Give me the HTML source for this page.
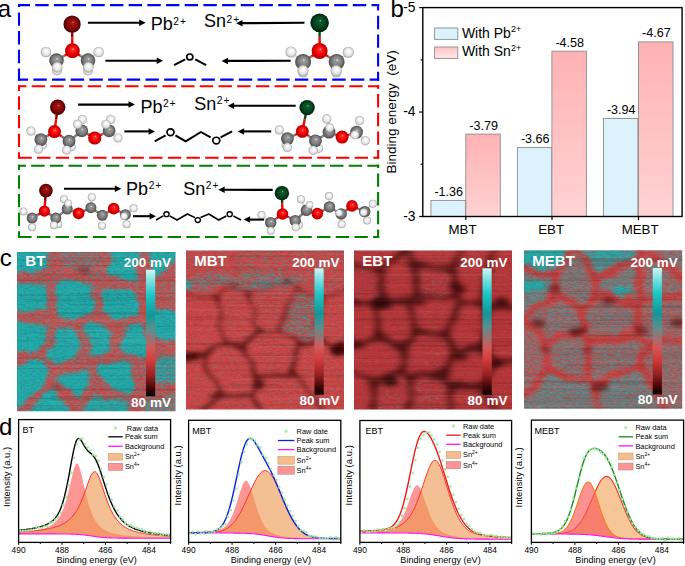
<!DOCTYPE html><html><head><meta charset="utf-8"><style>html,body{margin:0;padding:0;background:#fff;}svg{display:block;font-family:"Liberation Sans", sans-serif;}</style></head><body><svg width="685" height="566" viewBox="0 0 685 566"><defs><radialGradient id="gO" cx="0.5" cy="0.5" r="0.5" fx="0.55" fy="0.38"><stop offset="0" stop-color="#ffc0c0"/><stop offset="0.14" stop-color="#ff3030"/><stop offset="0.6" stop-color="#f20000"/><stop offset="1" stop-color="#a80000"/></radialGradient><radialGradient id="gPb" cx="0.5" cy="0.5" r="0.5" fx="0.55" fy="0.38"><stop offset="0" stop-color="#e08080"/><stop offset="0.14" stop-color="#a01818"/><stop offset="0.6" stop-color="#880808"/><stop offset="1" stop-color="#480000"/></radialGradient><radialGradient id="gSn" cx="0.5" cy="0.5" r="0.5" fx="0.55" fy="0.38"><stop offset="0" stop-color="#80c09a"/><stop offset="0.14" stop-color="#0e5c2e"/><stop offset="0.6" stop-color="#064620"/><stop offset="1" stop-color="#00220c"/></radialGradient><radialGradient id="gC" cx="0.5" cy="0.5" r="0.5" fx="0.55" fy="0.38"><stop offset="0" stop-color="#f0f0f0"/><stop offset="0.16" stop-color="#9a9a9a"/><stop offset="0.6" stop-color="#7e7e7e"/><stop offset="1" stop-color="#4c4c4c"/></radialGradient><radialGradient id="gH" cx="0.5" cy="0.5" r="0.5" fx="0.55" fy="0.38"><stop offset="0" stop-color="#ffffff"/><stop offset="0.35" stop-color="#f6f6f6"/><stop offset="0.75" stop-color="#dcdcdc"/><stop offset="1" stop-color="#a0a0a0"/></radialGradient><linearGradient id="gRed" x1="0" y1="0" x2="0" y2="1"><stop offset="0" stop-color="#ffb2b4"/><stop offset="1" stop-color="#ffd2d4"/></linearGradient><linearGradient id="gRedL" x1="0" y1="0" x2="0" y2="1"><stop offset="0" stop-color="#ffc2c5"/><stop offset="1" stop-color="#ffeaeb"/></linearGradient><linearGradient id="gCB" x1="0" y1="0" x2="0" y2="1"><stop offset="0" stop-color="#d2f6f6"/><stop offset="0.08" stop-color="#7fe4e4"/><stop offset="0.2" stop-color="#1ec6c6"/><stop offset="0.36" stop-color="#129696"/><stop offset="0.47" stop-color="#5e8e8e"/><stop offset="0.53" stop-color="#8c7878"/><stop offset="0.62" stop-color="#d05a5a"/><stop offset="0.72" stop-color="#d23c3c"/><stop offset="0.84" stop-color="#962020"/><stop offset="0.93" stop-color="#4a0808"/><stop offset="1" stop-color="#050000"/></linearGradient><filter id="blurL" x="-20%" y="-20%" width="140%" height="140%"><feTurbulence type="fractalNoise" baseFrequency="0.05 0.08" numOctaves="2" seed="4" result="t"/><feDisplacementMap in="SourceGraphic" in2="t" scale="7" xChannelSelector="R" yChannelSelector="G" result="d"/><feGaussianBlur in="d" stdDeviation="3.0 2.4"/></filter><filter id="noiseD" x="0" y="0" width="100%" height="100%"><feTurbulence type="fractalNoise" baseFrequency="0.3 1.3" numOctaves="2" seed="9" result="t"/><feColorMatrix type="matrix" values="0 0 0 0 0.1  0 0 0 0 0.02  0 0 0 0 0.02  0 0 0 1.8 -0.8"/></filter><clipPath id="clipK0"><rect x="17" y="252" width="158.5" height="159.3"/></clipPath><filter id="kf0" filterUnits="userSpaceOnUse" x="5" y="240" width="182.5" height="183.3" color-interpolation-filters="sRGB"><feTurbulence type="fractalNoise" baseFrequency="0.035 0.06" numOctaves="2" seed="11" result="t"/><feDisplacementMap in="SourceGraphic" in2="t" scale="16" xChannelSelector="R" yChannelSelector="G" result="d"/><feGaussianBlur in="d" stdDeviation="2.4 1.9" result="v"/><feTurbulence type="fractalNoise" baseFrequency="0.28 1.3" numOctaves="1" seed="61" result="n0"/><feColorMatrix in="n0" type="matrix" values="1 0 0 0 0  1 0 0 0 0  1 0 0 0 0  0 0 0 0 1" result="n"/><feComposite in="v" in2="n" operator="arithmetic" k1="0" k2="1" k3="0.6" k4="-0.3" result="m"/><feComponentTransfer in="m" result="mask"><feFuncR type="linear" slope="2.6" intercept="-0.8"/></feComponentTransfer><feColorMatrix in="mask" type="matrix" values="-0.69 0 0 0 0.82  0.38 0 0 0 0.29  0.38 0 0 0 0.29  0 0 0 0 1"/><feGaussianBlur stdDeviation="0.55 0.4"/></filter><filter id="dl0" filterUnits="userSpaceOnUse" x="5" y="240" width="182.5" height="183.3" color-interpolation-filters="sRGB"><feTurbulence type="fractalNoise" baseFrequency="0.035 0.06" numOctaves="2" seed="11" result="t"/><feDisplacementMap in="SourceGraphic" in2="t" scale="12" xChannelSelector="R" yChannelSelector="G" result="d"/><feGaussianBlur in="d" stdDeviation="2.4 1.92"/></filter><clipPath id="clipK1"><rect x="186" y="250.5" width="158" height="158.9"/></clipPath><filter id="kf1" filterUnits="userSpaceOnUse" x="174" y="238.5" width="182" height="182.9" color-interpolation-filters="sRGB"><feTurbulence type="fractalNoise" baseFrequency="0.035 0.06" numOctaves="2" seed="21" result="t"/><feDisplacementMap in="SourceGraphic" in2="t" scale="16" xChannelSelector="R" yChannelSelector="G" result="d"/><feGaussianBlur in="d" stdDeviation="2.4 1.9" result="v"/><feTurbulence type="fractalNoise" baseFrequency="0.28 1.3" numOctaves="1" seed="71" result="n0"/><feColorMatrix in="n0" type="matrix" values="1 0 0 0 0  1 0 0 0 0  1 0 0 0 0  0 0 0 0 1" result="n"/><feComposite in="v" in2="n" operator="arithmetic" k1="0" k2="1" k3="0.6" k4="-0.3" result="m"/><feComponentTransfer in="m" result="mask"><feFuncR type="linear" slope="3.0" intercept="-1"/></feComponentTransfer><feColorMatrix in="mask" type="matrix" values="-0.67 0 0 0 0.8  0.39 0 0 0 0.28  0.39 0 0 0 0.28  0 0 0 0 1"/><feGaussianBlur stdDeviation="0.55 0.4"/></filter><filter id="dl1" filterUnits="userSpaceOnUse" x="174" y="238.5" width="182" height="182.9" color-interpolation-filters="sRGB"><feTurbulence type="fractalNoise" baseFrequency="0.035 0.06" numOctaves="2" seed="21" result="t"/><feDisplacementMap in="SourceGraphic" in2="t" scale="12" xChannelSelector="R" yChannelSelector="G" result="d"/><feGaussianBlur in="d" stdDeviation="2.4 1.92"/></filter><mask id="gm1" maskUnits="userSpaceOnUse" x="181" y="245.5" width="168" height="168.9"><g filter="url(#dl1)"><rect x="172" y="236.5" width="186" height="186.9" fill="#fff"/><path d="M208.34,295.77L178.97,292.84Q172,292.14 172,299.14L172,343.03Q172,350.03 178.92,351.05L194.88,353.42Q201.8,354.44 207.8,350.84L217.53,344.98Q223.53,341.37 222.27,334.49L216.56,303.35Q215.3,296.47 208.34,295.77Z" fill="#000" stroke="#fff" stroke-width="3"/><path d="M249.14,299.31L257.61,323.49Q259.92,330.1 254.87,334.95L250.12,339.52Q245.08,344.37 238.14,343.4L230.47,342.34Q223.53,341.37 222.27,334.49L216.56,303.35Q215.3,296.47 221.4,293.04L227.59,289.56Q233.69,286.14 239.61,289.09L240.92,289.75Q246.83,292.71 249.14,299.31Z" fill="#000" stroke="#fff" stroke-width="2.5"/><path d="M247.29,351.01L255.39,375.29Q257.6,381.93 254.69,387.18L254.04,388.35Q251.14,393.6 244.15,393.97L227.41,394.85Q220.42,395.22 217.51,388.85L204.71,360.81Q201.8,354.44 207.8,350.84L217.53,344.98Q223.53,341.37 230.47,342.34L238.14,343.4Q245.08,344.37 247.29,351.01Z" fill="#000" stroke="#fff" stroke-width="4"/><path d="M266.92,329.89L272.25,329.74Q279.24,329.53 284.65,333.98L293.95,341.64Q299.35,346.09 297.32,352.79L293.44,365.6Q291.41,372.3 284.68,374.22L264.33,380.01Q257.6,381.93 255.39,375.29L247.29,351.01Q245.08,344.37 250.12,339.52L254.87,334.95Q259.92,330.1 266.92,329.89Z" fill="#000" stroke="#fff" stroke-width="3.5"/><path d="M292.46,294.29L281.7,322.98Q279.24,329.53 284.65,333.98L293.95,341.64Q299.35,346.09 306.02,343.94L311.39,342.21Q318.05,340.06 318.59,333.08L320.83,304.52Q321.37,297.54 314.81,295.11L301.48,290.17Q294.92,287.74 292.46,294.29Z" fill="#000" stroke="#fff" stroke-width="2"/><path d="M324.52,342.73L351.53,353.85Q358,356.51 358,363.51L358,416.4Q358,423.4 351,423.4L344.4,423.4Q337.4,423.4 332.71,418.2L296.09,377.51Q291.41,372.3 293.44,365.6L297.32,352.79Q299.35,346.09 306.02,343.94L311.39,342.21Q318.05,340.06 324.52,342.73Z" fill="#000" stroke="#fff" stroke-width="3"/><path d="M264.33,380.01L284.68,374.22Q291.41,372.3 296.09,377.51L332.71,418.2Q337.4,423.4 330.4,423.4L271.35,423.4Q264.35,423.4 261.51,417L253.97,400Q251.14,393.6 254.04,388.35L254.69,387.18Q257.6,381.93 264.33,380.01Z" fill="#000" stroke="#fff" stroke-width="2"/><path d="M215.57,400.26L198.12,418.36Q193.27,423.4 186.27,423.4L179,423.4Q172,423.4 172,416.4L172,357.03Q172,350.03 178.92,351.05L194.88,353.42Q201.8,354.44 204.71,360.81L217.51,388.85Q220.42,395.22 215.57,400.26Z" fill="#000" stroke="#fff" stroke-width="3"/><path d="M249.14,299.31L257.61,323.49Q259.92,330.1 266.92,329.89L272.25,329.74Q279.24,329.53 281.7,322.98L292.46,294.29Q294.92,287.74 292.67,284.67L292.18,283.99Q289.93,280.92 283.18,282.77L253.58,290.86Q246.83,292.71 249.14,299.31Z" fill="#000" stroke="#fff" stroke-width="1.5"/><path d="M172,243.5L172,285.14Q172,292.14 178.97,292.84L208.34,295.77Q215.3,296.47 221.4,293.04L227.59,289.56Q233.69,286.14 234,279.14L235.54,243.49Q235.84,236.5 228.84,236.5L179,236.5Q172,236.5 172,243.5Z" fill="#000" stroke="#fff" stroke-width="0"/><path d="M289.93,243.5L289.93,273.92Q289.93,280.92 283.18,282.77L253.58,290.86Q246.83,292.71 240.92,289.75L239.61,289.09Q233.69,286.14 234,279.14L235.54,243.49Q235.84,236.5 242.84,236.5L282.93,236.5Q289.93,236.5 289.93,243.5Z" fill="#000" stroke="#fff" stroke-width="0"/><path d="M358,243.5L358,277.31Q358,284.31 351.42,286.69L327.95,295.16Q321.37,297.54 314.81,295.11L301.48,290.17Q294.92,287.74 292.67,284.67L292.18,283.99Q289.93,280.92 289.93,273.92L289.93,243.5Q289.93,236.5 296.93,236.5L351,236.5Q358,236.5 358,243.5Z" fill="#000" stroke="#fff" stroke-width="0"/><path d="M351.53,353.85L324.52,342.73Q318.05,340.06 318.59,333.08L320.83,304.52Q321.37,297.54 327.95,295.16L351.42,286.69Q358,284.31 358,291.31L358,349.51Q358,356.51 351.53,353.85Z" fill="#000" stroke="#fff" stroke-width="2"/><path d="M253.97,400L261.51,417Q264.35,423.4 257.35,423.4L200.27,423.4Q193.27,423.4 198.12,418.36L215.57,400.26Q220.42,395.22 227.41,394.85L244.15,393.97Q251.14,393.6 253.97,400Z" fill="#000" stroke="#fff" stroke-width="4.5"/></g></mask><clipPath id="clipK2"><rect x="354" y="250.5" width="158" height="158.9"/></clipPath><filter id="kf2" filterUnits="userSpaceOnUse" x="342" y="238.5" width="182" height="182.9" color-interpolation-filters="sRGB"><feTurbulence type="fractalNoise" baseFrequency="0.035 0.06" numOctaves="2" seed="31" result="t"/><feDisplacementMap in="SourceGraphic" in2="t" scale="16" xChannelSelector="R" yChannelSelector="G" result="d"/><feGaussianBlur in="d" stdDeviation="2.4 1.9" result="v"/><feTurbulence type="fractalNoise" baseFrequency="0.28 1.3" numOctaves="1" seed="81" result="n0"/><feColorMatrix in="n0" type="matrix" values="1 0 0 0 0  1 0 0 0 0  1 0 0 0 0  0 0 0 0 1" result="n"/><feComposite in="v" in2="n" operator="arithmetic" k1="0" k2="1" k3="0.6" k4="-0.3" result="m"/><feComponentTransfer in="m" result="mask"><feFuncR type="linear" slope="3.0" intercept="-1"/></feComponentTransfer><feColorMatrix in="mask" type="matrix" values="-0.59 0 0 0 0.72  0.45 0 0 0 0.22  0.44 0 0 0 0.23  0 0 0 0 1"/><feGaussianBlur stdDeviation="0.55 0.4"/></filter><filter id="dl2" filterUnits="userSpaceOnUse" x="342" y="238.5" width="182" height="182.9" color-interpolation-filters="sRGB"><feTurbulence type="fractalNoise" baseFrequency="0.035 0.06" numOctaves="2" seed="31" result="t"/><feDisplacementMap in="SourceGraphic" in2="t" scale="12" xChannelSelector="R" yChannelSelector="G" result="d"/><feGaussianBlur in="d" stdDeviation="3.0 2.4000000000000004"/></filter><mask id="gm2" maskUnits="userSpaceOnUse" x="349" y="245.5" width="168" height="168.9"><g filter="url(#dl2)"><rect x="340" y="236.5" width="186" height="186.9" fill="#fff"/><path d="M381.27,288.72L380.71,282.63Q379.72,271.67 368.92,269.55L350.79,266Q340,263.88 340,274.88L340,289.13Q340,300.13 350.97,300.98L366.91,302.2Q377.88,303.05 379.85,301.53L380.29,301.19Q382.26,299.67 381.27,288.72Z" fill="#000" stroke="#fff" stroke-width="4.5"/><path d="M381.27,288.72L380.71,282.63Q379.72,271.67 387.58,263.98L396.7,255.06Q404.56,247.37 409.62,255.61L410.74,257.44Q415.8,265.69 415.8,276.69L415.8,286.05Q415.8,297.05 414.05,299.18L413.66,299.66Q411.91,301.79 400.93,301L393.24,300.46Q382.26,299.67 381.27,288.72Z" fill="#000" stroke="#fff" stroke-width="4.5"/><path d="M447.42,297.05L426.8,297.05Q415.8,297.05 415.8,286.05L415.8,276.69Q415.8,265.69 426.73,266.88L441.16,268.44Q452.09,269.63 454.56,280.35L455.95,286.33Q458.42,297.05 447.42,297.05Z" fill="#000" stroke="#fff" stroke-width="4.5"/><path d="M483.14,292.41L495.49,247.11Q498.39,236.5 487.39,236.5L480.21,236.5Q469.21,236.5 464.16,246.27L457.14,259.86Q452.09,269.63 454.56,280.35L455.95,286.33Q458.42,297.05 460.6,299.01L461.09,299.45Q463.28,301.41 470.91,302.13L472.61,302.29Q480.24,303.02 483.14,292.41Z" fill="#000" stroke="#fff" stroke-width="4.5"/><path d="M483.14,292.41L495.49,247.11Q498.39,236.5 509.39,236.5L515,236.5Q526,236.5 526,247.5L526,296.58Q526,307.58 515,307.58L497.56,307.58Q486.56,307.58 483.72,305.53L483.09,305.07Q480.24,303.02 483.14,292.41Z" fill="#000" stroke="#fff" stroke-width="4.5"/><path d="M393.24,300.46L400.93,301Q411.91,301.79 413.71,312.64L415.03,320.54Q416.84,331.39 410.23,338.54L408.77,340.13Q402.16,347.29 392.05,342.95L387.99,341.21Q377.88,336.88 377.88,325.88L377.88,314.05Q377.88,303.05 379.85,301.53L380.29,301.19Q382.26,299.67 393.24,300.46Z" fill="#000" stroke="#fff" stroke-width="4.5"/><path d="M413.66,299.66L414.05,299.18Q415.8,297.05 426.8,297.05L447.42,297.05Q458.42,297.05 460.6,299.01L461.09,299.45Q463.28,301.41 457.68,310.88L448.99,325.58Q443.4,335.05 432.5,333.55L427.74,332.89Q416.84,331.39 415.03,320.54L413.71,312.64Q411.91,301.79 413.66,299.66Z" fill="#000" stroke="#fff" stroke-width="4.5"/><path d="M403.31,358.23L403.69,361.77Q404.84,372.71 406.61,374.37L407,374.74Q408.78,376.4 419.78,376.4L434.29,376.4Q445.29,376.4 449.38,366.19L450.49,363.42Q454.57,353.21 449.54,345.04L448.42,343.22Q443.4,335.05 432.5,333.55L427.74,332.89Q416.84,331.39 410.23,338.54L408.77,340.13Q402.16,347.29 403.31,358.23Z" fill="#000" stroke="#fff" stroke-width="4.5"/><path d="M367.52,340.58L350.36,346.71Q340,350.41 340,356.91L340,358.36Q340,364.87 349.99,369.47L365.31,376.55Q375.29,381.15 385.87,378.13L394.26,375.74Q404.84,372.71 403.69,361.77L403.31,358.23Q402.16,347.29 392.05,342.95L387.99,341.21Q377.88,336.88 367.52,340.58Z" fill="#000" stroke="#fff" stroke-width="4.5"/><path d="M465.46,351.65L472.48,350.65Q483.37,349.09 484.21,338.13L485.72,318.55Q486.56,307.58 483.72,305.53L483.09,305.07Q480.24,303.02 472.61,302.29L470.91,302.13Q463.28,301.41 457.68,310.88L448.99,325.58Q443.4,335.05 448.42,343.22L449.54,345.04Q454.57,353.21 465.46,351.65Z" fill="#000" stroke="#fff" stroke-width="4.5"/><path d="M450.49,363.42L449.38,366.19Q445.29,376.4 447.19,379.25L447.61,379.88Q449.51,382.72 460.45,383.82L472.7,385.04Q483.64,386.14 488.19,376.12L491.17,369.56Q495.73,359.55 490.17,354.85L488.93,353.8Q483.37,349.09 472.48,350.65L465.46,351.65Q454.57,353.21 450.49,363.42Z" fill="#000" stroke="#fff" stroke-width="4.5"/><path d="M497.56,307.58L515,307.58Q526,307.58 526,318.58L526,348.55Q526,359.55 515,359.55L506.73,359.55Q495.73,359.55 490.17,354.85L488.93,353.8Q483.37,349.09 484.21,338.13L485.72,318.55Q486.56,307.58 497.56,307.58Z" fill="#000" stroke="#fff" stroke-width="4.5"/><path d="M406.61,374.37L407,374.74Q408.78,376.4 408.78,387.4L408.78,412.4Q408.78,423.4 397.78,423.4L382.07,423.4Q371.07,423.4 372.16,412.45L374.2,392.1Q375.29,381.15 385.87,378.13L394.26,375.74Q404.84,372.71 406.61,374.37Z" fill="#000" stroke="#fff" stroke-width="4.5"/><path d="M408.78,412.4L408.78,387.4Q408.78,376.4 419.78,376.4L434.29,376.4Q445.29,376.4 447.19,379.25L447.61,379.88Q449.51,382.72 449.51,393.72L449.51,412.4Q449.51,423.4 438.51,423.4L419.78,423.4Q408.78,423.4 408.78,412.4Z" fill="#000" stroke="#fff" stroke-width="4.5"/><path d="M449.51,412.4L449.51,393.72Q449.51,382.72 460.45,383.82L472.7,385.04Q483.64,386.14 487.87,396.29L494.94,413.25Q499.17,423.4 488.17,423.4L460.51,423.4Q449.51,423.4 449.51,412.4Z" fill="#000" stroke="#fff" stroke-width="4.5"/><path d="M515,359.55L506.73,359.55Q495.73,359.55 491.17,369.56L488.19,376.12Q483.64,386.14 487.87,396.29L494.94,413.25Q499.17,423.4 510.17,423.4L515,423.4Q526,423.4 526,412.4L526,370.55Q526,359.55 515,359.55Z" fill="#000" stroke="#fff" stroke-width="4.5"/><path d="M366.91,302.2L350.97,300.98Q340,300.13 340,311.13L340,339.41Q340,350.41 350.36,346.71L367.52,340.58Q377.88,336.88 377.88,325.88L377.88,314.05Q377.88,303.05 366.91,302.2Z" fill="#000" stroke="#fff" stroke-width="4.5"/><path d="M387.58,263.98L396.7,255.06Q404.56,247.37 404.56,242.48L404.56,241.39Q404.56,236.5 393.56,236.5L351,236.5Q340,236.5 340,247.5L340,252.88Q340,263.88 350.79,266L368.92,269.55Q379.72,271.67 387.58,263.98Z" fill="#000" stroke="#fff" stroke-width="4.5"/><path d="M404.56,241.39L404.56,242.48Q404.56,247.37 409.62,255.61L410.74,257.44Q415.8,265.69 426.73,266.88L441.16,268.44Q452.09,269.63 457.14,259.86L464.16,246.27Q469.21,236.5 458.21,236.5L415.56,236.5Q404.56,236.5 404.56,241.39Z" fill="#000" stroke="#fff" stroke-width="4.5"/><path d="M374.2,392.1L372.16,412.45Q371.07,423.4 360.07,423.4L351,423.4Q340,423.4 340,412.4L340,375.87Q340,364.87 349.99,369.47L365.31,376.55Q375.29,381.15 374.2,392.1Z" fill="#000" stroke="#fff" stroke-width="4.5"/></g></mask><clipPath id="clipK3"><rect x="524" y="250.2" width="158.2" height="158.5"/></clipPath><filter id="kf3" filterUnits="userSpaceOnUse" x="512" y="238.2" width="182.2" height="182.5" color-interpolation-filters="sRGB"><feTurbulence type="fractalNoise" baseFrequency="0.035 0.06" numOctaves="2" seed="41" result="t"/><feDisplacementMap in="SourceGraphic" in2="t" scale="16" xChannelSelector="R" yChannelSelector="G" result="d"/><feGaussianBlur in="d" stdDeviation="2.4 1.9" result="v"/><feTurbulence type="fractalNoise" baseFrequency="0.28 1.3" numOctaves="1" seed="91" result="n0"/><feColorMatrix in="n0" type="matrix" values="1 0 0 0 0  1 0 0 0 0  1 0 0 0 0  0 0 0 0 1" result="n"/><feComposite in="v" in2="n" operator="arithmetic" k1="0" k2="1" k3="0.6" k4="-0.3" result="m"/><feComponentTransfer in="m" result="mask"><feFuncR type="linear" slope="2.2" intercept="-0.6"/></feComponentTransfer><feColorMatrix in="mask" type="matrix" values="-0.69 0 0 0 0.82  0.38 0 0 0 0.29  0.38 0 0 0 0.29  0 0 0 0 1"/><feGaussianBlur stdDeviation="0.55 0.4"/></filter><filter id="dl3" filterUnits="userSpaceOnUse" x="512" y="238.2" width="182.2" height="182.5" color-interpolation-filters="sRGB"><feTurbulence type="fractalNoise" baseFrequency="0.035 0.06" numOctaves="2" seed="41" result="t"/><feDisplacementMap in="SourceGraphic" in2="t" scale="12" xChannelSelector="R" yChannelSelector="G" result="d"/><feGaussianBlur in="d" stdDeviation="2.4 1.92"/></filter><mask id="gm3" maskUnits="userSpaceOnUse" x="519" y="245.2" width="168.2" height="168.5"><g filter="url(#dl3)"><rect x="510" y="236.2" width="186.2" height="186.5" fill="#fff"/><path d="M557.63,269.79L570.57,250.38Q574.45,244.55 574.42,240.79L574.41,239.96Q574.38,236.2 567.38,236.2L517,236.2Q510,236.2 510,243.2L510,259.86Q510,266.86 516.86,268.24L546.88,274.24Q553.74,275.61 557.63,269.79Z" fill="#000" stroke="#fff" stroke-width="3"/><path d="M555.48,287.77L554.73,282.54Q553.74,275.61 546.88,274.24L516.86,268.24Q510,266.86 510,273.86L510,312.84Q510,319.84 514.83,320.22L515.9,320.31Q520.72,320.69 526.38,316.58L550.81,298.81Q556.47,294.7 555.48,287.77Z" fill="#000" stroke="#fff" stroke-width="3"/><path d="M589.34,302.63L590.68,301.3Q595.63,296.35 595.63,289.35L595.63,282.55Q595.63,275.55 591.68,269.77L578.4,250.33Q574.45,244.55 570.57,250.38L557.63,269.79Q553.74,275.61 554.73,282.54L555.48,287.77Q556.47,294.7 562.82,297.63L578.04,304.65Q584.39,307.58 589.34,302.63Z" fill="#000" stroke="#fff" stroke-width="3"/><path d="M629.93,263L602.2,273.14Q595.63,275.55 595.63,282.55L595.63,289.35Q595.63,296.35 602.55,297.41L630.14,301.66Q637.06,302.72 638,301.54L638.2,301.27Q639.14,300.09 638.67,293.1L636.97,267.58Q636.5,260.59 629.93,263Z" fill="#000" stroke="#fff" stroke-width="3"/><path d="M641.5,242.51L641.46,241.36Q641.29,236.2 634.29,236.2L581.38,236.2Q574.38,236.2 574.41,239.96L574.42,240.79Q574.45,244.55 578.4,250.33L591.68,269.77Q595.63,275.55 602.2,273.14L629.93,263Q636.5,260.59 638.83,254.78L639.35,253.48Q641.68,247.67 641.5,242.51Z" fill="#000" stroke="#fff" stroke-width="3"/><path d="M647.28,251.87L690.6,284.36Q696.2,288.56 696.2,291L696.2,291.54Q696.2,293.97 689.24,294.72L646.1,299.34Q639.14,300.09 638.67,293.1L636.97,267.58Q636.5,260.59 638.83,254.78L639.35,253.48Q641.68,247.67 647.28,251.87Z" fill="#000" stroke="#fff" stroke-width="3"/><path d="M584.39,326.67L584.39,314.58Q584.39,307.58 578.04,304.65L562.82,297.63Q556.47,294.7 550.81,298.81L526.38,316.58Q520.72,320.69 526.42,324.76L540.78,335.02Q546.47,339.09 553.4,338.1L577.46,334.66Q584.39,333.67 584.39,326.67Z" fill="#000" stroke="#fff" stroke-width="3"/><path d="M596.94,339.5L630.13,334.76Q637.06,333.77 637.06,326.77L637.06,309.72Q637.06,302.72 630.14,301.66L602.55,297.41Q595.63,296.35 590.68,301.3L589.34,302.63Q584.39,307.58 584.39,314.58L584.39,326.67Q584.39,333.67 586.92,336.74L587.48,337.42Q590.01,340.49 596.94,339.5Z" fill="#000" stroke="#fff" stroke-width="3"/><path d="M689.26,341.11L654.85,345.64Q647.91,346.55 643.38,341.22L641.59,339.11Q637.06,333.77 637.06,326.77L637.06,309.72Q637.06,302.72 638,301.54L638.2,301.27Q639.14,300.09 646.1,299.34L689.24,294.72Q696.2,293.97 696.2,300.97L696.2,333.2Q696.2,340.2 689.26,341.11Z" fill="#000" stroke="#fff" stroke-width="3"/><path d="M590.01,370.16L590.01,347.49Q590.01,340.49 587.48,337.42L586.92,336.74Q584.39,333.67 577.46,334.66L553.4,338.1Q546.47,339.09 546.47,346.09L546.47,366.81Q546.47,373.81 553.45,374.35L583.03,376.62Q590.01,377.16 590.01,370.16Z" fill="#000" stroke="#fff" stroke-width="3"/><path d="M590.01,370.16L590.01,347.49Q590.01,340.49 596.94,339.5L630.13,334.76Q637.06,333.77 641.59,339.11L643.38,341.22Q647.91,346.55 646.13,353.32L644.09,361.08Q642.31,367.85 635.77,370.36L602.16,383.29Q595.63,385.8 593.1,381.91L592.54,381.05Q590.01,377.16 590.01,370.16Z" fill="#000" stroke="#fff" stroke-width="3"/><path d="M514.83,320.22L515.9,320.31Q520.72,320.69 526.42,324.76L540.78,335.02Q546.47,339.09 546.47,346.09L546.47,366.81Q546.47,373.81 541.13,378.33L515.34,400.15Q510,404.67 510,397.67L510,326.84Q510,319.84 514.83,320.22Z" fill="#000" stroke="#fff" stroke-width="3"/><path d="M515.34,400.15L541.13,378.33Q546.47,373.81 553.45,374.35L583.03,376.62Q590.01,377.16 592.54,381.05L593.1,381.91Q595.63,385.8 595.63,392.8L595.63,415.7Q595.63,422.7 588.63,422.7L517,422.7Q510,422.7 510,415.7L510,411.67Q510,404.67 515.34,400.15Z" fill="#000" stroke="#fff" stroke-width="3"/><path d="M602.16,383.29L635.77,370.36Q642.31,367.85 645.78,373.93L670.18,416.62Q673.65,422.7 666.65,422.7L602.63,422.7Q595.63,422.7 595.63,415.7L595.63,392.8Q595.63,385.8 602.16,383.29Z" fill="#000" stroke="#fff" stroke-width="3"/><path d="M646.13,353.32L644.09,361.08Q642.31,367.85 645.78,373.93L670.18,416.62Q673.65,422.7 680.65,422.7L689.2,422.7Q696.2,422.7 696.2,415.7L696.2,347.2Q696.2,340.2 689.26,341.11L654.85,345.64Q647.91,346.55 646.13,353.32Z" fill="#000" stroke="#fff" stroke-width="3"/><path d="M641.5,242.51L641.46,241.36Q641.29,236.2 648.29,236.2L689.2,236.2Q696.2,236.2 696.2,243.2L696.2,281.56Q696.2,288.56 690.6,284.36L647.28,251.87Q641.68,247.67 641.5,242.51Z" fill="#000" stroke="#fff" stroke-width="3"/></g></mask><clipPath id="clipXBT"><rect x="18.6" y="419.6" width="152" height="122.8"/></clipPath><clipPath id="clipXMBT"><rect x="188.6" y="420.3" width="152.2" height="122.1"/></clipPath><clipPath id="clipXEBT"><rect x="359.9" y="420.5" width="151.7" height="121.9"/></clipPath><clipPath id="clipXMEBT"><rect x="531.4" y="420.1" width="152.2" height="122.3"/></clipPath></defs><g id="pa">
<text x="-2.2" y="17.3" font-size="24" text-anchor="start" font-weight="normal" fill="#000" >a</text>
<line x1="17.95" y1="5.1" x2="379.15" y2="5.1" stroke="#0000ff" stroke-width="2.1" stroke-dasharray="13.4 5.28" stroke-dashoffset="1.35"/>
<line x1="378.1" y1="4.05" x2="378.1" y2="80.65" stroke="#0000ff" stroke-width="2.1" stroke-dasharray="13.4 5.28" stroke-dashoffset="6.95"/>
<line x1="17.95" y1="79.6" x2="379.15" y2="79.6" stroke="#0000ff" stroke-width="2.1" stroke-dasharray="13.4 5.28" stroke-dashoffset="3.25"/>
<line x1="19" y1="4.05" x2="19" y2="80.65" stroke="#0000ff" stroke-width="2.1" stroke-dasharray="13.4 5.28" stroke-dashoffset="10.35"/>
<line x1="17.95" y1="86.2" x2="379.15" y2="86.2" stroke="#ff0000" stroke-width="2.1" stroke-dasharray="13.4 5.28" stroke-dashoffset="4.95"/>
<line x1="378.1" y1="85.15" x2="378.1" y2="158.85" stroke="#ff0000" stroke-width="2.1" stroke-dasharray="13.4 5.28" stroke-dashoffset="9.75"/>
<line x1="17.95" y1="157.8" x2="379.15" y2="157.8" stroke="#ff0000" stroke-width="2.1" stroke-dasharray="13.4 5.28" stroke-dashoffset="-0.45"/>
<line x1="19" y1="85.15" x2="19" y2="158.85" stroke="#ff0000" stroke-width="2.1" stroke-dasharray="13.4 5.28" stroke-dashoffset="7.55"/>
<line x1="17.95" y1="165.8" x2="379.15" y2="165.8" stroke="#008000" stroke-width="2.1" stroke-dasharray="13.4 5.28" stroke-dashoffset="5.45"/>
<line x1="378.1" y1="164.75" x2="378.1" y2="238.05" stroke="#008000" stroke-width="2.1" stroke-dasharray="13.4 5.28" stroke-dashoffset="10.05"/>
<line x1="17.95" y1="237" x2="379.15" y2="237" stroke="#008000" stroke-width="2.1" stroke-dasharray="13.4 5.28" stroke-dashoffset="-0.25"/>
<line x1="19" y1="164.75" x2="19" y2="238.05" stroke="#008000" stroke-width="2.1" stroke-dasharray="13.4 5.28" stroke-dashoffset="8.15"/>
<line x1="72.1" y1="24.2" x2="72.25" y2="37.45" stroke="#8a0000" stroke-width="2.4"/>
<line x1="72.25" y1="37.45" x2="72.4" y2="50.7" stroke="#f00" stroke-width="2.4"/>
<line x1="72.4" y1="50.7" x2="64.45" y2="55.65" stroke="#f00" stroke-width="2.4"/>
<line x1="64.45" y1="55.65" x2="56.5" y2="60.6" stroke="#777" stroke-width="2.4"/>
<line x1="72.4" y1="50.7" x2="80.2" y2="55.65" stroke="#f00" stroke-width="2.4"/>
<line x1="80.2" y1="55.65" x2="88" y2="60.6" stroke="#777" stroke-width="2.4"/>
<line x1="56.5" y1="60.6" x2="51.2" y2="56.3" stroke="#777" stroke-width="2.4"/>
<line x1="51.2" y1="56.3" x2="45.9" y2="52" stroke="#ddd" stroke-width="2.4"/>
<line x1="88" y1="60.6" x2="93.3" y2="56.3" stroke="#777" stroke-width="2.4"/>
<line x1="93.3" y1="56.3" x2="98.6" y2="52" stroke="#ddd" stroke-width="2.4"/>
<circle cx="57" cy="70.5" r="5" fill="url(#gH)"/>
<circle cx="88" cy="70.5" r="5" fill="url(#gH)"/>
<circle cx="45.9" cy="52" r="5.3" fill="url(#gH)"/>
<circle cx="98.6" cy="52" r="5.3" fill="url(#gH)"/>
<circle cx="56.5" cy="60.6" r="7.3" fill="url(#gC)"/>
<circle cx="88" cy="60.6" r="7.3" fill="url(#gC)"/>
<circle cx="72.4" cy="50.7" r="7.4" fill="url(#gO)"/>
<circle cx="72.1" cy="24.2" r="8.6" fill="url(#gPb)"/>
<circle cx="57.2" cy="67.2" r="5.3" fill="url(#gH)"/>
<circle cx="88.3" cy="67.2" r="5.3" fill="url(#gH)"/>
<line x1="319.6" y1="22.8" x2="319.6" y2="36.9" stroke="#064a22" stroke-width="2.4"/>
<line x1="319.6" y1="36.9" x2="319.6" y2="51" stroke="#f00" stroke-width="2.4"/>
<line x1="319.6" y1="51" x2="311.35" y2="56.45" stroke="#f00" stroke-width="2.4"/>
<line x1="311.35" y1="56.45" x2="303.1" y2="61.9" stroke="#777" stroke-width="2.4"/>
<line x1="319.6" y1="51" x2="328.1" y2="56.45" stroke="#f00" stroke-width="2.4"/>
<line x1="328.1" y1="56.45" x2="336.6" y2="61.9" stroke="#777" stroke-width="2.4"/>
<line x1="303.1" y1="61.9" x2="297.05" y2="56.95" stroke="#777" stroke-width="2.4"/>
<line x1="297.05" y1="56.95" x2="291" y2="52" stroke="#ddd" stroke-width="2.4"/>
<line x1="336.6" y1="61.9" x2="342.45" y2="57.1" stroke="#777" stroke-width="2.4"/>
<line x1="342.45" y1="57.1" x2="348.3" y2="52.3" stroke="#ddd" stroke-width="2.4"/>
<circle cx="303" cy="72.6" r="5" fill="url(#gH)"/>
<circle cx="336.4" cy="72.6" r="5" fill="url(#gH)"/>
<circle cx="291" cy="52" r="5.6" fill="url(#gH)"/>
<circle cx="348.3" cy="52.3" r="5.6" fill="url(#gH)"/>
<circle cx="303.1" cy="61.9" r="8" fill="url(#gC)"/>
<circle cx="336.6" cy="61.9" r="8" fill="url(#gC)"/>
<circle cx="319.6" cy="51" r="8" fill="url(#gO)"/>
<circle cx="319.6" cy="22.8" r="9.3" fill="url(#gSn)"/>
<circle cx="303" cy="70.6" r="5.6" fill="url(#gH)"/>
<circle cx="336.2" cy="70.6" r="5.6" fill="url(#gH)"/>
<line x1="87.9" y1="22.8" x2="139.7" y2="22.8" stroke="#000" stroke-width="2.1"/>
<path d="M145.6,22.8L139.2,26.05L139.2,19.55Z" fill="#000"/>
<line x1="304.5" y1="22.8" x2="242" y2="23.17" stroke="#000" stroke-width="2.1"/>
<path d="M236.1,23.2L242.48,19.91L242.52,26.41Z" fill="#000"/>
<line x1="105.4" y1="60.8" x2="157.2" y2="60.8" stroke="#000" stroke-width="2.1"/>
<path d="M163.1,60.8L156.7,64.05L156.7,57.55Z" fill="#000"/>
<line x1="290.7" y1="60.8" x2="227.5" y2="60.89" stroke="#000" stroke-width="2.1"/>
<path d="M221.6,60.9L228,57.64L228,64.14Z" fill="#000"/>
<text x="150.8" y="29.6" font-size="18">Pb<tspan font-size="10.2" dy="-4.4" dx="0.5" letter-spacing="1.0">2+</tspan></text>
<text x="204" y="27.3" font-size="18">Sn<tspan font-size="10.2" dy="-4.4" dx="0.5" letter-spacing="1.0">2+</tspan></text>
<path d="M174,65.1L185.2,59.3" fill="none" stroke="#000" stroke-width="2.0" stroke-linejoin="round"/>
<path d="M195.2,59.3L206.2,65.1" fill="none" stroke="#000" stroke-width="2.0" stroke-linejoin="round"/>
<ellipse cx="189.8" cy="56.9" rx="3.05" ry="2.95" fill="none" stroke="#000" stroke-width="1.65"/>
<line x1="57.7" y1="107.2" x2="56.1" y2="119.4" stroke="#8a0000" stroke-width="2.4"/>
<line x1="56.1" y1="119.4" x2="54.5" y2="131.6" stroke="#f00" stroke-width="2.4"/>
<line x1="54.5" y1="131.6" x2="47.7" y2="135.6" stroke="#f00" stroke-width="2.4"/>
<line x1="47.7" y1="135.6" x2="40.9" y2="139.6" stroke="#777" stroke-width="2.4"/>
<line x1="54.5" y1="131.6" x2="61.75" y2="136.4" stroke="#f00" stroke-width="2.4"/>
<line x1="61.75" y1="136.4" x2="69" y2="141.2" stroke="#777" stroke-width="2.4"/>
<line x1="69" y1="141.2" x2="75.4" y2="136" stroke="#777" stroke-width="2.4"/>
<line x1="75.4" y1="136" x2="81.8" y2="130.8" stroke="#777" stroke-width="2.4"/>
<line x1="81.8" y1="130.8" x2="88.25" y2="134.4" stroke="#777" stroke-width="2.4"/>
<line x1="88.25" y1="134.4" x2="94.7" y2="138" stroke="#f00" stroke-width="2.4"/>
<line x1="94.7" y1="138" x2="101.9" y2="134.4" stroke="#f00" stroke-width="2.4"/>
<line x1="101.9" y1="134.4" x2="109.1" y2="130.8" stroke="#777" stroke-width="2.4"/>
<line x1="40.9" y1="139.6" x2="35.9" y2="135.35" stroke="#777" stroke-width="2.4"/>
<line x1="35.9" y1="135.35" x2="30.9" y2="131.1" stroke="#ddd" stroke-width="2.4"/>
<line x1="109.1" y1="130.8" x2="113.55" y2="134.4" stroke="#777" stroke-width="2.4"/>
<line x1="113.55" y1="134.4" x2="118" y2="138" stroke="#ddd" stroke-width="2.4"/>
<circle cx="42.5" cy="145.2" r="4.4" fill="url(#gH)"/>
<circle cx="71.4" cy="146.8" r="4.4" fill="url(#gH)"/>
<circle cx="30.9" cy="131.1" r="4.6" fill="url(#gH)"/>
<circle cx="82.3" cy="119.5" r="4.6" fill="url(#gH)"/>
<circle cx="110.7" cy="119.5" r="4.6" fill="url(#gH)"/>
<circle cx="40.9" cy="139.6" r="6.4" fill="url(#gC)"/>
<circle cx="69" cy="141.2" r="6.4" fill="url(#gC)"/>
<circle cx="81.8" cy="130.8" r="6.4" fill="url(#gC)"/>
<circle cx="109.1" cy="130.8" r="6.4" fill="url(#gC)"/>
<circle cx="54.5" cy="131.6" r="6.5" fill="url(#gO)"/>
<circle cx="94.7" cy="138" r="6.6" fill="url(#gO)"/>
<circle cx="57.7" cy="107.2" r="7.7" fill="url(#gPb)"/>
<circle cx="38.5" cy="149.2" r="4.6" fill="url(#gH)"/>
<circle cx="66.6" cy="150" r="4.6" fill="url(#gH)"/>
<circle cx="77.5" cy="124.3" r="4.6" fill="url(#gH)"/>
<circle cx="105.9" cy="124.3" r="4.6" fill="url(#gH)"/>
<circle cx="118" cy="138" r="4.6" fill="url(#gH)"/>
<line x1="307.1" y1="107.6" x2="304.7" y2="119.5" stroke="#064a22" stroke-width="2.4"/>
<line x1="304.7" y1="119.5" x2="302.3" y2="131.4" stroke="#f00" stroke-width="2.4"/>
<line x1="302.3" y1="131.4" x2="294.85" y2="135" stroke="#f00" stroke-width="2.4"/>
<line x1="294.85" y1="135" x2="287.4" y2="138.6" stroke="#777" stroke-width="2.4"/>
<line x1="302.3" y1="131.4" x2="308.85" y2="136.1" stroke="#f00" stroke-width="2.4"/>
<line x1="308.85" y1="136.1" x2="315.4" y2="140.8" stroke="#777" stroke-width="2.4"/>
<line x1="315.4" y1="140.8" x2="322.2" y2="136.45" stroke="#777" stroke-width="2.4"/>
<line x1="322.2" y1="136.45" x2="329" y2="132.1" stroke="#777" stroke-width="2.4"/>
<line x1="329" y1="132.1" x2="335.55" y2="134.6" stroke="#777" stroke-width="2.4"/>
<line x1="335.55" y1="134.6" x2="342.1" y2="137.1" stroke="#f00" stroke-width="2.4"/>
<line x1="342.1" y1="137.1" x2="349.35" y2="134.6" stroke="#f00" stroke-width="2.4"/>
<line x1="349.35" y1="134.6" x2="356.6" y2="132.1" stroke="#777" stroke-width="2.4"/>
<line x1="287.4" y1="138.6" x2="283.35" y2="134.25" stroke="#777" stroke-width="2.4"/>
<line x1="283.35" y1="134.25" x2="279.3" y2="129.9" stroke="#ddd" stroke-width="2.4"/>
<line x1="356.6" y1="132.1" x2="360.95" y2="136.45" stroke="#777" stroke-width="2.4"/>
<line x1="360.95" y1="136.45" x2="365.3" y2="140.8" stroke="#ddd" stroke-width="2.4"/>
<line x1="329" y1="132.1" x2="327.9" y2="125.5" stroke="#777" stroke-width="2.4"/>
<line x1="327.9" y1="125.5" x2="326.8" y2="118.9" stroke="#ddd" stroke-width="2.4"/>
<line x1="356.6" y1="132.1" x2="358.1" y2="126.3" stroke="#777" stroke-width="2.4"/>
<line x1="358.1" y1="126.3" x2="359.6" y2="120.5" stroke="#ddd" stroke-width="2.4"/>
<circle cx="286" cy="145" r="4.4" fill="url(#gH)"/>
<circle cx="318.7" cy="148.5" r="4.4" fill="url(#gH)"/>
<circle cx="279.3" cy="129.9" r="4.6" fill="url(#gH)"/>
<circle cx="326.8" cy="118.9" r="4.6" fill="url(#gH)"/>
<circle cx="359.6" cy="120.5" r="4.6" fill="url(#gH)"/>
<circle cx="365.3" cy="140.8" r="4.6" fill="url(#gH)"/>
<circle cx="287.4" cy="138.6" r="6.4" fill="url(#gC)"/>
<circle cx="315.4" cy="140.8" r="6.4" fill="url(#gC)"/>
<circle cx="329" cy="132.1" r="6.4" fill="url(#gC)"/>
<circle cx="356.6" cy="132.1" r="6.4" fill="url(#gC)"/>
<circle cx="302.3" cy="131.4" r="6.4" fill="url(#gO)"/>
<circle cx="342.1" cy="137.1" r="6.5" fill="url(#gO)"/>
<circle cx="307.1" cy="107.6" r="7.7" fill="url(#gSn)"/>
<circle cx="287.4" cy="147.4" r="4.6" fill="url(#gH)"/>
<circle cx="313.2" cy="150.3" r="4.6" fill="url(#gH)"/>
<circle cx="329.6" cy="127.7" r="4.4" fill="url(#gH)"/>
<circle cx="354.8" cy="134.9" r="4.4" fill="url(#gH)"/>
<line x1="78.1" y1="104.6" x2="129" y2="104.6" stroke="#000" stroke-width="2.1"/>
<path d="M134.9,104.6L128.5,107.85L128.5,101.35Z" fill="#000"/>
<line x1="295.7" y1="105.8" x2="233.6" y2="105.71" stroke="#000" stroke-width="2.1"/>
<path d="M227.7,105.7L234.1,102.46L234.1,108.96Z" fill="#000"/>
<line x1="124.4" y1="131.4" x2="149.1" y2="131.4" stroke="#000" stroke-width="2.1"/>
<path d="M155,131.4L148.6,134.65L148.6,128.15Z" fill="#000"/>
<line x1="271.2" y1="131.4" x2="243.6" y2="131.4" stroke="#000" stroke-width="2.1"/>
<path d="M237.7,131.4L244.1,128.15L244.1,134.65Z" fill="#000"/>
<text x="140.4" y="113" font-size="18">Pb<tspan font-size="10.2" dy="-6.1" dx="0.5" letter-spacing="1.0">2+</tspan></text>
<text x="194.2" y="110.4" font-size="18">Sn<tspan font-size="10.2" dy="-6.5" dx="0.5" letter-spacing="1.0">2+</tspan></text>
<path d="M154.7,141.4L165.6,135.4" fill="none" stroke="#000" stroke-width="2.0" stroke-linejoin="round"/>
<path d="M175.4,135.4L185.7,141.4L200.9,132L210.6,137.4" fill="none" stroke="#000" stroke-width="2.0" stroke-linejoin="round"/>
<path d="M220.6,137.4L232.1,131.4" fill="none" stroke="#000" stroke-width="2.0" stroke-linejoin="round"/>
<ellipse cx="170.5" cy="132.3" rx="3.5" ry="3.35" fill="none" stroke="#000" stroke-width="1.7"/>
<ellipse cx="216.3" cy="140.6" rx="3.5" ry="3.35" fill="none" stroke="#000" stroke-width="1.7"/>
<line x1="45.9" y1="190.6" x2="45.15" y2="200.85" stroke="#8a0000" stroke-width="2.4"/>
<line x1="45.15" y1="200.85" x2="44.4" y2="211.1" stroke="#f00" stroke-width="2.4"/>
<line x1="44.4" y1="211.1" x2="38.25" y2="214.6" stroke="#f00" stroke-width="2.4"/>
<line x1="38.25" y1="214.6" x2="32.1" y2="218.1" stroke="#777" stroke-width="2.4"/>
<line x1="44.4" y1="211.1" x2="50.1" y2="214.6" stroke="#f00" stroke-width="2.4"/>
<line x1="50.1" y1="214.6" x2="55.8" y2="218.1" stroke="#777" stroke-width="2.4"/>
<line x1="55.8" y1="218.1" x2="61.5" y2="213.55" stroke="#777" stroke-width="2.4"/>
<line x1="61.5" y1="213.55" x2="67.2" y2="209" stroke="#777" stroke-width="2.4"/>
<line x1="67.2" y1="209" x2="72.9" y2="211.2" stroke="#777" stroke-width="2.4"/>
<line x1="72.9" y1="211.2" x2="78.6" y2="213.4" stroke="#f00" stroke-width="2.4"/>
<line x1="78.6" y1="213.4" x2="84.75" y2="210.55" stroke="#f00" stroke-width="2.4"/>
<line x1="84.75" y1="210.55" x2="90.9" y2="207.7" stroke="#777" stroke-width="2.4"/>
<line x1="90.9" y1="207.7" x2="96.6" y2="211.5" stroke="#777" stroke-width="2.4"/>
<line x1="96.6" y1="211.5" x2="102.3" y2="215.3" stroke="#777" stroke-width="2.4"/>
<line x1="102.3" y1="215.3" x2="108" y2="211.95" stroke="#777" stroke-width="2.4"/>
<line x1="108" y1="211.95" x2="113.7" y2="208.6" stroke="#f00" stroke-width="2.4"/>
<line x1="113.7" y1="208.6" x2="119.55" y2="211.65" stroke="#f00" stroke-width="2.4"/>
<line x1="119.55" y1="211.65" x2="125.4" y2="214.7" stroke="#777" stroke-width="2.4"/>
<line x1="32.1" y1="218.1" x2="27.8" y2="214.8" stroke="#777" stroke-width="2.4"/>
<line x1="27.8" y1="214.8" x2="23.5" y2="211.5" stroke="#ddd" stroke-width="2.4"/>
<line x1="125.4" y1="214.7" x2="129.5" y2="211.5" stroke="#777" stroke-width="2.4"/>
<line x1="129.5" y1="211.5" x2="133.6" y2="208.3" stroke="#ddd" stroke-width="2.4"/>
<line x1="90.9" y1="207.7" x2="91.35" y2="202.5" stroke="#777" stroke-width="2.4"/>
<line x1="91.35" y1="202.5" x2="91.8" y2="197.3" stroke="#ddd" stroke-width="2.4"/>
<line x1="67.2" y1="209" x2="65.6" y2="204.1" stroke="#777" stroke-width="2.4"/>
<line x1="65.6" y1="204.1" x2="64" y2="199.2" stroke="#ddd" stroke-width="2.4"/>
<circle cx="23.5" cy="211.5" r="4" fill="url(#gH)"/>
<circle cx="58.3" cy="224.2" r="4" fill="url(#gH)"/>
<circle cx="64" cy="199.2" r="4" fill="url(#gH)"/>
<circle cx="91.8" cy="197.3" r="4" fill="url(#gH)"/>
<circle cx="133.6" cy="208.3" r="4" fill="url(#gH)"/>
<circle cx="32.1" cy="218.1" r="5.5" fill="url(#gC)"/>
<circle cx="55.8" cy="218.1" r="5.5" fill="url(#gC)"/>
<circle cx="67.2" cy="209" r="5.5" fill="url(#gC)"/>
<circle cx="90.9" cy="207.7" r="5.5" fill="url(#gC)"/>
<circle cx="102.3" cy="215.3" r="5.5" fill="url(#gC)"/>
<circle cx="125.4" cy="214.7" r="5.5" fill="url(#gC)"/>
<circle cx="44.4" cy="211.1" r="5.6" fill="url(#gO)"/>
<circle cx="78.6" cy="213.4" r="5.8" fill="url(#gO)"/>
<circle cx="113.7" cy="208.6" r="5.8" fill="url(#gO)"/>
<circle cx="45.9" cy="190.6" r="6.8" fill="url(#gPb)"/>
<circle cx="32.1" cy="227.2" r="4" fill="url(#gH)"/>
<circle cx="53.9" cy="225.3" r="4" fill="url(#gH)"/>
<circle cx="68.1" cy="203.4" r="3.8" fill="url(#gH)"/>
<circle cx="101.9" cy="225.7" r="4" fill="url(#gH)"/>
<circle cx="126.6" cy="224.2" r="4" fill="url(#gH)"/>
<circle cx="124.1" cy="216.2" r="3.8" fill="url(#gH)"/>
<line x1="281.9" y1="193.2" x2="282.2" y2="203.6" stroke="#064a22" stroke-width="2.4"/>
<line x1="282.2" y1="203.6" x2="282.5" y2="214" stroke="#f00" stroke-width="2.4"/>
<line x1="282.5" y1="214" x2="276.6" y2="218.3" stroke="#f00" stroke-width="2.4"/>
<line x1="276.6" y1="218.3" x2="270.7" y2="222.6" stroke="#777" stroke-width="2.4"/>
<line x1="282.5" y1="214" x2="288.85" y2="217.3" stroke="#f00" stroke-width="2.4"/>
<line x1="288.85" y1="217.3" x2="295.2" y2="220.6" stroke="#777" stroke-width="2.4"/>
<line x1="295.2" y1="220.6" x2="300.8" y2="215.5" stroke="#777" stroke-width="2.4"/>
<line x1="300.8" y1="215.5" x2="306.4" y2="210.4" stroke="#777" stroke-width="2.4"/>
<line x1="306.4" y1="210.4" x2="311.85" y2="212" stroke="#777" stroke-width="2.4"/>
<line x1="311.85" y1="212" x2="317.3" y2="213.6" stroke="#f00" stroke-width="2.4"/>
<line x1="317.3" y1="213.6" x2="323.4" y2="210.25" stroke="#f00" stroke-width="2.4"/>
<line x1="323.4" y1="210.25" x2="329.5" y2="206.9" stroke="#777" stroke-width="2.4"/>
<line x1="329.5" y1="206.9" x2="335.35" y2="210.45" stroke="#777" stroke-width="2.4"/>
<line x1="335.35" y1="210.45" x2="341.2" y2="214" stroke="#777" stroke-width="2.4"/>
<line x1="341.2" y1="214" x2="346.6" y2="209.95" stroke="#777" stroke-width="2.4"/>
<line x1="346.6" y1="209.95" x2="352" y2="205.9" stroke="#f00" stroke-width="2.4"/>
<line x1="352" y1="205.9" x2="358.35" y2="208.75" stroke="#f00" stroke-width="2.4"/>
<line x1="358.35" y1="208.75" x2="364.7" y2="211.6" stroke="#777" stroke-width="2.4"/>
<line x1="270.7" y1="222.6" x2="266.1" y2="218.85" stroke="#777" stroke-width="2.4"/>
<line x1="266.1" y1="218.85" x2="261.5" y2="215.1" stroke="#ddd" stroke-width="2.4"/>
<line x1="364.7" y1="211.6" x2="368.75" y2="207.7" stroke="#777" stroke-width="2.4"/>
<line x1="368.75" y1="207.7" x2="372.8" y2="203.8" stroke="#ddd" stroke-width="2.4"/>
<line x1="329.5" y1="206.9" x2="329.2" y2="201.5" stroke="#777" stroke-width="2.4"/>
<line x1="329.2" y1="201.5" x2="328.9" y2="196.1" stroke="#ddd" stroke-width="2.4"/>
<line x1="306.4" y1="210.4" x2="303.65" y2="204.85" stroke="#777" stroke-width="2.4"/>
<line x1="303.65" y1="204.85" x2="300.9" y2="199.3" stroke="#ddd" stroke-width="2.4"/>
<circle cx="261.5" cy="215.1" r="4" fill="url(#gH)"/>
<circle cx="300.9" cy="199.3" r="4" fill="url(#gH)"/>
<circle cx="328.9" cy="196.1" r="4" fill="url(#gH)"/>
<circle cx="372.8" cy="203.8" r="4" fill="url(#gH)"/>
<circle cx="299" cy="225" r="4" fill="url(#gH)"/>
<circle cx="270.7" cy="222.6" r="5.7" fill="url(#gC)"/>
<circle cx="295.2" cy="220.6" r="5.7" fill="url(#gC)"/>
<circle cx="306.4" cy="210.4" r="5.7" fill="url(#gC)"/>
<circle cx="329.5" cy="206.9" r="5.7" fill="url(#gC)"/>
<circle cx="341.2" cy="214" r="5.7" fill="url(#gC)"/>
<circle cx="364.7" cy="211.6" r="5.7" fill="url(#gC)"/>
<circle cx="282.5" cy="214" r="5.8" fill="url(#gO)"/>
<circle cx="317.3" cy="213.6" r="5.8" fill="url(#gO)"/>
<circle cx="352" cy="205.9" r="5.8" fill="url(#gO)"/>
<circle cx="281.9" cy="193.2" r="7.2" fill="url(#gSn)"/>
<circle cx="270.7" cy="230.8" r="4" fill="url(#gH)"/>
<circle cx="295.6" cy="227.3" r="4" fill="url(#gH)"/>
<circle cx="309.5" cy="204.9" r="3.8" fill="url(#gH)"/>
<circle cx="341.6" cy="224.3" r="4" fill="url(#gH)"/>
<circle cx="339.1" cy="213" r="3.6" fill="url(#gH)"/>
<circle cx="367.1" cy="220.6" r="4" fill="url(#gH)"/>
<circle cx="363.6" cy="212.4" r="3.8" fill="url(#gH)"/>
<line x1="64" y1="188.7" x2="115.4" y2="188.7" stroke="#000" stroke-width="2.1"/>
<path d="M121.3,188.7L114.9,191.95L114.9,185.45Z" fill="#000"/>
<line x1="272.7" y1="189.9" x2="224.2" y2="189.72" stroke="#000" stroke-width="2.1"/>
<path d="M218.3,189.7L224.71,186.47L224.69,192.97Z" fill="#000"/>
<line x1="133" y1="216.2" x2="150.1" y2="216.2" stroke="#000" stroke-width="2.1"/>
<path d="M156,216.2L149.6,219.45L149.6,212.95Z" fill="#000"/>
<line x1="264.1" y1="219.6" x2="249.6" y2="219.6" stroke="#000" stroke-width="2.1"/>
<path d="M243.7,219.6L250.1,216.35L250.1,222.85Z" fill="#000"/>
<text x="126.1" y="194.8" font-size="18">Pb<tspan font-size="10.2" dy="-5.5" dx="0.5" letter-spacing="1.0">2+</tspan></text>
<text x="183.3" y="194.8" font-size="18">Sn<tspan font-size="10.2" dy="-5.5" dx="0.5" letter-spacing="1.0">2+</tspan></text>
<path d="M156,220L163.3,215.9" fill="none" stroke="#000" stroke-width="1.6" stroke-linejoin="round"/>
<path d="M169.7,215.9L176.9,220L187.4,214L195,217.6" fill="none" stroke="#000" stroke-width="1.6" stroke-linejoin="round"/>
<path d="M200.6,217.6L208.8,214L218.7,220L226.3,216" fill="none" stroke="#000" stroke-width="1.6" stroke-linejoin="round"/>
<path d="M233.3,216L241,220" fill="none" stroke="#000" stroke-width="1.6" stroke-linejoin="round"/>
<ellipse cx="166.5" cy="214.2" rx="2.6" ry="2.45" fill="none" stroke="#000" stroke-width="1.35"/>
<ellipse cx="197.8" cy="220" rx="2.6" ry="2.45" fill="none" stroke="#000" stroke-width="1.35"/>
<ellipse cx="229.7" cy="214.2" rx="2.6" ry="2.45" fill="none" stroke="#000" stroke-width="1.35"/>
</g>
<g id="pb">
<text x="390.6" y="16.8" font-size="24" text-anchor="start" font-weight="normal" fill="#000" >b</text>
<rect x="430.9" y="200.4" width="34.5" height="16.1" fill="#dcf3fd" stroke="#8c8c8c" stroke-width="0.9"/>
<text x="448.75" y="195.8" font-size="12.6" text-anchor="middle" font-weight="normal" fill="#000" >-1.36</text>
<rect x="465.8" y="134.1" width="34.5" height="82.4" fill="url(#gRed)" stroke="#8c8c8c" stroke-width="0.9"/>
<text x="483.65" y="129.5" font-size="12.6" text-anchor="middle" font-weight="normal" fill="#000" >-3.79</text>
<rect x="517.4" y="147.6" width="34.5" height="68.9" fill="#dcf3fd" stroke="#8c8c8c" stroke-width="0.9"/>
<text x="535.25" y="143" font-size="12.6" text-anchor="middle" font-weight="normal" fill="#000" >-3.66</text>
<rect x="551.9" y="51.2" width="34.5" height="165.3" fill="url(#gRed)" stroke="#8c8c8c" stroke-width="0.9"/>
<text x="569.75" y="46.6" font-size="12.6" text-anchor="middle" font-weight="normal" fill="#000" >-4.58</text>
<rect x="603.4" y="118.5" width="34.5" height="98" fill="#dcf3fd" stroke="#8c8c8c" stroke-width="0.9"/>
<text x="621.25" y="113.9" font-size="12.6" text-anchor="middle" font-weight="normal" fill="#000" >-3.94</text>
<rect x="638.5" y="41.9" width="34.5" height="174.6" fill="url(#gRed)" stroke="#8c8c8c" stroke-width="0.9"/>
<text x="656.35" y="37.3" font-size="12.6" text-anchor="middle" font-weight="normal" fill="#000" >-4.67</text>
<rect x="422.8" y="7.6" width="259.3" height="208.9" fill="none" stroke="#000" stroke-width="1.4"/>
<line x1="419.2" y1="7.6" x2="422.8" y2="7.6" stroke="#000" stroke-width="1.2"/>
<line x1="420.6" y1="59.83" x2="422.8" y2="59.83" stroke="#000" stroke-width="1.2"/>
<line x1="419.2" y1="112.05" x2="422.8" y2="112.05" stroke="#000" stroke-width="1.2"/>
<line x1="420.6" y1="164.28" x2="422.8" y2="164.28" stroke="#000" stroke-width="1.2"/>
<line x1="419.2" y1="216.5" x2="422.8" y2="216.5" stroke="#000" stroke-width="1.2"/>
<text x="415.5" y="11.9" font-size="13.8" text-anchor="end" font-weight="normal" fill="#000" >-5</text>
<text x="415.5" y="116.35" font-size="13.8" text-anchor="end" font-weight="normal" fill="#000" >-4</text>
<text x="415.5" y="220.8" font-size="13.8" text-anchor="end" font-weight="normal" fill="#000" >-3</text>
<line x1="465.8" y1="216.5" x2="465.8" y2="220.1" stroke="#000" stroke-width="1.2"/>
<line x1="552" y1="216.5" x2="552" y2="220.1" stroke="#000" stroke-width="1.2"/>
<line x1="638.5" y1="216.5" x2="638.5" y2="220.1" stroke="#000" stroke-width="1.2"/>
<text x="462.6" y="234.4" font-size="13.3" text-anchor="middle" font-weight="normal" fill="#000" >MBT</text>
<text x="551.2" y="234.4" font-size="13.3" text-anchor="middle" font-weight="normal" fill="#000" >EBT</text>
<text x="640.1" y="234.4" font-size="13.3" text-anchor="middle" font-weight="normal" fill="#000" >MEBT</text>
<text transform="translate(395.5,111.9) rotate(-90)" font-size="13.5" text-anchor="middle" xml:space="preserve">Binding energy  (eV)</text>
<rect x="434.6" y="28" width="23.2" height="11.4" fill="#dcf3fd" stroke="#8c9aa0" stroke-width="1"/>
<rect x="434.6" y="47" width="23.2" height="11.4" fill="url(#gRedL)" stroke="#a09090" stroke-width="1"/>
<text x="461.9" y="37.5" font-size="14">With Pb<tspan font-size="9" dy="-5.2" dx="0.2">2+</tspan></text>
<text x="461.9" y="56.4" font-size="14">With Sn<tspan font-size="9" dy="-5.2" dx="0.2">2+</tspan></text>
</g>
<g id="pc">
<text x="-0.2" y="266.2" font-size="24" text-anchor="start" font-weight="normal" fill="#000" >c</text>
<g clip-path="url(#clipK0)">
<g filter="url(#kf0)">
<rect x="3" y="238" width="186.5" height="187.3" fill="rgb(92,92,92)"/>
<path d="M47.63,275.61L9.95,279.96Q3,280.76 3,287.76L3,307.39Q3,314.39 9.97,315.07L44.08,318.37Q51.05,319.04 51.61,312.06L54.03,281.79Q54.59,274.81 47.63,275.61Z" fill="rgb(204,204,204)" stroke="rgb(92,92,92)" stroke-width="12"/>
<path d="M93.09,280.97L61.82,275.65Q54.92,274.48 54.77,274.63L54.73,274.66Q54.59,274.81 54.03,281.79L51.61,312.06Q51.05,319.04 51.34,319.33L51.41,319.39Q51.7,319.67 58.6,320.89L72.3,323.31Q79.19,324.53 84.68,320.18L88.64,317.04Q94.12,312.69 95.44,305.81L98.67,289.02Q99.99,282.14 93.09,280.97Z" fill="rgb(219,219,219)" stroke="rgb(92,92,92)" stroke-width="12"/>
<path d="M143,294.63L144.69,298.31Q147.62,304.67 145.57,311.36L144.99,313.24Q142.94,319.93 136.26,322.05L125.32,325.51Q118.65,327.63 112.67,323.98L100.1,316.33Q94.12,312.69 95.44,305.81L98.67,289.02Q99.99,282.14 100.38,281.81L100.46,281.74Q100.85,281.41 107.74,282.61L133.18,287.06Q140.07,288.27 143,294.63Z" fill="rgb(219,219,219)" stroke="rgb(92,92,92)" stroke-width="12"/>
<path d="M35.98,358.04L10,358.04Q3,358.04 3,351.04L3,321.39Q3,314.39 9.97,315.07L44.08,318.37Q51.05,319.04 51.34,319.33L51.41,319.39Q51.7,319.67 50.15,326.5L44.53,351.21Q42.98,358.04 35.98,358.04Z" fill="rgb(214,214,214)" stroke="rgb(92,92,92)" stroke-width="12"/>
<path d="M61.21,367.41L78.57,361.63Q85.21,359.41 84.02,352.52L80.38,331.42Q79.19,324.53 72.3,323.31L58.6,320.89Q51.7,319.67 50.15,326.5L44.53,351.21Q42.98,358.04 47.93,362.99L49.62,364.68Q54.57,369.63 61.21,367.41Z" fill="rgb(214,214,214)" stroke="rgb(92,92,92)" stroke-width="12"/>
<path d="M88.64,317.04L84.68,320.18Q79.19,324.53 80.38,331.42L84.02,352.52Q85.21,359.41 87.4,360.78L87.89,361.09Q90.09,362.46 96.75,360.33L109.45,356.26Q116.12,354.13 116.79,347.16L117.98,334.59Q118.65,327.63 112.67,323.98L100.1,316.33Q94.12,312.69 88.64,317.04Z" fill="rgb(214,214,214)" stroke="rgb(92,92,92)" stroke-width="12"/>
<path d="M146.36,326.04L154.17,339.99Q157.59,346.1 153.22,351.57L144.63,362.3Q140.25,367.77 134.16,364.33L122.22,357.57Q116.12,354.13 116.79,347.16L117.98,334.59Q118.65,327.63 125.32,325.51L136.26,322.05Q142.94,319.93 146.36,326.04Z" fill="rgb(204,204,204)" stroke="rgb(92,92,92)" stroke-width="12"/>
<path d="M53.51,376.22L53.27,377.69Q52.21,384.28 46.77,388.68L8.44,419.71Q3,424.11 3,417.11L3,365.04Q3,358.04 10,358.04L35.98,358.04Q42.98,358.04 47.93,362.99L49.62,364.68Q54.57,369.63 53.51,376.22Z" fill="rgb(219,219,219)" stroke="rgb(92,92,92)" stroke-width="12"/>
<path d="M87.89,361.09L87.4,360.78Q85.21,359.41 78.57,361.63L61.21,367.41Q54.57,369.63 53.51,376.22L53.27,377.69Q52.21,384.28 57.47,388.89L72.83,402.32Q78.09,406.93 82.67,401.63L91.44,391.47Q96.01,386.17 94.32,379.38L91.78,369.25Q90.09,362.46 87.89,361.09Z" fill="rgb(219,219,219)" stroke="rgb(92,92,92)" stroke-width="12"/>
<path d="M141.36,381.78L140.81,374.75Q140.25,367.77 134.16,364.33L122.22,357.57Q116.12,354.13 109.45,356.26L96.75,360.33Q90.09,362.46 91.78,369.25L94.32,379.38Q96.01,386.17 102.55,388.68L127.3,398.2Q133.83,400.72 137.47,395.34L138.28,394.14Q141.91,388.76 141.36,381.78Z" fill="rgb(214,214,214)" stroke="rgb(92,92,92)" stroke-width="12"/>
<path d="M78.01,413.93L77.96,418.3Q77.87,425.3 70.87,425.3L10,425.3Q3,425.3 3,424.77L3,424.65Q3,424.11 8.44,419.71L46.77,388.68Q52.21,384.28 57.47,388.89L72.83,402.32Q78.09,406.93 78.01,413.93Z" fill="rgb(204,204,204)" stroke="rgb(92,92,92)" stroke-width="12"/>
<path d="M133.59,407.71L133.22,418.3Q132.98,425.3 125.98,425.3L84.87,425.3Q77.87,425.3 77.96,418.3L78.01,413.93Q78.09,406.93 82.67,401.63L91.44,391.47Q96.01,386.17 102.55,388.68L127.3,398.2Q133.83,400.72 133.59,407.71Z" fill="rgb(184,184,184)" stroke="rgb(92,92,92)" stroke-width="12"/>
<path d="M47.63,275.61L9.95,279.96Q3,280.76 3,273.76L3,245Q3,238 10,238L46.37,238Q53.37,238 53.67,244.99L54.62,267.48Q54.92,274.48 54.77,274.63L54.73,274.66Q54.59,274.81 47.63,275.61Z" fill="rgb(204,204,204)" stroke="rgb(92,92,92)" stroke-width="12"/>
<path d="M133.18,287.06L107.74,282.61Q100.85,281.41 101.67,274.46L105.18,244.95Q106.01,238 113.01,238L132.94,238Q139.94,238 140.97,244.92L145.01,271.85Q146.05,278.78 143.36,283.05L142.76,284Q140.07,288.27 133.18,287.06Z" fill="rgb(209,209,209)" stroke="rgb(92,92,92)" stroke-width="12"/>
<path d="M100.46,281.74L100.38,281.81Q99.99,282.14 93.09,280.97L61.82,275.65Q54.92,274.48 54.62,267.48L53.67,244.99Q53.37,238 60.37,238L99.01,238Q106.01,238 105.18,244.95L101.67,274.46Q100.85,281.41 100.46,281.74Z" fill="rgb(115,115,115)" stroke="rgb(92,92,92)" stroke-width="12"/>
<path d="M146.36,326.04L154.17,339.99Q157.59,346.1 164.59,346.1L182.5,346.1Q189.5,346.1 189.5,339.1L189.5,311.67Q189.5,304.67 182.5,304.67L154.62,304.67Q147.62,304.67 145.57,311.36L144.99,313.24Q142.94,319.93 146.36,326.04Z" fill="rgb(204,204,204)" stroke="rgb(92,92,92)" stroke-width="12"/>
<path d="M143,294.63L144.69,298.31Q147.62,304.67 154.62,304.67L182.5,304.67Q189.5,304.67 189.5,297.67L189.5,270.57Q189.5,263.57 182.89,265.88L152.66,276.46Q146.05,278.78 143.36,283.05L142.76,284Q140.07,288.27 143,294.63Z" fill="rgb(97,97,97)" stroke="rgb(92,92,92)" stroke-width="12"/>
<path d="M148.91,389.01L182.5,390.21Q189.5,390.46 189.5,383.46L189.5,353.1Q189.5,346.1 182.5,346.1L164.59,346.1Q157.59,346.1 153.22,351.57L144.63,362.3Q140.25,367.77 140.81,374.75L141.36,381.78Q141.91,388.76 148.91,389.01Z" fill="rgb(158,158,158)" stroke="rgb(92,92,92)" stroke-width="12"/>
<path d="M148.91,389.01L182.5,390.21Q189.5,390.46 189.5,397.46L189.5,418.3Q189.5,425.3 182.5,425.3L139.98,425.3Q132.98,425.3 133.22,418.3L133.59,407.71Q133.83,400.72 137.47,395.34L138.28,394.14Q141.91,388.76 148.91,389.01Z" fill="rgb(128,128,128)" stroke="rgb(92,92,92)" stroke-width="12"/>
<path d="M152.66,276.46L182.89,265.88Q189.5,263.57 189.5,256.57L189.5,245Q189.5,238 182.5,238L146.94,238Q139.94,238 140.97,244.92L145.01,271.85Q146.05,278.78 152.66,276.46Z" fill="rgb(189,189,189)" stroke="rgb(92,92,92)" stroke-width="12"/>
</g>
<g filter="url(#dl0)">
<ellipse cx="83.29" cy="270.54" rx="7.42" ry="4.04" fill="#500000" opacity="0.35"/>
<ellipse cx="56.33" cy="388.52" rx="6.18" ry="3.37" fill="#500000" opacity="0.3"/>
</g>
<rect x="17.46" y="252" width="163.57" height="0.8" fill="#000000" opacity="0.07"/>
<rect x="4.55" y="254.12" width="183.41" height="1" fill="#ffffff" opacity="0.04"/>
<rect x="56.87" y="256.11" width="101.99" height="1.2" fill="#ffffff" opacity="0.06"/>
<rect x="62.69" y="257.36" width="66.52" height="1.2" fill="#000000" opacity="0.08"/>
<rect x="1.39" y="259.39" width="48.13" height="1" fill="#000000" opacity="0.07"/>
<rect x="20.84" y="260.41" width="142.65" height="1.2" fill="#000000" opacity="0.09"/>
<rect x="80.77" y="261.93" width="69.86" height="1.6" fill="#ffffff" opacity="0.04"/>
<rect x="26.89" y="263.09" width="134.09" height="1.6" fill="#ffffff" opacity="0"/>
<rect x="34.14" y="264" width="133.33" height="0.8" fill="#ffffff" opacity="0.04"/>
<rect x="15.95" y="264.98" width="97.29" height="0.8" fill="#000000" opacity="0.12"/>
<rect x="58.26" y="267.34" width="73.01" height="1.6" fill="#ffffff" opacity="0.02"/>
<rect x="90.6" y="268.33" width="72.42" height="1.6" fill="#ffffff" opacity="0.05"/>
<rect x="51.08" y="269.41" width="53.78" height="1.2" fill="#ffffff" opacity="0.02"/>
<rect x="54.85" y="271.64" width="103.27" height="1" fill="#ffffff" opacity="0.03"/>
<rect x="23.97" y="273.84" width="116.39" height="1" fill="#000000" opacity="0.12"/>
<rect x="36.81" y="275.43" width="107.53" height="1" fill="#000000" opacity="0.06"/>
<rect x="40.8" y="277.17" width="185.73" height="1.6" fill="#000000" opacity="0.02"/>
<rect x="3.45" y="278.64" width="97.43" height="0.8" fill="#000000" opacity="0.05"/>
<rect x="10.83" y="279.68" width="170.52" height="1.6" fill="#000000" opacity="0.1"/>
<rect x="75.28" y="281.72" width="112.92" height="1.6" fill="#ffffff" opacity="0.02"/>
<rect x="0.27" y="283.04" width="75.45" height="1" fill="#000000" opacity="0.04"/>
<rect x="26.41" y="285.29" width="168.98" height="1.6" fill="#ffffff" opacity="0.01"/>
<rect x="87.63" y="286.49" width="156.94" height="1.2" fill="#000000" opacity="0.01"/>
<rect x="32.83" y="288.82" width="104.71" height="1.2" fill="#ffffff" opacity="0.03"/>
<rect x="39.35" y="290.88" width="188.24" height="1.2" fill="#ffffff" opacity="0.04"/>
<rect x="70.81" y="292.78" width="146.73" height="1.2" fill="#000000" opacity="0.06"/>
<rect x="17.69" y="294.41" width="132.79" height="1.6" fill="#000000" opacity="0.09"/>
<rect x="83.84" y="295.4" width="171.85" height="0.8" fill="#ffffff" opacity="0.04"/>
<rect x="78.77" y="297.24" width="97.19" height="0.8" fill="#000000" opacity="0.1"/>
<rect x="25.04" y="298.62" width="146.7" height="1.6" fill="#000000" opacity="0.08"/>
<rect x="31.64" y="300.23" width="87.07" height="1.2" fill="#000000" opacity="0.08"/>
<rect x="50.58" y="302.48" width="99.91" height="1.6" fill="#000000" opacity="0.01"/>
<rect x="68.53" y="304.44" width="56.89" height="1" fill="#000000" opacity="0.12"/>
<rect x="28.97" y="306.59" width="153.17" height="1.2" fill="#ffffff" opacity="0.02"/>
<rect x="27.54" y="308.37" width="126.88" height="1.2" fill="#000000" opacity="0.03"/>
<rect x="91.4" y="310.48" width="74.9" height="0.8" fill="#ffffff" opacity="0.05"/>
<rect x="55.9" y="312.19" width="103.54" height="1.6" fill="#000000" opacity="0.1"/>
<rect x="72.83" y="313.53" width="183.74" height="1" fill="#000000" opacity="0.1"/>
<rect x="0.63" y="314.86" width="99.76" height="0.8" fill="#000000" opacity="0.07"/>
<rect x="12.66" y="317.15" width="134" height="1.2" fill="#000000" opacity="0.02"/>
<rect x="47.73" y="319.34" width="97.39" height="1" fill="#ffffff" opacity="0.07"/>
<rect x="41.14" y="320.77" width="114.71" height="1.2" fill="#ffffff" opacity="0.07"/>
<rect x="78.8" y="322.29" width="164.85" height="1.6" fill="#000000" opacity="0.02"/>
<rect x="60.63" y="323.64" width="53.45" height="1.6" fill="#ffffff" opacity="0.01"/>
<rect x="75.76" y="325.82" width="98.93" height="1" fill="#000000" opacity="0.12"/>
<rect x="91.92" y="327.22" width="79.41" height="0.8" fill="#000000" opacity="0.02"/>
<rect x="15.42" y="328.95" width="182.69" height="0.8" fill="#000000" opacity="0.04"/>
<rect x="45.8" y="329.82" width="71.57" height="1.6" fill="#ffffff" opacity="0.05"/>
<rect x="0.7" y="331.91" width="166.43" height="1.6" fill="#000000" opacity="0.04"/>
<rect x="66.16" y="332.99" width="185.81" height="1.6" fill="#ffffff" opacity="0.05"/>
<rect x="60.4" y="334.43" width="150.72" height="0.8" fill="#ffffff" opacity="0.03"/>
<rect x="58.51" y="336.08" width="134.26" height="0.8" fill="#ffffff" opacity="0.07"/>
<rect x="35.35" y="337.73" width="80.2" height="0.8" fill="#000000" opacity="0.12"/>
<rect x="54.84" y="339.35" width="88.54" height="1.6" fill="#ffffff" opacity="0.07"/>
<rect x="-0.41" y="340.26" width="104.64" height="1" fill="#000000" opacity="0.07"/>
<rect x="69.15" y="341.11" width="98.68" height="1.6" fill="#ffffff" opacity="0.07"/>
<rect x="92.2" y="342.91" width="76.3" height="1" fill="#ffffff" opacity="0.01"/>
<rect x="38.56" y="345.16" width="126.17" height="1.6" fill="#000000" opacity="0.07"/>
<rect x="65.05" y="346.01" width="157.03" height="0.8" fill="#ffffff" opacity="0.06"/>
<rect x="70.28" y="347.1" width="73.63" height="1.6" fill="#ffffff" opacity="0.05"/>
<rect x="34.35" y="348.57" width="113.04" height="0.8" fill="#000000" opacity="0.01"/>
<rect x="91.55" y="349.91" width="149.26" height="0.8" fill="#ffffff" opacity="0.03"/>
<rect x="42.73" y="351.77" width="69.46" height="1" fill="#ffffff" opacity="0.01"/>
<rect x="8.95" y="352.7" width="148.17" height="1.2" fill="#ffffff" opacity="0.01"/>
<rect x="71.8" y="354.79" width="108.55" height="0.8" fill="#000000" opacity="0.08"/>
<rect x="61.15" y="356.41" width="123.95" height="0.8" fill="#000000" opacity="0.07"/>
<rect x="11.98" y="357.55" width="51.39" height="1.2" fill="#000000" opacity="0.1"/>
<rect x="43.02" y="359.17" width="176.53" height="0.8" fill="#000000" opacity="0.06"/>
<rect x="86.27" y="360.2" width="165.3" height="1.6" fill="#000000" opacity="0.05"/>
<rect x="1.28" y="362.24" width="131.78" height="1.2" fill="#000000" opacity="0.06"/>
<rect x="32.08" y="363.3" width="184.62" height="1.2" fill="#000000" opacity="0.06"/>
<rect x="28.42" y="365.33" width="181.43" height="1.6" fill="#ffffff" opacity="0.05"/>
<rect x="49.39" y="366.34" width="54.46" height="1.6" fill="#ffffff" opacity="0.02"/>
<rect x="9.66" y="368.12" width="188.98" height="0.8" fill="#000000" opacity="0.09"/>
<rect x="53.19" y="370.41" width="141.98" height="1.6" fill="#ffffff" opacity="0.03"/>
<rect x="42.26" y="372.7" width="91.96" height="0.8" fill="#ffffff" opacity="0.03"/>
<rect x="64.57" y="374.7" width="153.92" height="1.6" fill="#000000" opacity="0.06"/>
<rect x="45.58" y="376.65" width="165.91" height="1.6" fill="#ffffff" opacity="0.04"/>
<rect x="71.37" y="378.52" width="169.34" height="1" fill="#000000" opacity="0.06"/>
<rect x="5.81" y="380.26" width="182.88" height="1" fill="#ffffff" opacity="0.03"/>
<rect x="35.14" y="382.56" width="77.19" height="1.6" fill="#ffffff" opacity="0.01"/>
<rect x="32.29" y="383.9" width="48.25" height="1.2" fill="#ffffff" opacity="0.03"/>
<rect x="13.91" y="385.78" width="165.19" height="0.8" fill="#000000" opacity="0.03"/>
<rect x="42.87" y="388" width="172.67" height="1.6" fill="#000000" opacity="0.01"/>
<rect x="48.63" y="388.92" width="150.89" height="1.6" fill="#000000" opacity="0.11"/>
<rect x="90.73" y="390.14" width="154.98" height="1.6" fill="#000000" opacity="0.01"/>
<rect x="96.01" y="392.3" width="137.83" height="1" fill="#ffffff" opacity="0"/>
<rect x="41.74" y="394.24" width="79.9" height="1.6" fill="#ffffff" opacity="0.05"/>
<rect x="51.7" y="395.84" width="111.48" height="1.6" fill="#000000" opacity="0.12"/>
<rect x="27.12" y="397.85" width="80.99" height="1.2" fill="#000000" opacity="0.1"/>
<rect x="50.75" y="399.25" width="161.62" height="1" fill="#000000" opacity="0.1"/>
<rect x="27.52" y="401.42" width="157.09" height="0.8" fill="#ffffff" opacity="0.07"/>
<rect x="0.53" y="402.27" width="67.76" height="1.6" fill="#ffffff" opacity="0.04"/>
<rect x="32.37" y="403.85" width="50.01" height="1.2" fill="#ffffff" opacity="0.05"/>
<rect x="20.74" y="405.06" width="121.05" height="1" fill="#000000" opacity="0.08"/>
<rect x="28.78" y="407.41" width="108.38" height="1.6" fill="#000000" opacity="0.04"/>
<rect x="2.6" y="409.59" width="116.34" height="1.2" fill="#000000" opacity="0.04"/>
<rect x="17" y="252" width="158.5" height="159.3" filter="url(#noiseD)" opacity="0.3"/>
<text x="25.3" y="266" font-size="15" font-weight="bold" fill="#fff">BT</text>
<text x="171.1" y="267.4" font-size="13.5" font-weight="bold" fill="#fff" text-anchor="end">200 mV</text>
<text x="170.9" y="406.9" font-size="13.5" font-weight="bold" fill="#fff" text-anchor="end">80 mV</text>
<rect x="146" y="269.8" width="9.2" height="126.4" fill="url(#gCB)"/>
</g>
<g clip-path="url(#clipK1)">
<g filter="url(#kf1)">
<rect x="172" y="236.5" width="186" height="186.9" fill="rgb(69,69,69)"/>
<path d="M208.34,295.77L178.97,292.84Q172,292.14 172,299.14L172,343.03Q172,350.03 178.92,351.05L194.88,353.42Q201.8,354.44 207.8,350.84L217.53,344.98Q223.53,341.37 222.27,334.49L216.56,303.35Q215.3,296.47 208.34,295.77Z" fill="rgb(71,71,71)" stroke="rgb(69,69,69)" stroke-width="2"/>
<path d="M249.14,299.31L257.61,323.49Q259.92,330.1 254.87,334.95L250.12,339.52Q245.08,344.37 238.14,343.4L230.47,342.34Q223.53,341.37 222.27,334.49L216.56,303.35Q215.3,296.47 221.4,293.04L227.59,289.56Q233.69,286.14 239.61,289.09L240.92,289.75Q246.83,292.71 249.14,299.31Z" fill="rgb(76,76,76)" stroke="rgb(69,69,69)" stroke-width="2"/>
<path d="M247.29,351.01L255.39,375.29Q257.6,381.93 254.69,387.18L254.04,388.35Q251.14,393.6 244.15,393.97L227.41,394.85Q220.42,395.22 217.51,388.85L204.71,360.81Q201.8,354.44 207.8,350.84L217.53,344.98Q223.53,341.37 230.47,342.34L238.14,343.4Q245.08,344.37 247.29,351.01Z" fill="rgb(76,76,76)" stroke="rgb(69,69,69)" stroke-width="2"/>
<path d="M266.92,329.89L272.25,329.74Q279.24,329.53 284.65,333.98L293.95,341.64Q299.35,346.09 297.32,352.79L293.44,365.6Q291.41,372.3 284.68,374.22L264.33,380.01Q257.6,381.93 255.39,375.29L247.29,351.01Q245.08,344.37 250.12,339.52L254.87,334.95Q259.92,330.1 266.92,329.89Z" fill="rgb(76,76,76)" stroke="rgb(69,69,69)" stroke-width="2"/>
<path d="M292.46,294.29L281.7,322.98Q279.24,329.53 284.65,333.98L293.95,341.64Q299.35,346.09 306.02,343.94L311.39,342.21Q318.05,340.06 318.59,333.08L320.83,304.52Q321.37,297.54 314.81,295.11L301.48,290.17Q294.92,287.74 292.46,294.29Z" fill="rgb(112,112,112)" stroke="rgb(69,69,69)" stroke-width="2"/>
<path d="M324.52,342.73L351.53,353.85Q358,356.51 358,363.51L358,416.4Q358,423.4 351,423.4L344.4,423.4Q337.4,423.4 332.71,418.2L296.09,377.51Q291.41,372.3 293.44,365.6L297.32,352.79Q299.35,346.09 306.02,343.94L311.39,342.21Q318.05,340.06 324.52,342.73Z" fill="rgb(74,74,74)" stroke="rgb(69,69,69)" stroke-width="2"/>
<path d="M264.33,380.01L284.68,374.22Q291.41,372.3 296.09,377.51L332.71,418.2Q337.4,423.4 330.4,423.4L271.35,423.4Q264.35,423.4 261.51,417L253.97,400Q251.14,393.6 254.04,388.35L254.69,387.18Q257.6,381.93 264.33,380.01Z" fill="rgb(76,76,76)" stroke="rgb(69,69,69)" stroke-width="2"/>
<path d="M215.57,400.26L198.12,418.36Q193.27,423.4 186.27,423.4L179,423.4Q172,423.4 172,416.4L172,357.03Q172,350.03 178.92,351.05L194.88,353.42Q201.8,354.44 204.71,360.81L217.51,388.85Q220.42,395.22 215.57,400.26Z" fill="rgb(74,74,74)" stroke="rgb(69,69,69)" stroke-width="2"/>
<path d="M249.14,299.31L257.61,323.49Q259.92,330.1 266.92,329.89L272.25,329.74Q279.24,329.53 281.7,322.98L292.46,294.29Q294.92,287.74 292.67,284.67L292.18,283.99Q289.93,280.92 283.18,282.77L253.58,290.86Q246.83,292.71 249.14,299.31Z" fill="rgb(82,82,82)" stroke="rgb(69,69,69)" stroke-width="2"/>
<path d="M172,243.5L172,285.14Q172,292.14 178.97,292.84L208.34,295.77Q215.3,296.47 221.4,293.04L227.59,289.56Q233.69,286.14 234,279.14L235.54,243.49Q235.84,236.5 228.84,236.5L179,236.5Q172,236.5 172,243.5Z" fill="rgb(82,82,82)" stroke="rgb(69,69,69)" stroke-width="2"/>
<path d="M289.93,243.5L289.93,273.92Q289.93,280.92 283.18,282.77L253.58,290.86Q246.83,292.71 240.92,289.75L239.61,289.09Q233.69,286.14 234,279.14L235.54,243.49Q235.84,236.5 242.84,236.5L282.93,236.5Q289.93,236.5 289.93,243.5Z" fill="rgb(92,92,92)" stroke="rgb(69,69,69)" stroke-width="2"/>
<path d="M358,243.5L358,277.31Q358,284.31 351.42,286.69L327.95,295.16Q321.37,297.54 314.81,295.11L301.48,290.17Q294.92,287.74 292.67,284.67L292.18,283.99Q289.93,280.92 289.93,273.92L289.93,243.5Q289.93,236.5 296.93,236.5L351,236.5Q358,236.5 358,243.5Z" fill="rgb(87,87,87)" stroke="rgb(69,69,69)" stroke-width="2"/>
<path d="M351.53,353.85L324.52,342.73Q318.05,340.06 318.59,333.08L320.83,304.52Q321.37,297.54 327.95,295.16L351.42,286.69Q358,284.31 358,291.31L358,349.51Q358,356.51 351.53,353.85Z" fill="rgb(76,76,76)" stroke="rgb(69,69,69)" stroke-width="2"/>
<path d="M253.97,400L261.51,417Q264.35,423.4 257.35,423.4L200.27,423.4Q193.27,423.4 198.12,418.36L215.57,400.26Q220.42,395.22 227.41,394.85L244.15,393.97Q251.14,393.6 253.97,400Z" fill="rgb(76,76,76)" stroke="rgb(69,69,69)" stroke-width="2"/>
<ellipse cx="242.18" cy="280.9" rx="61.8" ry="10.11" fill="rgb(112,112,112)"/>
<ellipse cx="189.37" cy="283.15" rx="3.93" ry="3.37" fill="rgb(217,217,217)"/>
<ellipse cx="270.27" cy="283.71" rx="22.47" ry="2.81" fill="rgb(128,128,128)"/>
<ellipse cx="219.71" cy="278.09" rx="16.85" ry="2.25" fill="rgb(128,128,128)"/>
</g>
<rect x="186" y="250.5" width="158" height="158.9" fill="#3a0606" opacity="0.7" mask="url(#gm1)"/>
<g filter="url(#dl1)">
<ellipse cx="339.09" cy="348.31" rx="8.65" ry="4.72" fill="#300000" opacity="0.85"/>
<ellipse cx="189.93" cy="355.62" rx="8.65" ry="4.72" fill="#300000" opacity="0.85"/>
<ellipse cx="214.09" cy="394.66" rx="6.18" ry="3.37" fill="#400606" opacity="0.7"/>
<ellipse cx="260.44" cy="384.83" rx="6.18" ry="3.37" fill="#400606" opacity="0.7"/>
</g>
<rect x="243.34" y="250.5" width="111.65" height="1.6" fill="#000000" opacity="0.1"/>
<rect x="228.36" y="252.67" width="160.16" height="1" fill="#ffffff" opacity="0.04"/>
<rect x="254.15" y="253.62" width="137.62" height="1.2" fill="#ffffff" opacity="0.04"/>
<rect x="226.94" y="255.37" width="69.8" height="1.6" fill="#000000" opacity="0.08"/>
<rect x="189.95" y="256.2" width="51.68" height="0.8" fill="#ffffff" opacity="0.01"/>
<rect x="189.13" y="257.74" width="89.23" height="1.6" fill="#000000" opacity="0.02"/>
<rect x="264.77" y="258.55" width="188.99" height="0.8" fill="#000000" opacity="0.03"/>
<rect x="194.61" y="260.69" width="57.39" height="1.2" fill="#ffffff" opacity="0.02"/>
<rect x="172.62" y="262.72" width="49.8" height="1.6" fill="#ffffff" opacity="0.02"/>
<rect x="212.53" y="264.61" width="186.81" height="1" fill="#ffffff" opacity="0.07"/>
<rect x="232.82" y="266.05" width="95.31" height="0.8" fill="#000000" opacity="0.02"/>
<rect x="177.68" y="267.35" width="82.44" height="0.8" fill="#000000" opacity="0.09"/>
<rect x="233.53" y="268.31" width="74.19" height="0.8" fill="#000000" opacity="0.06"/>
<rect x="205.09" y="269.92" width="188.19" height="1" fill="#000000" opacity="0.05"/>
<rect x="184.54" y="270.72" width="189.01" height="1.2" fill="#000000" opacity="0"/>
<rect x="209.71" y="272.48" width="48.76" height="0.8" fill="#ffffff" opacity="0.01"/>
<rect x="186.66" y="274.26" width="137.92" height="1.2" fill="#ffffff" opacity="0.01"/>
<rect x="260.95" y="275.09" width="116.19" height="1.2" fill="#ffffff" opacity="0.03"/>
<rect x="255.93" y="276.81" width="163.69" height="1.6" fill="#ffffff" opacity="0.01"/>
<rect x="220.84" y="278" width="145.09" height="1" fill="#ffffff" opacity="0.05"/>
<rect x="176.28" y="279.43" width="52.9" height="1.6" fill="#000000" opacity="0.05"/>
<rect x="207.66" y="281.77" width="176.07" height="1" fill="#000000" opacity="0.05"/>
<rect x="178.51" y="283.35" width="115.56" height="1" fill="#000000" opacity="0.12"/>
<rect x="186.19" y="285.2" width="49.76" height="0.8" fill="#ffffff" opacity="0.07"/>
<rect x="193.91" y="286.43" width="122.91" height="1.6" fill="#ffffff" opacity="0"/>
<rect x="263.07" y="288.79" width="140.82" height="0.8" fill="#ffffff" opacity="0.06"/>
<rect x="213" y="290.69" width="98.23" height="1" fill="#000000" opacity="0.11"/>
<rect x="213.74" y="291.99" width="151.28" height="0.8" fill="#ffffff" opacity="0.05"/>
<rect x="238.96" y="293.3" width="175.41" height="0.8" fill="#ffffff" opacity="0.04"/>
<rect x="200.83" y="295.28" width="144.83" height="1" fill="#000000" opacity="0.11"/>
<rect x="215.49" y="297.52" width="49.47" height="1.6" fill="#000000" opacity="0"/>
<rect x="173.94" y="299.38" width="138.32" height="1.6" fill="#000000" opacity="0.07"/>
<rect x="238.77" y="301.77" width="130.01" height="1.6" fill="#000000" opacity="0.05"/>
<rect x="196.71" y="303.27" width="59.88" height="0.8" fill="#000000" opacity="0.06"/>
<rect x="257.13" y="304.11" width="83.78" height="0.8" fill="#000000" opacity="0.07"/>
<rect x="217.32" y="304.93" width="154.59" height="1.2" fill="#ffffff" opacity="0.04"/>
<rect x="206.07" y="306.28" width="83.04" height="1.6" fill="#000000" opacity="0.03"/>
<rect x="223.73" y="308.09" width="92.4" height="1" fill="#000000" opacity="0.05"/>
<rect x="170.02" y="309.11" width="56.52" height="1.6" fill="#ffffff" opacity="0.06"/>
<rect x="257.65" y="311.48" width="165.55" height="1" fill="#ffffff" opacity="0.03"/>
<rect x="249.35" y="312.89" width="136.24" height="1.6" fill="#000000" opacity="0.09"/>
<rect x="233.15" y="314.2" width="87.37" height="0.8" fill="#ffffff" opacity="0.04"/>
<rect x="184.8" y="315.57" width="156.78" height="0.8" fill="#000000" opacity="0.05"/>
<rect x="177.42" y="316.8" width="62.9" height="1" fill="#000000" opacity="0.12"/>
<rect x="185.73" y="318.45" width="114.97" height="1.2" fill="#000000" opacity="0.08"/>
<rect x="169.58" y="319.54" width="79.6" height="0.8" fill="#000000" opacity="0.06"/>
<rect x="255.72" y="321.58" width="59.8" height="1" fill="#ffffff" opacity="0.06"/>
<rect x="227.93" y="323.88" width="176.8" height="1.6" fill="#ffffff" opacity="0.03"/>
<rect x="186.28" y="325.28" width="150.06" height="1.2" fill="#000000" opacity="0.08"/>
<rect x="263.07" y="327.39" width="186.38" height="0.8" fill="#ffffff" opacity="0.06"/>
<rect x="167.55" y="329.05" width="119.17" height="1.2" fill="#ffffff" opacity="0.05"/>
<rect x="214.26" y="329.91" width="51.44" height="1.2" fill="#000000" opacity="0.09"/>
<rect x="218.78" y="332" width="145.03" height="0.8" fill="#000000" opacity="0"/>
<rect x="237.63" y="334.27" width="166.84" height="1.6" fill="#ffffff" opacity="0.04"/>
<rect x="241.03" y="336.17" width="109.89" height="1.6" fill="#000000" opacity="0.08"/>
<rect x="221.44" y="337.86" width="91.72" height="1" fill="#000000" opacity="0.1"/>
<rect x="219.93" y="339.27" width="86.22" height="1" fill="#ffffff" opacity="0.01"/>
<rect x="225.92" y="340.87" width="51.35" height="1.6" fill="#000000" opacity="0.06"/>
<rect x="178.07" y="343.22" width="60.66" height="1.6" fill="#000000" opacity="0.12"/>
<rect x="257.42" y="344.29" width="85.68" height="1.6" fill="#000000" opacity="0.11"/>
<rect x="258.63" y="345.84" width="178.23" height="1" fill="#ffffff" opacity="0.06"/>
<rect x="257.6" y="347.48" width="65.81" height="0.8" fill="#ffffff" opacity="0.04"/>
<rect x="167.17" y="349.53" width="87.8" height="0.8" fill="#ffffff" opacity="0.01"/>
<rect x="238.36" y="351.49" width="64.86" height="1" fill="#000000" opacity="0.01"/>
<rect x="252.99" y="353.11" width="50.71" height="1.2" fill="#000000" opacity="0.08"/>
<rect x="218.87" y="354.92" width="78.45" height="1" fill="#000000" opacity="0.1"/>
<rect x="246.24" y="356.06" width="175.76" height="1" fill="#ffffff" opacity="0.05"/>
<rect x="243.05" y="357.37" width="75.06" height="1.2" fill="#000000" opacity="0.02"/>
<rect x="204.4" y="358.33" width="109.23" height="1" fill="#ffffff" opacity="0.01"/>
<rect x="245.09" y="360.63" width="61.06" height="1" fill="#ffffff" opacity="0.05"/>
<rect x="177.43" y="362.34" width="119.31" height="1.2" fill="#000000" opacity="0.12"/>
<rect x="168.41" y="364.36" width="155.76" height="1" fill="#000000" opacity="0.06"/>
<rect x="186.19" y="366.14" width="166.88" height="1.6" fill="#ffffff" opacity="0.01"/>
<rect x="233.42" y="368.52" width="58.44" height="0.8" fill="#000000" opacity="0.02"/>
<rect x="208.58" y="369.48" width="132.85" height="1.6" fill="#000000" opacity="0.06"/>
<rect x="210.94" y="370.3" width="152.53" height="0.8" fill="#000000" opacity="0.02"/>
<rect x="244.44" y="371.75" width="93.43" height="1" fill="#000000" opacity="0.01"/>
<rect x="223.88" y="372.68" width="95.89" height="1.6" fill="#000000" opacity="0.02"/>
<rect x="243.02" y="374.7" width="163.24" height="1.2" fill="#000000" opacity="0.09"/>
<rect x="241.96" y="376.15" width="156.22" height="1.2" fill="#000000" opacity="0.08"/>
<rect x="212.42" y="377.6" width="48.91" height="1" fill="#ffffff" opacity="0.02"/>
<rect x="231.94" y="378.97" width="95.44" height="0.8" fill="#ffffff" opacity="0.07"/>
<rect x="264.99" y="380.82" width="138.73" height="1" fill="#000000" opacity="0.05"/>
<rect x="226.92" y="382.75" width="152.46" height="1.6" fill="#000000" opacity="0"/>
<rect x="230.15" y="383.96" width="48.93" height="1.6" fill="#000000" opacity="0.09"/>
<rect x="216.27" y="385.17" width="184.93" height="1.2" fill="#000000" opacity="0.07"/>
<rect x="173.54" y="386.88" width="132.37" height="0.8" fill="#000000" opacity="0.1"/>
<rect x="204.2" y="388.89" width="185.34" height="0.8" fill="#ffffff" opacity="0.07"/>
<rect x="194.16" y="391.06" width="104.08" height="0.8" fill="#000000" opacity="0.06"/>
<rect x="258.02" y="392.36" width="141.76" height="1.2" fill="#000000" opacity="0.03"/>
<rect x="170.23" y="394.36" width="69.67" height="0.8" fill="#ffffff" opacity="0.02"/>
<rect x="205.38" y="396.37" width="130.12" height="1.6" fill="#ffffff" opacity="0.02"/>
<rect x="208.52" y="398.32" width="115.32" height="1.2" fill="#ffffff" opacity="0.07"/>
<rect x="246.21" y="400.68" width="176.73" height="1" fill="#ffffff" opacity="0.01"/>
<rect x="227.8" y="401.71" width="112.2" height="1" fill="#000000" opacity="0.01"/>
<rect x="201.97" y="402.84" width="67.28" height="0.8" fill="#ffffff" opacity="0.01"/>
<rect x="202.04" y="404.31" width="153.18" height="1.2" fill="#000000" opacity="0.08"/>
<rect x="189.6" y="406.41" width="63.59" height="1" fill="#000000" opacity="0.09"/>
<rect x="237.78" y="408.64" width="146.8" height="1.2" fill="#ffffff" opacity="0.04"/>
<rect x="186" y="250.5" width="158" height="158.9" filter="url(#noiseD)" opacity="0.3"/>
<text x="194.3" y="266" font-size="15" font-weight="bold" fill="#fff">MBT</text>
<text x="339.6" y="267.4" font-size="13.5" font-weight="bold" fill="#fff" text-anchor="end">200 mV</text>
<text x="339.4" y="405" font-size="13.5" font-weight="bold" fill="#fff" text-anchor="end">80 mV</text>
<rect x="314.5" y="268.3" width="9.2" height="126.4" fill="url(#gCB)"/>
</g>
<g clip-path="url(#clipK2)">
<g filter="url(#kf2)">
<rect x="340" y="236.5" width="186" height="186.9" fill="rgb(56,56,56)"/>
<path d="M381.27,288.72L380.71,282.63Q379.72,271.67 368.92,269.55L350.79,266Q340,263.88 340,274.88L340,289.13Q340,300.13 350.97,300.98L366.91,302.2Q377.88,303.05 379.85,301.53L380.29,301.19Q382.26,299.67 381.27,288.72Z" fill="rgb(76,76,76)" stroke="rgb(56,56,56)" stroke-width="2"/>
<path d="M381.27,288.72L380.71,282.63Q379.72,271.67 387.58,263.98L396.7,255.06Q404.56,247.37 409.62,255.61L410.74,257.44Q415.8,265.69 415.8,276.69L415.8,286.05Q415.8,297.05 414.05,299.18L413.66,299.66Q411.91,301.79 400.93,301L393.24,300.46Q382.26,299.67 381.27,288.72Z" fill="rgb(61,61,61)" stroke="rgb(56,56,56)" stroke-width="2"/>
<path d="M447.42,297.05L426.8,297.05Q415.8,297.05 415.8,286.05L415.8,276.69Q415.8,265.69 426.73,266.88L441.16,268.44Q452.09,269.63 454.56,280.35L455.95,286.33Q458.42,297.05 447.42,297.05Z" fill="rgb(79,79,79)" stroke="rgb(56,56,56)" stroke-width="2"/>
<path d="M483.14,292.41L495.49,247.11Q498.39,236.5 487.39,236.5L480.21,236.5Q469.21,236.5 464.16,246.27L457.14,259.86Q452.09,269.63 454.56,280.35L455.95,286.33Q458.42,297.05 460.6,299.01L461.09,299.45Q463.28,301.41 470.91,302.13L472.61,302.29Q480.24,303.02 483.14,292.41Z" fill="rgb(61,61,61)" stroke="rgb(56,56,56)" stroke-width="2"/>
<path d="M483.14,292.41L495.49,247.11Q498.39,236.5 509.39,236.5L515,236.5Q526,236.5 526,247.5L526,296.58Q526,307.58 515,307.58L497.56,307.58Q486.56,307.58 483.72,305.53L483.09,305.07Q480.24,303.02 483.14,292.41Z" fill="rgb(61,61,61)" stroke="rgb(56,56,56)" stroke-width="2"/>
<path d="M393.24,300.46L400.93,301Q411.91,301.79 413.71,312.64L415.03,320.54Q416.84,331.39 410.23,338.54L408.77,340.13Q402.16,347.29 392.05,342.95L387.99,341.21Q377.88,336.88 377.88,325.88L377.88,314.05Q377.88,303.05 379.85,301.53L380.29,301.19Q382.26,299.67 393.24,300.46Z" fill="rgb(61,61,61)" stroke="rgb(56,56,56)" stroke-width="2"/>
<path d="M413.66,299.66L414.05,299.18Q415.8,297.05 426.8,297.05L447.42,297.05Q458.42,297.05 460.6,299.01L461.09,299.45Q463.28,301.41 457.68,310.88L448.99,325.58Q443.4,335.05 432.5,333.55L427.74,332.89Q416.84,331.39 415.03,320.54L413.71,312.64Q411.91,301.79 413.66,299.66Z" fill="rgb(66,66,66)" stroke="rgb(56,56,56)" stroke-width="2"/>
<path d="M403.31,358.23L403.69,361.77Q404.84,372.71 406.61,374.37L407,374.74Q408.78,376.4 419.78,376.4L434.29,376.4Q445.29,376.4 449.38,366.19L450.49,363.42Q454.57,353.21 449.54,345.04L448.42,343.22Q443.4,335.05 432.5,333.55L427.74,332.89Q416.84,331.39 410.23,338.54L408.77,340.13Q402.16,347.29 403.31,358.23Z" fill="rgb(66,66,66)" stroke="rgb(56,56,56)" stroke-width="2"/>
<path d="M367.52,340.58L350.36,346.71Q340,350.41 340,356.91L340,358.36Q340,364.87 349.99,369.47L365.31,376.55Q375.29,381.15 385.87,378.13L394.26,375.74Q404.84,372.71 403.69,361.77L403.31,358.23Q402.16,347.29 392.05,342.95L387.99,341.21Q377.88,336.88 367.52,340.58Z" fill="rgb(61,61,61)" stroke="rgb(56,56,56)" stroke-width="2"/>
<path d="M465.46,351.65L472.48,350.65Q483.37,349.09 484.21,338.13L485.72,318.55Q486.56,307.58 483.72,305.53L483.09,305.07Q480.24,303.02 472.61,302.29L470.91,302.13Q463.28,301.41 457.68,310.88L448.99,325.58Q443.4,335.05 448.42,343.22L449.54,345.04Q454.57,353.21 465.46,351.65Z" fill="rgb(61,61,61)" stroke="rgb(56,56,56)" stroke-width="2"/>
<path d="M450.49,363.42L449.38,366.19Q445.29,376.4 447.19,379.25L447.61,379.88Q449.51,382.72 460.45,383.82L472.7,385.04Q483.64,386.14 488.19,376.12L491.17,369.56Q495.73,359.55 490.17,354.85L488.93,353.8Q483.37,349.09 472.48,350.65L465.46,351.65Q454.57,353.21 450.49,363.42Z" fill="rgb(61,61,61)" stroke="rgb(56,56,56)" stroke-width="2"/>
<path d="M497.56,307.58L515,307.58Q526,307.58 526,318.58L526,348.55Q526,359.55 515,359.55L506.73,359.55Q495.73,359.55 490.17,354.85L488.93,353.8Q483.37,349.09 484.21,338.13L485.72,318.55Q486.56,307.58 497.56,307.58Z" fill="rgb(61,61,61)" stroke="rgb(56,56,56)" stroke-width="2"/>
<path d="M406.61,374.37L407,374.74Q408.78,376.4 408.78,387.4L408.78,412.4Q408.78,423.4 397.78,423.4L382.07,423.4Q371.07,423.4 372.16,412.45L374.2,392.1Q375.29,381.15 385.87,378.13L394.26,375.74Q404.84,372.71 406.61,374.37Z" fill="rgb(79,79,79)" stroke="rgb(56,56,56)" stroke-width="2"/>
<path d="M408.78,412.4L408.78,387.4Q408.78,376.4 419.78,376.4L434.29,376.4Q445.29,376.4 447.19,379.25L447.61,379.88Q449.51,382.72 449.51,393.72L449.51,412.4Q449.51,423.4 438.51,423.4L419.78,423.4Q408.78,423.4 408.78,412.4Z" fill="rgb(79,79,79)" stroke="rgb(56,56,56)" stroke-width="2"/>
<path d="M449.51,412.4L449.51,393.72Q449.51,382.72 460.45,383.82L472.7,385.04Q483.64,386.14 487.87,396.29L494.94,413.25Q499.17,423.4 488.17,423.4L460.51,423.4Q449.51,423.4 449.51,412.4Z" fill="rgb(61,61,61)" stroke="rgb(56,56,56)" stroke-width="2"/>
<path d="M515,359.55L506.73,359.55Q495.73,359.55 491.17,369.56L488.19,376.12Q483.64,386.14 487.87,396.29L494.94,413.25Q499.17,423.4 510.17,423.4L515,423.4Q526,423.4 526,412.4L526,370.55Q526,359.55 515,359.55Z" fill="rgb(61,61,61)" stroke="rgb(56,56,56)" stroke-width="2"/>
<path d="M366.91,302.2L350.97,300.98Q340,300.13 340,311.13L340,339.41Q340,350.41 350.36,346.71L367.52,340.58Q377.88,336.88 377.88,325.88L377.88,314.05Q377.88,303.05 366.91,302.2Z" fill="rgb(61,61,61)" stroke="rgb(56,56,56)" stroke-width="2"/>
<path d="M387.58,263.98L396.7,255.06Q404.56,247.37 404.56,242.48L404.56,241.39Q404.56,236.5 393.56,236.5L351,236.5Q340,236.5 340,247.5L340,252.88Q340,263.88 350.79,266L368.92,269.55Q379.72,271.67 387.58,263.98Z" fill="rgb(61,61,61)" stroke="rgb(56,56,56)" stroke-width="2"/>
<path d="M404.56,241.39L404.56,242.48Q404.56,247.37 409.62,255.61L410.74,257.44Q415.8,265.69 426.73,266.88L441.16,268.44Q452.09,269.63 457.14,259.86L464.16,246.27Q469.21,236.5 458.21,236.5L415.56,236.5Q404.56,236.5 404.56,241.39Z" fill="rgb(69,69,69)" stroke="rgb(56,56,56)" stroke-width="2"/>
<path d="M374.2,392.1L372.16,412.45Q371.07,423.4 360.07,423.4L351,423.4Q340,423.4 340,412.4L340,375.87Q340,364.87 349.99,369.47L365.31,376.55Q375.29,381.15 374.2,392.1Z" fill="rgb(61,61,61)" stroke="rgb(56,56,56)" stroke-width="2"/>
</g>
<rect x="354" y="250.5" width="158" height="158.9" fill="#2a0404" opacity="0.74" mask="url(#gm2)"/>
<g filter="url(#dl2)">
<ellipse cx="384.9" cy="304.78" rx="9.89" ry="5.39" fill="#1a0000" opacity="0.85"/>
<ellipse cx="420.01" cy="303.37" rx="7.42" ry="4.04" fill="#2a0000" opacity="0.75"/>
<ellipse cx="457.93" cy="286.52" rx="7.42" ry="4.04" fill="#2a0000" opacity="0.75"/>
<ellipse cx="501.47" cy="303.37" rx="7.42" ry="4.04" fill="#2a0000" opacity="0.75"/>
<ellipse cx="390.52" cy="382.02" rx="8.65" ry="4.72" fill="#1a0000" opacity="0.85"/>
<ellipse cx="460.74" cy="356.74" rx="7.42" ry="4.04" fill="#2a0000" opacity="0.7"/>
<ellipse cx="497.26" cy="362.36" rx="6.18" ry="3.37" fill="#2a0000" opacity="0.7"/>
<ellipse cx="356.81" cy="342.7" rx="6.18" ry="3.37" fill="#2a0000" opacity="0.7"/>
</g>
<rect x="368.63" y="250.5" width="101.67" height="1.6" fill="#ffffff" opacity="0.04"/>
<rect x="402.37" y="252.89" width="132.93" height="1.6" fill="#ffffff" opacity="0.06"/>
<rect x="367.63" y="254.59" width="77.3" height="1" fill="#000000" opacity="0.04"/>
<rect x="367.36" y="256.31" width="104.94" height="1" fill="#ffffff" opacity="0.05"/>
<rect x="399.54" y="258.46" width="79.15" height="0.8" fill="#000000" opacity="0.1"/>
<rect x="375.9" y="260.84" width="66.61" height="1.6" fill="#000000" opacity="0.01"/>
<rect x="388.96" y="262.14" width="119.53" height="1" fill="#000000" opacity="0.11"/>
<rect x="394.32" y="263.07" width="124.35" height="1.6" fill="#000000" opacity="0.06"/>
<rect x="399.7" y="264.9" width="98.07" height="0.8" fill="#000000" opacity="0.12"/>
<rect x="357.26" y="266.28" width="99.06" height="1.6" fill="#000000" opacity="0.01"/>
<rect x="376.59" y="267.9" width="121.2" height="1" fill="#ffffff" opacity="0.06"/>
<rect x="394.12" y="269.05" width="154.52" height="1.6" fill="#ffffff" opacity="0.01"/>
<rect x="361.38" y="270.21" width="96.34" height="0.8" fill="#000000" opacity="0"/>
<rect x="367.63" y="272.03" width="112.19" height="0.8" fill="#000000" opacity="0.04"/>
<rect x="380.01" y="273.94" width="125.45" height="1.6" fill="#ffffff" opacity="0.07"/>
<rect x="360.56" y="275.03" width="156.99" height="1" fill="#000000" opacity="0"/>
<rect x="358.51" y="276.38" width="63.9" height="1" fill="#000000" opacity="0.06"/>
<rect x="411.95" y="277.76" width="165.7" height="1" fill="#ffffff" opacity="0.02"/>
<rect x="382.49" y="279.58" width="97.7" height="1" fill="#000000" opacity="0.06"/>
<rect x="362.84" y="281.48" width="171.56" height="1.6" fill="#000000" opacity="0.02"/>
<rect x="362.22" y="282.72" width="83.65" height="1.6" fill="#000000" opacity="0.03"/>
<rect x="375.61" y="284.61" width="81.7" height="0.8" fill="#ffffff" opacity="0.06"/>
<rect x="425.07" y="286.11" width="184.19" height="0.8" fill="#000000" opacity="0.07"/>
<rect x="374.07" y="288.13" width="75.7" height="1.6" fill="#000000" opacity="0.01"/>
<rect x="349.93" y="289.82" width="145.35" height="1.2" fill="#000000" opacity="0.05"/>
<rect x="424.14" y="290.87" width="123.47" height="0.8" fill="#000000" opacity="0.11"/>
<rect x="352.7" y="292.93" width="85.89" height="1.6" fill="#000000" opacity="0.09"/>
<rect x="386.89" y="295" width="147.03" height="1.6" fill="#000000" opacity="0.01"/>
<rect x="342.15" y="296.43" width="94.68" height="1" fill="#ffffff" opacity="0.03"/>
<rect x="401.16" y="298.33" width="138" height="1.2" fill="#ffffff" opacity="0.01"/>
<rect x="377.93" y="299.82" width="72.91" height="1" fill="#ffffff" opacity="0.04"/>
<rect x="343.59" y="301.69" width="79.3" height="1.2" fill="#000000" opacity="0.11"/>
<rect x="376.81" y="304.03" width="78.74" height="1.2" fill="#ffffff" opacity="0.01"/>
<rect x="394.05" y="306.3" width="167.26" height="1.2" fill="#ffffff" opacity="0.03"/>
<rect x="410.46" y="307.5" width="105.35" height="1.6" fill="#000000" opacity="0.01"/>
<rect x="339.17" y="309.42" width="62.52" height="1.6" fill="#000000" opacity="0.05"/>
<rect x="365.9" y="311.14" width="118.49" height="1.2" fill="#ffffff" opacity="0.05"/>
<rect x="413.29" y="312.51" width="66.53" height="1.2" fill="#ffffff" opacity="0.03"/>
<rect x="426.68" y="314.1" width="132.55" height="1.6" fill="#000000" opacity="0.03"/>
<rect x="337.23" y="315.53" width="141" height="1.2" fill="#ffffff" opacity="0.02"/>
<rect x="360.06" y="317.6" width="105.26" height="1.6" fill="#000000" opacity="0.07"/>
<rect x="352.09" y="319.01" width="159.56" height="1.6" fill="#000000" opacity="0.1"/>
<rect x="339.24" y="321.15" width="166.19" height="0.8" fill="#000000" opacity="0.06"/>
<rect x="410.31" y="323.34" width="169.54" height="1.2" fill="#000000" opacity="0.11"/>
<rect x="389.01" y="324.64" width="53.45" height="1" fill="#000000" opacity="0.1"/>
<rect x="363.36" y="326.74" width="74.43" height="1" fill="#ffffff" opacity="0.05"/>
<rect x="424.17" y="327.83" width="99.25" height="1.2" fill="#000000" opacity="0"/>
<rect x="398.5" y="329.43" width="161.26" height="1" fill="#000000" opacity="0.06"/>
<rect x="372.46" y="331.04" width="106.39" height="1.2" fill="#000000" opacity="0.08"/>
<rect x="408.95" y="332.66" width="99.51" height="1.2" fill="#ffffff" opacity="0.01"/>
<rect x="371.12" y="333.63" width="57.61" height="1.6" fill="#000000" opacity="0.12"/>
<rect x="342.34" y="335.9" width="55.42" height="1.2" fill="#ffffff" opacity="0.01"/>
<rect x="389.91" y="336.71" width="178.72" height="1" fill="#ffffff" opacity="0.05"/>
<rect x="413.53" y="338.67" width="136.87" height="0.8" fill="#000000" opacity="0.07"/>
<rect x="365.28" y="340.21" width="81.77" height="1.2" fill="#000000" opacity="0.07"/>
<rect x="409.76" y="341.15" width="180.13" height="1.2" fill="#000000" opacity="0.12"/>
<rect x="347.53" y="342.53" width="86.91" height="1.2" fill="#ffffff" opacity="0.03"/>
<rect x="415.75" y="343.64" width="155.09" height="0.8" fill="#000000" opacity="0.09"/>
<rect x="414.32" y="344.99" width="96.11" height="1.6" fill="#000000" opacity="0.11"/>
<rect x="360.39" y="347.21" width="127.66" height="1.2" fill="#ffffff" opacity="0.02"/>
<rect x="375.43" y="349.35" width="61.95" height="1.6" fill="#000000" opacity="0.03"/>
<rect x="392.99" y="351.33" width="129.48" height="1.6" fill="#ffffff" opacity="0.04"/>
<rect x="424.7" y="352.74" width="181.57" height="1.2" fill="#ffffff" opacity="0.07"/>
<rect x="354.29" y="354.49" width="93.24" height="0.8" fill="#ffffff" opacity="0.03"/>
<rect x="367.29" y="355.88" width="188.42" height="1.2" fill="#000000" opacity="0.02"/>
<rect x="341.29" y="357.71" width="142.9" height="0.8" fill="#000000" opacity="0.08"/>
<rect x="342.98" y="358.67" width="91.6" height="1.2" fill="#ffffff" opacity="0.03"/>
<rect x="357.09" y="360.74" width="75.31" height="1" fill="#ffffff" opacity="0.06"/>
<rect x="428.95" y="362.56" width="112.59" height="1" fill="#000000" opacity="0.06"/>
<rect x="361.03" y="364.86" width="175.81" height="1.6" fill="#000000" opacity="0.05"/>
<rect x="395" y="365.97" width="148.98" height="1.6" fill="#000000" opacity="0.08"/>
<rect x="400.3" y="367.34" width="88.93" height="1.2" fill="#ffffff" opacity="0.01"/>
<rect x="416.83" y="369.22" width="107.25" height="1.2" fill="#000000" opacity="0.02"/>
<rect x="348.08" y="370.52" width="111.82" height="1.2" fill="#000000" opacity="0.1"/>
<rect x="416.36" y="372.17" width="101.39" height="1" fill="#ffffff" opacity="0.01"/>
<rect x="356.58" y="373.75" width="169.74" height="0.8" fill="#000000" opacity="0.02"/>
<rect x="354.53" y="376.01" width="167.42" height="1.2" fill="#000000" opacity="0.02"/>
<rect x="423.75" y="376.98" width="62.84" height="1" fill="#ffffff" opacity="0.04"/>
<rect x="417.82" y="378.77" width="55.62" height="1" fill="#000000" opacity="0.07"/>
<rect x="342.41" y="380.05" width="125.09" height="1.6" fill="#ffffff" opacity="0.06"/>
<rect x="422.74" y="382.31" width="125.56" height="1.6" fill="#000000" opacity="0.1"/>
<rect x="367.21" y="383.98" width="57.73" height="1.2" fill="#000000" opacity="0.02"/>
<rect x="374.33" y="385.86" width="161.11" height="1.2" fill="#000000" opacity="0.03"/>
<rect x="420.05" y="387.86" width="139.86" height="0.8" fill="#000000" opacity="0.08"/>
<rect x="415.69" y="389.24" width="63.73" height="1.2" fill="#ffffff" opacity="0.05"/>
<rect x="429.65" y="391.33" width="123.16" height="0.8" fill="#000000" opacity="0.02"/>
<rect x="373.85" y="392.42" width="141.36" height="1.2" fill="#000000" opacity="0.03"/>
<rect x="415.57" y="393.67" width="154.18" height="1.6" fill="#000000" opacity="0.09"/>
<rect x="426.23" y="394.92" width="97.88" height="1.6" fill="#ffffff" opacity="0.07"/>
<rect x="337.97" y="396.19" width="90.43" height="1.6" fill="#ffffff" opacity="0.03"/>
<rect x="365.2" y="398.39" width="180.64" height="0.8" fill="#ffffff" opacity="0.06"/>
<rect x="411.41" y="399.28" width="174.43" height="1.2" fill="#ffffff" opacity="0.04"/>
<rect x="351.37" y="401.5" width="108.66" height="0.8" fill="#000000" opacity="0.01"/>
<rect x="377.29" y="403.61" width="177.01" height="1.2" fill="#000000" opacity="0.09"/>
<rect x="365.2" y="404.91" width="145.53" height="0.8" fill="#000000" opacity="0.12"/>
<rect x="400.21" y="407.15" width="117.58" height="1" fill="#000000" opacity="0.1"/>
<rect x="380.32" y="409.25" width="157.77" height="1" fill="#000000" opacity="0.08"/>
<rect x="354" y="250.5" width="158" height="158.9" filter="url(#noiseD)" opacity="0.3"/>
<text x="362.3" y="266" font-size="15" font-weight="bold" fill="#fff">EBT</text>
<text x="507.6" y="267.4" font-size="13.5" font-weight="bold" fill="#fff" text-anchor="end">200 mV</text>
<text x="507.4" y="405" font-size="13.5" font-weight="bold" fill="#fff" text-anchor="end">80 mV</text>
<rect x="482.5" y="268.3" width="9.2" height="126.4" fill="url(#gCB)"/>
</g>
<g clip-path="url(#clipK3)">
<g filter="url(#kf3)">
<rect x="510" y="236.2" width="186.2" height="186.5" fill="rgb(41,41,41)"/>
<path d="M557.63,269.79L570.57,250.38Q574.45,244.55 574.42,240.79L574.41,239.96Q574.38,236.2 567.38,236.2L517,236.2Q510,236.2 510,243.2L510,259.86Q510,266.86 516.86,268.24L546.88,274.24Q553.74,275.61 557.63,269.79Z" fill="rgb(163,163,163)" stroke="rgb(41,41,41)" stroke-width="5"/>
<path d="M555.48,287.77L554.73,282.54Q553.74,275.61 546.88,274.24L516.86,268.24Q510,266.86 510,273.86L510,312.84Q510,319.84 514.83,320.22L515.9,320.31Q520.72,320.69 526.38,316.58L550.81,298.81Q556.47,294.7 555.48,287.77Z" fill="rgb(133,133,133)" stroke="rgb(41,41,41)" stroke-width="5"/>
<path d="M589.34,302.63L590.68,301.3Q595.63,296.35 595.63,289.35L595.63,282.55Q595.63,275.55 591.68,269.77L578.4,250.33Q574.45,244.55 570.57,250.38L557.63,269.79Q553.74,275.61 554.73,282.54L555.48,287.77Q556.47,294.7 562.82,297.63L578.04,304.65Q584.39,307.58 589.34,302.63Z" fill="rgb(120,120,120)" stroke="rgb(41,41,41)" stroke-width="5"/>
<path d="M629.93,263L602.2,273.14Q595.63,275.55 595.63,282.55L595.63,289.35Q595.63,296.35 602.55,297.41L630.14,301.66Q637.06,302.72 638,301.54L638.2,301.27Q639.14,300.09 638.67,293.1L636.97,267.58Q636.5,260.59 629.93,263Z" fill="rgb(128,128,128)" stroke="rgb(41,41,41)" stroke-width="5"/>
<path d="M641.5,242.51L641.46,241.36Q641.29,236.2 634.29,236.2L581.38,236.2Q574.38,236.2 574.41,239.96L574.42,240.79Q574.45,244.55 578.4,250.33L591.68,269.77Q595.63,275.55 602.2,273.14L629.93,263Q636.5,260.59 638.83,254.78L639.35,253.48Q641.68,247.67 641.5,242.51Z" fill="rgb(153,153,153)" stroke="rgb(41,41,41)" stroke-width="5"/>
<path d="M647.28,251.87L690.6,284.36Q696.2,288.56 696.2,291L696.2,291.54Q696.2,293.97 689.24,294.72L646.1,299.34Q639.14,300.09 638.67,293.1L636.97,267.58Q636.5,260.59 638.83,254.78L639.35,253.48Q641.68,247.67 647.28,251.87Z" fill="rgb(112,112,112)" stroke="rgb(41,41,41)" stroke-width="5"/>
<path d="M584.39,326.67L584.39,314.58Q584.39,307.58 578.04,304.65L562.82,297.63Q556.47,294.7 550.81,298.81L526.38,316.58Q520.72,320.69 526.42,324.76L540.78,335.02Q546.47,339.09 553.4,338.1L577.46,334.66Q584.39,333.67 584.39,326.67Z" fill="rgb(115,115,115)" stroke="rgb(41,41,41)" stroke-width="5"/>
<path d="M596.94,339.5L630.13,334.76Q637.06,333.77 637.06,326.77L637.06,309.72Q637.06,302.72 630.14,301.66L602.55,297.41Q595.63,296.35 590.68,301.3L589.34,302.63Q584.39,307.58 584.39,314.58L584.39,326.67Q584.39,333.67 586.92,336.74L587.48,337.42Q590.01,340.49 596.94,339.5Z" fill="rgb(115,115,115)" stroke="rgb(41,41,41)" stroke-width="5"/>
<path d="M689.26,341.11L654.85,345.64Q647.91,346.55 643.38,341.22L641.59,339.11Q637.06,333.77 637.06,326.77L637.06,309.72Q637.06,302.72 638,301.54L638.2,301.27Q639.14,300.09 646.1,299.34L689.24,294.72Q696.2,293.97 696.2,300.97L696.2,333.2Q696.2,340.2 689.26,341.11Z" fill="rgb(105,105,105)" stroke="rgb(41,41,41)" stroke-width="5"/>
<path d="M590.01,370.16L590.01,347.49Q590.01,340.49 587.48,337.42L586.92,336.74Q584.39,333.67 577.46,334.66L553.4,338.1Q546.47,339.09 546.47,346.09L546.47,366.81Q546.47,373.81 553.45,374.35L583.03,376.62Q590.01,377.16 590.01,370.16Z" fill="rgb(115,115,115)" stroke="rgb(41,41,41)" stroke-width="5"/>
<path d="M590.01,370.16L590.01,347.49Q590.01,340.49 596.94,339.5L630.13,334.76Q637.06,333.77 641.59,339.11L643.38,341.22Q647.91,346.55 646.13,353.32L644.09,361.08Q642.31,367.85 635.77,370.36L602.16,383.29Q595.63,385.8 593.1,381.91L592.54,381.05Q590.01,377.16 590.01,370.16Z" fill="rgb(115,115,115)" stroke="rgb(41,41,41)" stroke-width="5"/>
<path d="M514.83,320.22L515.9,320.31Q520.72,320.69 526.42,324.76L540.78,335.02Q546.47,339.09 546.47,346.09L546.47,366.81Q546.47,373.81 541.13,378.33L515.34,400.15Q510,404.67 510,397.67L510,326.84Q510,319.84 514.83,320.22Z" fill="rgb(105,105,105)" stroke="rgb(41,41,41)" stroke-width="5"/>
<path d="M515.34,400.15L541.13,378.33Q546.47,373.81 553.45,374.35L583.03,376.62Q590.01,377.16 592.54,381.05L593.1,381.91Q595.63,385.8 595.63,392.8L595.63,415.7Q595.63,422.7 588.63,422.7L517,422.7Q510,422.7 510,415.7L510,411.67Q510,404.67 515.34,400.15Z" fill="rgb(128,128,128)" stroke="rgb(41,41,41)" stroke-width="5"/>
<path d="M602.16,383.29L635.77,370.36Q642.31,367.85 645.78,373.93L670.18,416.62Q673.65,422.7 666.65,422.7L602.63,422.7Q595.63,422.7 595.63,415.7L595.63,392.8Q595.63,385.8 602.16,383.29Z" fill="rgb(128,128,128)" stroke="rgb(41,41,41)" stroke-width="5"/>
<path d="M646.13,353.32L644.09,361.08Q642.31,367.85 645.78,373.93L670.18,416.62Q673.65,422.7 680.65,422.7L689.2,422.7Q696.2,422.7 696.2,415.7L696.2,347.2Q696.2,340.2 689.26,341.11L654.85,345.64Q647.91,346.55 646.13,353.32Z" fill="rgb(110,110,110)" stroke="rgb(41,41,41)" stroke-width="5"/>
<path d="M641.5,242.51L641.46,241.36Q641.29,236.2 648.29,236.2L689.2,236.2Q696.2,236.2 696.2,243.2L696.2,281.56Q696.2,288.56 690.6,284.36L647.28,251.87Q641.68,247.67 641.5,242.51Z" fill="rgb(115,115,115)" stroke="rgb(41,41,41)" stroke-width="5"/>
<ellipse cx="535.24" cy="286.52" rx="11.8" ry="4.21" fill="rgb(219,219,219)"/>
<ellipse cx="622.31" cy="292.13" rx="8.43" ry="2.81" fill="rgb(214,214,214)"/>
<ellipse cx="540.85" cy="258.43" rx="19.66" ry="6.18" fill="rgb(204,204,204)"/>
<ellipse cx="608.27" cy="256.18" rx="12.64" ry="3.09" fill="rgb(199,199,199)"/>
</g>
<rect x="524" y="250.2" width="158.2" height="158.5" fill="#500808" opacity="0.22" mask="url(#gm3)"/>
<g filter="url(#dl3)">
<ellipse cx="554.9" cy="289.33" rx="6.18" ry="3.37" fill="#600808" opacity="0.6"/>
<ellipse cx="608.27" cy="301.97" rx="7.42" ry="4.04" fill="#600808" opacity="0.6"/>
<ellipse cx="577.37" cy="331.46" rx="8.65" ry="4.72" fill="#500606" opacity="0.7"/>
<ellipse cx="538.04" cy="323.6" rx="7.42" ry="4.04" fill="#600808" opacity="0.6"/>
<ellipse cx="641.98" cy="328.65" rx="7.42" ry="4.04" fill="#600808" opacity="0.6"/>
<ellipse cx="675.69" cy="321.63" rx="7.42" ry="4.04" fill="#500606" opacity="0.6"/>
<ellipse cx="546.47" cy="348.31" rx="6.18" ry="3.37" fill="#701010" opacity="0.5"/>
<ellipse cx="599.84" cy="387.64" rx="8.65" ry="4.72" fill="#500606" opacity="0.6"/>
<ellipse cx="588.61" cy="351.12" rx="6.18" ry="3.37" fill="#701010" opacity="0.5"/>
</g>
<rect x="583.48" y="250.2" width="174.18" height="1.2" fill="#ffffff" opacity="0.07"/>
<rect x="522.57" y="252.04" width="57.54" height="1" fill="#000000" opacity="0.08"/>
<rect x="571.8" y="254.2" width="189.56" height="1.2" fill="#ffffff" opacity="0.01"/>
<rect x="592.04" y="256.59" width="84.83" height="1" fill="#ffffff" opacity="0.06"/>
<rect x="529.44" y="258.11" width="168.47" height="1.6" fill="#000000" opacity="0.1"/>
<rect x="567.29" y="259.69" width="140.75" height="1.6" fill="#000000" opacity="0.11"/>
<rect x="578.17" y="261.04" width="66.66" height="1.2" fill="#000000" opacity="0.07"/>
<rect x="521.78" y="262.92" width="98.18" height="1.6" fill="#000000" opacity="0.04"/>
<rect x="516.96" y="264.32" width="117.35" height="1.2" fill="#000000" opacity="0.05"/>
<rect x="516.99" y="265.49" width="108.74" height="1" fill="#000000" opacity="0.08"/>
<rect x="596.46" y="267.3" width="53.61" height="1.6" fill="#ffffff" opacity="0.05"/>
<rect x="544.98" y="268.33" width="171.08" height="1.6" fill="#000000" opacity="0.02"/>
<rect x="541.14" y="270.54" width="149.48" height="1.2" fill="#ffffff" opacity="0.06"/>
<rect x="565.17" y="271.56" width="130.16" height="1" fill="#000000" opacity="0.03"/>
<rect x="522.05" y="273.31" width="74.92" height="1.2" fill="#000000" opacity="0.07"/>
<rect x="546.53" y="275.37" width="132.19" height="0.8" fill="#000000" opacity="0.02"/>
<rect x="567.93" y="277.46" width="122.44" height="0.8" fill="#000000" opacity="0.1"/>
<rect x="530.65" y="278.46" width="132.5" height="1.2" fill="#ffffff" opacity="0.02"/>
<rect x="507.55" y="279.39" width="92.98" height="1.6" fill="#000000" opacity="0.1"/>
<rect x="583.16" y="280.43" width="101.02" height="1.6" fill="#ffffff" opacity="0.01"/>
<rect x="571.79" y="282.38" width="168.36" height="1" fill="#000000" opacity="0.03"/>
<rect x="532.48" y="283.59" width="76.48" height="1" fill="#ffffff" opacity="0.02"/>
<rect x="510.8" y="284.95" width="53.95" height="0.8" fill="#ffffff" opacity="0.03"/>
<rect x="558.96" y="287.23" width="94.85" height="1.2" fill="#ffffff" opacity="0.03"/>
<rect x="509.21" y="288.49" width="99.94" height="1.6" fill="#000000" opacity="0.02"/>
<rect x="507.31" y="289.54" width="65.72" height="1.2" fill="#ffffff" opacity="0.03"/>
<rect x="547.04" y="290.92" width="97.44" height="1.6" fill="#000000" opacity="0.07"/>
<rect x="558.05" y="292.19" width="65.35" height="0.8" fill="#ffffff" opacity="0.06"/>
<rect x="512.89" y="293" width="180.14" height="1" fill="#000000" opacity="0.08"/>
<rect x="575.19" y="293.91" width="142.37" height="1.2" fill="#000000" opacity="0.03"/>
<rect x="509.37" y="296.21" width="125.36" height="1.6" fill="#ffffff" opacity="0.03"/>
<rect x="540.74" y="297.09" width="103.92" height="1" fill="#000000" opacity="0.09"/>
<rect x="596.33" y="298.13" width="71.24" height="1.2" fill="#ffffff" opacity="0.03"/>
<rect x="584.18" y="298.95" width="107.88" height="1.2" fill="#000000" opacity="0.12"/>
<rect x="513.38" y="300.75" width="105.23" height="1.2" fill="#000000" opacity="0"/>
<rect x="548.61" y="302.17" width="47.98" height="1.6" fill="#ffffff" opacity="0.06"/>
<rect x="602.33" y="303.02" width="183.29" height="1.2" fill="#ffffff" opacity="0.02"/>
<rect x="579.5" y="305.34" width="116.38" height="1.2" fill="#000000" opacity="0.12"/>
<rect x="549.9" y="306.56" width="156.56" height="1.6" fill="#000000" opacity="0.11"/>
<rect x="551.76" y="308.5" width="118.76" height="1" fill="#ffffff" opacity="0.07"/>
<rect x="591.72" y="309.5" width="118.21" height="0.8" fill="#000000" opacity="0.04"/>
<rect x="568.32" y="311.14" width="108.46" height="0.8" fill="#ffffff" opacity="0.05"/>
<rect x="533.55" y="313.47" width="135.65" height="0.8" fill="#000000" opacity="0.08"/>
<rect x="552.21" y="315.31" width="134.03" height="1.6" fill="#000000" opacity="0.03"/>
<rect x="593.89" y="316.5" width="140.43" height="0.8" fill="#000000" opacity="0.11"/>
<rect x="505.26" y="318.27" width="100" height="1.6" fill="#ffffff" opacity="0.04"/>
<rect x="571.52" y="319.31" width="150.09" height="1.6" fill="#000000" opacity="0.1"/>
<rect x="575.97" y="321.18" width="132.39" height="0.8" fill="#ffffff" opacity="0.01"/>
<rect x="580.81" y="322.07" width="172.23" height="1" fill="#000000" opacity="0.06"/>
<rect x="510.68" y="323.48" width="169.78" height="1.6" fill="#000000" opacity="0.06"/>
<rect x="594.44" y="325.12" width="144.8" height="1.2" fill="#ffffff" opacity="0.05"/>
<rect x="533.74" y="326.52" width="179.6" height="0.8" fill="#000000" opacity="0.11"/>
<rect x="592.64" y="327.36" width="56.14" height="1.6" fill="#ffffff" opacity="0.03"/>
<rect x="533.72" y="328.57" width="185.32" height="0.8" fill="#ffffff" opacity="0.02"/>
<rect x="590.84" y="329.7" width="154.19" height="1.2" fill="#ffffff" opacity="0.05"/>
<rect x="535.06" y="331.55" width="188.65" height="0.8" fill="#000000" opacity="0.08"/>
<rect x="560.04" y="332.6" width="173.25" height="1" fill="#ffffff" opacity="0.02"/>
<rect x="588.54" y="334.46" width="69.53" height="1.6" fill="#000000" opacity="0.1"/>
<rect x="581.48" y="335.35" width="72.27" height="0.8" fill="#000000" opacity="0.06"/>
<rect x="529.99" y="337.27" width="162.22" height="1.6" fill="#ffffff" opacity="0.02"/>
<rect x="574.92" y="339.22" width="61.27" height="1.6" fill="#000000" opacity="0.03"/>
<rect x="578.58" y="341.06" width="68.75" height="1" fill="#ffffff" opacity="0.01"/>
<rect x="563.34" y="343.46" width="54" height="1.2" fill="#ffffff" opacity="0.04"/>
<rect x="551.38" y="345.69" width="167.23" height="1.6" fill="#ffffff" opacity="0.03"/>
<rect x="583.07" y="346.69" width="163.99" height="1.6" fill="#ffffff" opacity="0.01"/>
<rect x="566.64" y="348.21" width="67.43" height="1.6" fill="#000000" opacity="0.08"/>
<rect x="539.9" y="349.56" width="154.47" height="1.6" fill="#000000" opacity="0"/>
<rect x="520.78" y="351.56" width="108.3" height="0.8" fill="#ffffff" opacity="0.01"/>
<rect x="558.67" y="352.45" width="163.85" height="1.6" fill="#000000" opacity="0.06"/>
<rect x="543.02" y="354.24" width="177.28" height="1.6" fill="#000000" opacity="0.05"/>
<rect x="586.65" y="355.68" width="132.05" height="0.8" fill="#000000" opacity="0.05"/>
<rect x="578.36" y="357.37" width="150.33" height="1.6" fill="#000000" opacity="0.06"/>
<rect x="527.9" y="359.36" width="109.32" height="0.8" fill="#000000" opacity="0.02"/>
<rect x="577.35" y="360.96" width="112.81" height="1.6" fill="#ffffff" opacity="0.03"/>
<rect x="578.73" y="363.12" width="103.45" height="1" fill="#000000" opacity="0.02"/>
<rect x="559.89" y="364.54" width="107.68" height="1" fill="#000000" opacity="0.09"/>
<rect x="564.65" y="365.41" width="104.71" height="0.8" fill="#000000" opacity="0.09"/>
<rect x="552.79" y="367.61" width="117.17" height="1" fill="#000000" opacity="0.05"/>
<rect x="554.39" y="369.41" width="55.99" height="0.8" fill="#000000" opacity="0.06"/>
<rect x="545.63" y="371.49" width="180.61" height="1" fill="#ffffff" opacity="0.01"/>
<rect x="508.13" y="373.68" width="86.91" height="1.6" fill="#000000" opacity="0.05"/>
<rect x="575.38" y="375.76" width="49.92" height="1" fill="#ffffff" opacity="0.06"/>
<rect x="523.23" y="377.47" width="188.89" height="1.2" fill="#ffffff" opacity="0.03"/>
<rect x="510.4" y="378.27" width="132.2" height="1" fill="#ffffff" opacity="0.06"/>
<rect x="576.54" y="379.69" width="101.83" height="1" fill="#ffffff" opacity="0.07"/>
<rect x="518.14" y="380.82" width="137" height="1.6" fill="#000000" opacity="0.12"/>
<rect x="561.42" y="382.64" width="180.98" height="1" fill="#000000" opacity="0.1"/>
<rect x="584.5" y="384.56" width="104.35" height="0.8" fill="#000000" opacity="0.05"/>
<rect x="504.64" y="386.02" width="156.27" height="1.2" fill="#ffffff" opacity="0.06"/>
<rect x="549.98" y="387.56" width="78.45" height="1" fill="#ffffff" opacity="0.05"/>
<rect x="516.66" y="388.8" width="94.46" height="0.8" fill="#000000" opacity="0.11"/>
<rect x="517.72" y="391.17" width="172.58" height="0.8" fill="#000000" opacity="0.03"/>
<rect x="596.87" y="392.68" width="59.55" height="0.8" fill="#000000" opacity="0.01"/>
<rect x="560.65" y="394.7" width="129.37" height="1" fill="#000000" opacity="0.06"/>
<rect x="577.04" y="395.5" width="96.56" height="0.8" fill="#000000" opacity="0.04"/>
<rect x="563" y="397.72" width="182.79" height="1.6" fill="#000000" opacity="0.1"/>
<rect x="572.09" y="398.77" width="88.07" height="1" fill="#ffffff" opacity="0.04"/>
<rect x="514.25" y="400.87" width="123.81" height="1.6" fill="#000000" opacity="0.06"/>
<rect x="550.81" y="402.15" width="144.73" height="0.8" fill="#ffffff" opacity="0.07"/>
<rect x="567.55" y="403.64" width="133.19" height="0.8" fill="#000000" opacity="0.04"/>
<rect x="506.05" y="405.54" width="71.1" height="1.2" fill="#ffffff" opacity="0.07"/>
<rect x="546.59" y="406.87" width="177.31" height="1.2" fill="#000000" opacity="0.09"/>
<rect x="578.42" y="407.88" width="157.06" height="1.6" fill="#ffffff" opacity="0.01"/>
<rect x="524" y="250.2" width="158.2" height="158.5" filter="url(#noiseD)" opacity="0.3"/>
<text x="532.3" y="266" font-size="15" font-weight="bold" fill="#fff">MEBT</text>
<text x="677.8" y="267.4" font-size="13.5" font-weight="bold" fill="#fff" text-anchor="end">200 mV</text>
<text x="677.6" y="404.3" font-size="13.5" font-weight="bold" fill="#fff" text-anchor="end">80 mV</text>
<rect x="652.7" y="268" width="9.2" height="126.4" fill="url(#gCB)"/>
</g>
</g>
<g id="pd">
<text x="-0.9" y="435" font-size="24" text-anchor="start" font-weight="normal" fill="#000" >d</text>
<g clip-path="url(#clipXBT)">
<path d="M18.6,532.01L19.36,531.96L20.13,531.91L20.89,531.86L21.66,531.81L22.42,531.75L23.18,531.69L23.95,531.63L24.71,531.56L25.47,531.5L26.24,531.43L27,531.35L27.77,531.28L28.53,531.2L29.29,531.11L30.06,531.03L30.82,530.94L31.58,530.84L32.35,530.74L33.11,530.64L33.88,530.53L34.64,530.41L35.4,530.29L36.17,530.16L36.93,530.03L37.7,529.88L38.46,529.73L39.22,529.58L39.99,529.41L40.75,529.23L41.51,529.04L42.28,528.84L43.04,528.63L43.81,528.41L44.57,528.17L45.33,527.91L46.1,527.64L46.86,527.35L47.63,527.03L48.39,526.7L49.15,526.33L49.92,525.94L50.68,525.52L51.44,525.06L52.21,524.56L52.97,524.02L53.74,523.42L54.5,522.77L55.26,522.07L56.03,521.29L56.79,520.44L57.55,519.5L58.32,518.48L59.08,517.35L59.85,516.11L60.61,514.75L61.37,513.26L62.14,511.64L62.9,509.86L63.67,507.92L64.43,505.81L65.19,503.52L65.96,501.06L66.72,498.41L67.48,495.58L68.25,492.58L69.01,489.43L69.78,486.16L70.54,482.81L71.3,479.44L72.07,476.13L72.83,472.98L73.59,470.1L74.36,467.6L75.12,465.61L75.89,464.24L76.65,463.55L77.41,463.61L78.18,464.39L78.94,465.88L79.71,467.97L80.47,470.57L81.23,473.56L82,476.81L82.76,480.21L83.52,483.68L84.29,487.14L85.05,490.51L85.82,493.77L86.58,496.88L87.34,499.82L88.11,502.58L88.87,505.16L89.64,507.57L90.4,509.8L91.16,511.86L91.93,513.76L92.69,515.5L93.45,517.11L94.22,518.59L94.98,519.94L95.75,521.18L96.51,522.31L97.27,523.35L98.04,524.31L98.8,525.18L99.56,525.98L100.33,526.72L101.09,527.39L101.86,528.01L102.62,528.58L103.38,529.11L104.15,529.6L104.91,530.05L105.68,530.46L106.44,530.85L107.2,531.21L107.97,531.54L108.73,531.85L109.49,532.14L110.26,532.41L111.02,532.67L111.79,532.91L112.55,533.13L113.31,533.34L114.08,533.53L114.84,533.72L115.61,533.89L116.37,534.06L117.13,534.21L117.9,534.36L118.66,534.5L119.42,534.63L120.19,534.75L120.95,534.87L121.72,534.98L122.48,535.09L123.24,535.19L124.01,535.29L124.77,535.38L125.53,535.46L126.3,535.55L127.06,535.63L127.83,535.7L128.59,535.78L129.35,535.84L130.12,535.91L130.88,535.97L131.65,536.04L132.41,536.09L133.17,536.15L133.94,536.2L134.7,536.26L135.46,536.31L136.23,536.35L136.99,536.4L137.76,536.44L138.52,536.49L139.28,536.53L140.05,536.57L140.81,536.6L141.57,536.64L142.34,536.68L143.1,536.71L143.87,536.75L144.63,536.78L145.39,536.81L146.16,536.84L146.92,536.87L147.69,536.9L148.45,536.92L149.21,536.95L149.98,536.98L150.74,537L151.5,537.02L152.27,537.05L153.03,537.07L153.8,537.09L154.56,537.11L155.32,537.13L156.09,537.15L156.85,537.17L157.62,537.19L158.38,537.21L159.14,537.23L159.91,537.25L160.67,537.26L161.43,537.28L162.2,537.3L162.96,537.31L163.73,537.33L164.49,537.34L165.25,537.36L166.02,537.37L166.78,537.39L167.54,537.4L168.31,537.41L169.07,537.43L169.84,537.44L170.6,537.45L170.6,538.2L169.84,538.2L169.07,538.2L168.31,538.2L167.54,538.2L166.78,538.2L166.02,538.2L165.25,538.2L164.49,538.2L163.73,538.2L162.96,538.2L162.2,538.2L161.43,538.2L160.67,538.2L159.91,538.2L159.14,538.2L158.38,538.2L157.62,538.2L156.85,538.2L156.09,538.2L155.32,538.2L154.56,538.2L153.8,538.2L153.03,538.2L152.27,538.2L151.5,538.2L150.74,538.2L149.98,538.2L149.21,538.2L148.45,538.2L147.69,538.2L146.92,538.2L146.16,538.2L145.39,538.2L144.63,538.2L143.87,538.2L143.1,538.2L142.34,538.2L141.57,538.2L140.81,538.2L140.05,538.2L139.28,538.19L138.52,538.19L137.76,538.19L136.99,538.19L136.23,538.19L135.46,538.19L134.7,538.19L133.94,538.19L133.17,538.19L132.41,538.19L131.65,538.19L130.88,538.18L130.12,538.18L129.35,538.18L128.59,538.18L127.83,538.17L127.06,538.17L126.3,538.17L125.53,538.16L124.77,538.16L124.01,538.16L123.24,538.15L122.48,538.15L121.72,538.14L120.95,538.13L120.19,538.12L119.42,538.12L118.66,538.11L117.9,538.1L117.13,538.08L116.37,538.07L115.61,538.06L114.84,538.04L114.08,538.02L113.31,538L112.55,537.98L111.79,537.96L111.02,537.93L110.26,537.91L109.49,537.87L108.73,537.84L107.97,537.8L107.2,537.76L106.44,537.72L105.68,537.67L104.91,537.61L104.15,537.56L103.38,537.49L102.62,537.43L101.86,537.35L101.09,537.28L100.33,537.2L99.56,537.11L98.8,537.02L98.04,536.92L97.27,536.82L96.51,536.72L95.75,536.61L94.98,536.5L94.22,536.39L93.45,536.27L92.69,536.16L91.93,536.04L91.16,535.92L90.4,535.81L89.64,535.69L88.87,535.58L88.11,535.47L87.34,535.36L86.58,535.26L85.82,535.16L85.05,535.06L84.29,534.97L83.52,534.89L82.76,534.81L82,534.73L81.23,534.66L80.47,534.59L79.71,534.53L78.94,534.48L78.18,534.42L77.41,534.38L76.65,534.33L75.89,534.29L75.12,534.25L74.36,534.22L73.59,534.19L72.83,534.16L72.07,534.14L71.3,534.11L70.54,534.09L69.78,534.07L69.01,534.06L68.25,534.04L67.48,534.03L66.72,534.01L65.96,534L65.19,533.99L64.43,533.98L63.67,533.97L62.9,533.97L62.14,533.96L61.37,533.95L60.61,533.95L59.85,533.94L59.08,533.94L58.32,533.93L57.55,533.93L56.79,533.93L56.03,533.93L55.26,533.92L54.5,533.92L53.74,533.92L52.97,533.92L52.21,533.91L51.44,533.91L50.68,533.91L49.92,533.91L49.15,533.91L48.39,533.91L47.63,533.91L46.86,533.91L46.1,533.91L45.33,533.91L44.57,533.9L43.81,533.9L43.04,533.9L42.28,533.9L41.51,533.9L40.75,533.9L39.99,533.9L39.22,533.9L38.46,533.9L37.7,533.9L36.93,533.9L36.17,533.9L35.4,533.9L34.64,533.9L33.88,533.9L33.11,533.9L32.35,533.9L31.58,533.9L30.82,533.9L30.06,533.9L29.29,533.9L28.53,533.9L27.77,533.9L27,533.9L26.24,533.9L25.47,533.9L24.71,533.9L23.95,533.9L23.18,533.9L22.42,533.9L21.66,533.9L20.89,533.9L20.13,533.9L19.36,533.9L18.6,533.9Z" fill="#ff6a6a" fill-opacity="0.7" stroke="none"/>
<path d="M18.6,531.9L19.36,531.86L20.13,531.82L20.89,531.78L21.66,531.74L22.42,531.69L23.18,531.65L23.95,531.6L24.71,531.55L25.47,531.5L26.24,531.45L27,531.4L27.77,531.34L28.53,531.29L29.29,531.23L30.06,531.17L30.82,531.11L31.58,531.04L32.35,530.97L33.11,530.9L33.88,530.83L34.64,530.76L35.4,530.68L36.17,530.6L36.93,530.52L37.7,530.43L38.46,530.35L39.22,530.25L39.99,530.16L40.75,530.06L41.51,529.96L42.28,529.85L43.04,529.74L43.81,529.62L44.57,529.5L45.33,529.37L46.1,529.24L46.86,529.1L47.63,528.96L48.39,528.81L49.15,528.65L49.92,528.49L50.68,528.32L51.44,528.14L52.21,527.95L52.97,527.76L53.74,527.55L54.5,527.33L55.26,527.1L56.03,526.87L56.79,526.61L57.55,526.35L58.32,526.07L59.08,525.77L59.85,525.46L60.61,525.13L61.37,524.78L62.14,524.41L62.9,524.02L63.67,523.6L64.43,523.16L65.19,522.69L65.96,522.19L66.72,521.65L67.48,521.09L68.25,520.48L69.01,519.84L69.78,519.15L70.54,518.42L71.3,517.64L72.07,516.81L72.83,515.92L73.59,514.97L74.36,513.96L75.12,512.88L75.89,511.73L76.65,510.51L77.41,509.21L78.18,507.82L78.94,506.36L79.71,504.8L80.47,503.16L81.23,501.42L82,499.6L82.76,497.7L83.52,495.71L84.29,493.66L85.05,491.54L85.82,489.38L86.58,487.2L87.34,485.02L88.11,482.87L88.87,480.79L89.64,478.82L90.4,477.01L91.16,475.39L91.93,474.02L92.69,472.94L93.45,472.18L94.22,471.78L94.98,471.74L95.75,472.08L96.51,472.78L97.27,473.82L98.04,475.18L98.8,476.82L99.56,478.68L100.33,480.73L101.09,482.92L101.86,485.2L102.62,487.54L103.38,489.89L104.15,492.23L104.91,494.54L105.68,496.78L106.44,498.96L107.2,501.05L107.97,503.06L108.73,504.97L109.49,506.78L110.26,508.5L111.02,510.12L111.79,511.65L112.55,513.09L113.31,514.44L114.08,515.71L114.84,516.9L115.61,518.01L116.37,519.05L117.13,520.03L117.9,520.94L118.66,521.8L119.42,522.6L120.19,523.35L120.95,524.05L121.72,524.71L122.48,525.33L123.24,525.9L124.01,526.44L124.77,526.95L125.53,527.43L126.3,527.88L127.06,528.3L127.83,528.7L128.59,529.07L129.35,529.43L130.12,529.76L130.88,530.08L131.65,530.37L132.41,530.66L133.17,530.92L133.94,531.18L134.7,531.42L135.46,531.65L136.23,531.87L136.99,532.07L137.76,532.27L138.52,532.46L139.28,532.64L140.05,532.81L140.81,532.97L141.57,533.13L142.34,533.28L143.1,533.42L143.87,533.56L144.63,533.69L145.39,533.82L146.16,533.94L146.92,534.05L147.69,534.16L148.45,534.27L149.21,534.37L149.98,534.47L150.74,534.57L151.5,534.66L152.27,534.75L153.03,534.83L153.8,534.92L154.56,535L155.32,535.07L156.09,535.15L156.85,535.22L157.62,535.29L158.38,535.35L159.14,535.42L159.91,535.48L160.67,535.54L161.43,535.6L162.2,535.65L162.96,535.71L163.73,535.76L164.49,535.81L165.25,535.86L166.02,535.91L166.78,535.96L167.54,536L168.31,536.05L169.07,536.09L169.84,536.13L170.6,536.17L170.6,538.2L169.84,538.2L169.07,538.2L168.31,538.2L167.54,538.2L166.78,538.2L166.02,538.2L165.25,538.2L164.49,538.2L163.73,538.2L162.96,538.2L162.2,538.2L161.43,538.2L160.67,538.2L159.91,538.2L159.14,538.2L158.38,538.2L157.62,538.2L156.85,538.2L156.09,538.2L155.32,538.2L154.56,538.2L153.8,538.2L153.03,538.2L152.27,538.2L151.5,538.2L150.74,538.2L149.98,538.2L149.21,538.2L148.45,538.2L147.69,538.2L146.92,538.2L146.16,538.2L145.39,538.2L144.63,538.2L143.87,538.2L143.1,538.2L142.34,538.2L141.57,538.2L140.81,538.2L140.05,538.2L139.28,538.19L138.52,538.19L137.76,538.19L136.99,538.19L136.23,538.19L135.46,538.19L134.7,538.19L133.94,538.19L133.17,538.19L132.41,538.19L131.65,538.19L130.88,538.18L130.12,538.18L129.35,538.18L128.59,538.18L127.83,538.17L127.06,538.17L126.3,538.17L125.53,538.16L124.77,538.16L124.01,538.16L123.24,538.15L122.48,538.15L121.72,538.14L120.95,538.13L120.19,538.12L119.42,538.12L118.66,538.11L117.9,538.1L117.13,538.08L116.37,538.07L115.61,538.06L114.84,538.04L114.08,538.02L113.31,538L112.55,537.98L111.79,537.96L111.02,537.93L110.26,537.91L109.49,537.87L108.73,537.84L107.97,537.8L107.2,537.76L106.44,537.72L105.68,537.67L104.91,537.61L104.15,537.56L103.38,537.49L102.62,537.43L101.86,537.35L101.09,537.28L100.33,537.2L99.56,537.11L98.8,537.02L98.04,536.92L97.27,536.82L96.51,536.72L95.75,536.61L94.98,536.5L94.22,536.39L93.45,536.27L92.69,536.16L91.93,536.04L91.16,535.92L90.4,535.81L89.64,535.69L88.87,535.58L88.11,535.47L87.34,535.36L86.58,535.26L85.82,535.16L85.05,535.06L84.29,534.97L83.52,534.89L82.76,534.81L82,534.73L81.23,534.66L80.47,534.59L79.71,534.53L78.94,534.48L78.18,534.42L77.41,534.38L76.65,534.33L75.89,534.29L75.12,534.25L74.36,534.22L73.59,534.19L72.83,534.16L72.07,534.14L71.3,534.11L70.54,534.09L69.78,534.07L69.01,534.06L68.25,534.04L67.48,534.03L66.72,534.01L65.96,534L65.19,533.99L64.43,533.98L63.67,533.97L62.9,533.97L62.14,533.96L61.37,533.95L60.61,533.95L59.85,533.94L59.08,533.94L58.32,533.93L57.55,533.93L56.79,533.93L56.03,533.93L55.26,533.92L54.5,533.92L53.74,533.92L52.97,533.92L52.21,533.91L51.44,533.91L50.68,533.91L49.92,533.91L49.15,533.91L48.39,533.91L47.63,533.91L46.86,533.91L46.1,533.91L45.33,533.91L44.57,533.9L43.81,533.9L43.04,533.9L42.28,533.9L41.51,533.9L40.75,533.9L39.99,533.9L39.22,533.9L38.46,533.9L37.7,533.9L36.93,533.9L36.17,533.9L35.4,533.9L34.64,533.9L33.88,533.9L33.11,533.9L32.35,533.9L31.58,533.9L30.82,533.9L30.06,533.9L29.29,533.9L28.53,533.9L27.77,533.9L27,533.9L26.24,533.9L25.47,533.9L24.71,533.9L23.95,533.9L23.18,533.9L22.42,533.9L21.66,533.9L20.89,533.9L20.13,533.9L19.36,533.9L18.6,533.9Z" fill="#ee9a50" fill-opacity="0.62" stroke="none"/>
<path d="M18.6,531.9L19.36,531.86L20.13,531.82L20.89,531.78L21.66,531.74L22.42,531.69L23.18,531.65L23.95,531.6L24.71,531.55L25.47,531.5L26.24,531.45L27,531.4L27.77,531.34L28.53,531.29L29.29,531.23L30.06,531.17L30.82,531.11L31.58,531.04L32.35,530.97L33.11,530.9L33.88,530.83L34.64,530.76L35.4,530.68L36.17,530.6L36.93,530.52L37.7,530.43L38.46,530.35L39.22,530.25L39.99,530.16L40.75,530.06L41.51,529.96L42.28,529.85L43.04,529.74L43.81,529.62L44.57,529.5L45.33,529.37L46.1,529.24L46.86,529.1L47.63,528.96L48.39,528.81L49.15,528.65L49.92,528.49L50.68,528.32L51.44,528.14L52.21,527.95L52.97,527.76L53.74,527.55L54.5,527.33L55.26,527.1L56.03,526.87L56.79,526.61L57.55,526.35L58.32,526.07L59.08,525.77L59.85,525.46L60.61,525.13L61.37,524.78L62.14,524.41L62.9,524.02L63.67,523.6L64.43,523.16L65.19,522.69L65.96,522.19L66.72,521.65L67.48,521.09L68.25,520.48L69.01,519.84L69.78,519.15L70.54,518.42L71.3,517.64L72.07,516.81L72.83,515.92L73.59,514.97L74.36,513.96L75.12,512.88L75.89,511.73L76.65,510.51L77.41,509.21L78.18,507.82L78.94,506.36L79.71,504.8L80.47,503.16L81.23,501.42L82,499.6L82.76,497.7L83.52,495.71L84.29,493.66L85.05,491.54L85.82,489.38L86.58,487.2L87.34,485.02L88.11,482.87L88.87,480.79L89.64,478.82L90.4,477.01L91.16,475.39L91.93,474.02L92.69,472.94L93.45,472.18L94.22,471.78L94.98,471.74L95.75,472.08L96.51,472.78L97.27,473.82L98.04,475.18L98.8,476.82L99.56,478.68L100.33,480.73L101.09,482.92L101.86,485.2L102.62,487.54L103.38,489.89L104.15,492.23L104.91,494.54L105.68,496.78L106.44,498.96L107.2,501.05L107.97,503.06L108.73,504.97L109.49,506.78L110.26,508.5L111.02,510.12L111.79,511.65L112.55,513.09L113.31,514.44L114.08,515.71L114.84,516.9L115.61,518.01L116.37,519.05L117.13,520.03L117.9,520.94L118.66,521.8L119.42,522.6L120.19,523.35L120.95,524.05L121.72,524.71L122.48,525.33L123.24,525.9L124.01,526.44L124.77,526.95L125.53,527.43L126.3,527.88L127.06,528.3L127.83,528.7L128.59,529.07L129.35,529.43L130.12,529.76L130.88,530.08L131.65,530.37L132.41,530.66L133.17,530.92L133.94,531.18L134.7,531.42L135.46,531.65L136.23,531.87L136.99,532.07L137.76,532.27L138.52,532.46L139.28,532.64L140.05,532.81L140.81,532.97L141.57,533.13L142.34,533.28L143.1,533.42L143.87,533.56L144.63,533.69L145.39,533.82L146.16,533.94L146.92,534.05L147.69,534.16L148.45,534.27L149.21,534.37L149.98,534.47L150.74,534.57L151.5,534.66L152.27,534.75L153.03,534.83L153.8,534.92L154.56,535L155.32,535.07L156.09,535.15L156.85,535.22L157.62,535.29L158.38,535.35L159.14,535.42L159.91,535.48L160.67,535.54L161.43,535.6L162.2,535.65L162.96,535.71L163.73,535.76L164.49,535.81L165.25,535.86L166.02,535.91L166.78,535.96L167.54,536L168.31,536.05L169.07,536.09L169.84,536.13L170.6,536.17" fill="none" stroke="#ff2a2a" stroke-width="1.0"/>
<path d="M18.6,533.9L19.36,533.9L20.13,533.9L20.89,533.9L21.66,533.9L22.42,533.9L23.18,533.9L23.95,533.9L24.71,533.9L25.47,533.9L26.24,533.9L27,533.9L27.77,533.9L28.53,533.9L29.29,533.9L30.06,533.9L30.82,533.9L31.58,533.9L32.35,533.9L33.11,533.9L33.88,533.9L34.64,533.9L35.4,533.9L36.17,533.9L36.93,533.9L37.7,533.9L38.46,533.9L39.22,533.9L39.99,533.9L40.75,533.9L41.51,533.9L42.28,533.9L43.04,533.9L43.81,533.9L44.57,533.9L45.33,533.91L46.1,533.91L46.86,533.91L47.63,533.91L48.39,533.91L49.15,533.91L49.92,533.91L50.68,533.91L51.44,533.91L52.21,533.91L52.97,533.92L53.74,533.92L54.5,533.92L55.26,533.92L56.03,533.93L56.79,533.93L57.55,533.93L58.32,533.93L59.08,533.94L59.85,533.94L60.61,533.95L61.37,533.95L62.14,533.96L62.9,533.97L63.67,533.97L64.43,533.98L65.19,533.99L65.96,534L66.72,534.01L67.48,534.03L68.25,534.04L69.01,534.06L69.78,534.07L70.54,534.09L71.3,534.11L72.07,534.14L72.83,534.16L73.59,534.19L74.36,534.22L75.12,534.25L75.89,534.29L76.65,534.33L77.41,534.38L78.18,534.42L78.94,534.48L79.71,534.53L80.47,534.59L81.23,534.66L82,534.73L82.76,534.81L83.52,534.89L84.29,534.97L85.05,535.06L85.82,535.16L86.58,535.26L87.34,535.36L88.11,535.47L88.87,535.58L89.64,535.69L90.4,535.81L91.16,535.92L91.93,536.04L92.69,536.16L93.45,536.27L94.22,536.39L94.98,536.5L95.75,536.61L96.51,536.72L97.27,536.82L98.04,536.92L98.8,537.02L99.56,537.11L100.33,537.2L101.09,537.28L101.86,537.35L102.62,537.43L103.38,537.49L104.15,537.56L104.91,537.61L105.68,537.67L106.44,537.72L107.2,537.76L107.97,537.8L108.73,537.84L109.49,537.87L110.26,537.91L111.02,537.93L111.79,537.96L112.55,537.98L113.31,538L114.08,538.02L114.84,538.04L115.61,538.06L116.37,538.07L117.13,538.08L117.9,538.1L118.66,538.11L119.42,538.12L120.19,538.12L120.95,538.13L121.72,538.14L122.48,538.15L123.24,538.15L124.01,538.16L124.77,538.16L125.53,538.16L126.3,538.17L127.06,538.17L127.83,538.17L128.59,538.18L129.35,538.18L130.12,538.18L130.88,538.18L131.65,538.19L132.41,538.19L133.17,538.19L133.94,538.19L134.7,538.19L135.46,538.19L136.23,538.19L136.99,538.19L137.76,538.19L138.52,538.19L139.28,538.19L140.05,538.2L140.81,538.2L141.57,538.2L142.34,538.2L143.1,538.2L143.87,538.2L144.63,538.2L145.39,538.2L146.16,538.2L146.92,538.2L147.69,538.2L148.45,538.2L149.21,538.2L149.98,538.2L150.74,538.2L151.5,538.2L152.27,538.2L153.03,538.2L153.8,538.2L154.56,538.2L155.32,538.2L156.09,538.2L156.85,538.2L157.62,538.2L158.38,538.2L159.14,538.2L159.91,538.2L160.67,538.2L161.43,538.2L162.2,538.2L162.96,538.2L163.73,538.2L164.49,538.2L165.25,538.2L166.02,538.2L166.78,538.2L167.54,538.2L168.31,538.2L169.07,538.2L169.84,538.2L170.6,538.2" fill="none" stroke="#ff10ff" stroke-width="1.1"/>
<path d="M18.6,530.37L19.36,530.29L20.13,530.22L20.89,530.14L21.66,530.05L22.42,529.97L23.18,529.88L23.95,529.79L24.71,529.69L25.47,529.59L26.24,529.49L27,529.39L27.77,529.28L28.53,529.16L29.29,529.05L30.06,528.92L30.82,528.8L31.58,528.67L32.35,528.53L33.11,528.39L33.88,528.24L34.64,528.08L35.4,527.92L36.17,527.76L36.93,527.58L37.7,527.4L38.46,527.21L39.22,527.01L39.99,526.8L40.75,526.58L41.51,526.35L42.28,526.1L43.04,525.85L43.81,525.58L44.57,525.3L45.33,525L46.1,524.68L46.86,524.34L47.63,523.97L48.39,523.59L49.15,523.17L49.92,522.72L50.68,522.23L51.44,521.69L52.21,521.11L52.97,520.47L53.74,519.76L54.5,518.98L55.26,518.12L56.03,517.16L56.79,516.09L57.55,514.9L58.32,513.58L59.08,512.11L59.85,510.47L60.61,508.66L61.37,506.66L62.14,504.46L62.9,502.05L63.67,499.42L64.43,496.56L65.19,493.49L65.96,490.18L66.72,486.67L67.48,482.96L68.25,479.07L69.01,475.03L69.78,470.88L70.54,466.68L71.3,462.48L72.07,458.35L72.83,454.4L73.59,450.7L74.36,447.36L75.12,444.47L75.89,442.11L76.65,440.33L77.41,439.15L78.18,438.56L78.94,438.5L79.71,438.91L80.47,439.68L81.23,440.73L82,441.95L82.76,443.27L83.52,444.62L84.29,445.93L85.05,447.17L85.82,448.32L86.58,449.35L87.34,450.27L88.11,451.08L88.87,451.81L89.64,452.48L90.4,453.12L91.16,453.77L91.93,454.46L92.69,455.22L93.45,456.09L94.22,457.1L94.98,458.27L95.75,459.6L96.51,461.12L97.27,462.81L98.04,464.67L98.8,466.67L99.56,468.81L100.33,471.06L101.09,473.39L101.86,475.78L102.62,478.2L103.38,480.64L104.15,483.06L104.91,485.46L105.68,487.81L106.44,490.11L107.2,492.35L107.97,494.51L108.73,496.59L109.49,498.59L110.26,500.5L111.02,502.33L111.79,504.08L112.55,505.74L113.31,507.31L114.08,508.81L114.84,510.22L115.61,511.56L116.37,512.83L117.13,514.02L117.9,515.15L118.66,516.22L119.42,517.22L120.19,518.17L120.95,519.07L121.72,519.91L122.48,520.7L123.24,521.45L124.01,522.16L124.77,522.82L125.53,523.45L126.3,524.04L127.06,524.6L127.83,525.13L128.59,525.63L129.35,526.1L130.12,526.54L130.88,526.96L131.65,527.36L132.41,527.74L133.17,528.1L133.94,528.44L134.7,528.76L135.46,529.07L136.23,529.36L136.99,529.64L137.76,529.91L138.52,530.16L139.28,530.4L140.05,530.63L140.81,530.86L141.57,531.07L142.34,531.27L143.1,531.46L143.87,531.65L144.63,531.83L145.39,532L146.16,532.16L146.92,532.32L147.69,532.47L148.45,532.62L149.21,532.76L149.98,532.89L150.74,533.02L151.5,533.15L152.27,533.27L153.03,533.39L153.8,533.5L154.56,533.61L155.32,533.72L156.09,533.82L156.85,533.92L157.62,534.01L158.38,534.1L159.14,534.19L159.91,534.28L160.67,534.36L161.43,534.44L162.2,534.52L162.96,534.6L163.73,534.67L164.49,534.74L165.25,534.81L166.02,534.88L166.78,534.94L167.54,535.01L168.31,535.07L169.07,535.13L169.84,535.19L170.6,535.24" fill="none" stroke="#000000" stroke-width="1.4"/>
<circle cx="20.1" cy="530.69" r="1.05" fill="#a6eca6" stroke="#8ee08e" stroke-width="0.5"/>
<circle cx="22.8" cy="530.7" r="1.05" fill="#a6eca6" stroke="#8ee08e" stroke-width="0.5"/>
<circle cx="25.5" cy="530.53" r="1.05" fill="#a6eca6" stroke="#8ee08e" stroke-width="0.5"/>
<circle cx="28.2" cy="530.53" r="1.05" fill="#a6eca6" stroke="#8ee08e" stroke-width="0.5"/>
<circle cx="30.9" cy="529.65" r="1.05" fill="#a6eca6" stroke="#8ee08e" stroke-width="0.5"/>
<circle cx="33.6" cy="529.64" r="1.05" fill="#a6eca6" stroke="#8ee08e" stroke-width="0.5"/>
<circle cx="36.3" cy="526.98" r="1.05" fill="#a6eca6" stroke="#8ee08e" stroke-width="0.5"/>
<circle cx="39" cy="527.43" r="1.05" fill="#a6eca6" stroke="#8ee08e" stroke-width="0.5"/>
<circle cx="41.7" cy="527.88" r="1.05" fill="#a6eca6" stroke="#8ee08e" stroke-width="0.5"/>
<circle cx="44.4" cy="526.36" r="1.05" fill="#a6eca6" stroke="#8ee08e" stroke-width="0.5"/>
<circle cx="47.1" cy="525.97" r="1.05" fill="#a6eca6" stroke="#8ee08e" stroke-width="0.5"/>
<circle cx="49.8" cy="522.86" r="1.05" fill="#a6eca6" stroke="#8ee08e" stroke-width="0.5"/>
<circle cx="52.5" cy="522.14" r="1.05" fill="#a6eca6" stroke="#8ee08e" stroke-width="0.5"/>
<circle cx="55.2" cy="519.47" r="1.05" fill="#a6eca6" stroke="#8ee08e" stroke-width="0.5"/>
<circle cx="57.9" cy="517.17" r="1.05" fill="#a6eca6" stroke="#8ee08e" stroke-width="0.5"/>
<circle cx="60.6" cy="512.85" r="1.05" fill="#a6eca6" stroke="#8ee08e" stroke-width="0.5"/>
<circle cx="63.3" cy="505.14" r="1.05" fill="#a6eca6" stroke="#8ee08e" stroke-width="0.5"/>
<circle cx="66" cy="496.76" r="1.05" fill="#a6eca6" stroke="#8ee08e" stroke-width="0.5"/>
<circle cx="68.7" cy="485.29" r="1.05" fill="#a6eca6" stroke="#8ee08e" stroke-width="0.5"/>
<circle cx="71.4" cy="472.84" r="1.05" fill="#a6eca6" stroke="#8ee08e" stroke-width="0.5"/>
<circle cx="74.1" cy="457.76" r="1.05" fill="#a6eca6" stroke="#8ee08e" stroke-width="0.5"/>
<circle cx="76.8" cy="444.08" r="1.05" fill="#a6eca6" stroke="#8ee08e" stroke-width="0.5"/>
<circle cx="79.5" cy="439.58" r="1.05" fill="#a6eca6" stroke="#8ee08e" stroke-width="0.5"/>
<circle cx="82.2" cy="438.73" r="1.05" fill="#a6eca6" stroke="#8ee08e" stroke-width="0.5"/>
<circle cx="84.9" cy="444.15" r="1.05" fill="#a6eca6" stroke="#8ee08e" stroke-width="0.5"/>
<circle cx="87.6" cy="447.4" r="1.05" fill="#a6eca6" stroke="#8ee08e" stroke-width="0.5"/>
<circle cx="90.3" cy="450.27" r="1.05" fill="#a6eca6" stroke="#8ee08e" stroke-width="0.5"/>
<circle cx="93" cy="454.69" r="1.05" fill="#a6eca6" stroke="#8ee08e" stroke-width="0.5"/>
<circle cx="95.7" cy="455.96" r="1.05" fill="#a6eca6" stroke="#8ee08e" stroke-width="0.5"/>
<circle cx="98.4" cy="460.63" r="1.05" fill="#a6eca6" stroke="#8ee08e" stroke-width="0.5"/>
<circle cx="101.1" cy="469.21" r="1.05" fill="#a6eca6" stroke="#8ee08e" stroke-width="0.5"/>
<circle cx="103.8" cy="477.13" r="1.05" fill="#a6eca6" stroke="#8ee08e" stroke-width="0.5"/>
<circle cx="106.5" cy="484.29" r="1.05" fill="#a6eca6" stroke="#8ee08e" stroke-width="0.5"/>
<circle cx="109.2" cy="494.02" r="1.05" fill="#a6eca6" stroke="#8ee08e" stroke-width="0.5"/>
<circle cx="111.9" cy="500.21" r="1.05" fill="#a6eca6" stroke="#8ee08e" stroke-width="0.5"/>
<circle cx="114.6" cy="506.69" r="1.05" fill="#a6eca6" stroke="#8ee08e" stroke-width="0.5"/>
<circle cx="117.3" cy="510.67" r="1.05" fill="#a6eca6" stroke="#8ee08e" stroke-width="0.5"/>
<circle cx="120" cy="516.64" r="1.05" fill="#a6eca6" stroke="#8ee08e" stroke-width="0.5"/>
<circle cx="122.7" cy="519.47" r="1.05" fill="#a6eca6" stroke="#8ee08e" stroke-width="0.5"/>
<circle cx="125.4" cy="522.91" r="1.05" fill="#a6eca6" stroke="#8ee08e" stroke-width="0.5"/>
<circle cx="128.1" cy="524.99" r="1.05" fill="#a6eca6" stroke="#8ee08e" stroke-width="0.5"/>
<circle cx="130.8" cy="525.4" r="1.05" fill="#a6eca6" stroke="#8ee08e" stroke-width="0.5"/>
<circle cx="133.5" cy="527.06" r="1.05" fill="#a6eca6" stroke="#8ee08e" stroke-width="0.5"/>
<circle cx="136.2" cy="527.84" r="1.05" fill="#a6eca6" stroke="#8ee08e" stroke-width="0.5"/>
<circle cx="138.9" cy="528.83" r="1.05" fill="#a6eca6" stroke="#8ee08e" stroke-width="0.5"/>
<circle cx="141.6" cy="529.52" r="1.05" fill="#a6eca6" stroke="#8ee08e" stroke-width="0.5"/>
<circle cx="144.3" cy="530.83" r="1.05" fill="#a6eca6" stroke="#8ee08e" stroke-width="0.5"/>
<circle cx="147" cy="532.2" r="1.05" fill="#a6eca6" stroke="#8ee08e" stroke-width="0.5"/>
<circle cx="149.7" cy="531.32" r="1.05" fill="#a6eca6" stroke="#8ee08e" stroke-width="0.5"/>
<circle cx="152.4" cy="533.43" r="1.05" fill="#a6eca6" stroke="#8ee08e" stroke-width="0.5"/>
<circle cx="155.1" cy="533.04" r="1.05" fill="#a6eca6" stroke="#8ee08e" stroke-width="0.5"/>
<circle cx="157.8" cy="533.35" r="1.05" fill="#a6eca6" stroke="#8ee08e" stroke-width="0.5"/>
<circle cx="160.5" cy="534.91" r="1.05" fill="#a6eca6" stroke="#8ee08e" stroke-width="0.5"/>
<circle cx="163.2" cy="534.39" r="1.05" fill="#a6eca6" stroke="#8ee08e" stroke-width="0.5"/>
<circle cx="165.9" cy="534.26" r="1.05" fill="#a6eca6" stroke="#8ee08e" stroke-width="0.5"/>
<circle cx="168.6" cy="534.9" r="1.05" fill="#a6eca6" stroke="#8ee08e" stroke-width="0.5"/>
</g>
<rect x="18.6" y="419.6" width="152" height="122.8" fill="none" stroke="#000" stroke-width="1.3"/>
<line x1="18.6" y1="542.4" x2="18.6" y2="544.8" stroke="#000" stroke-width="1"/>
<text x="18.6" y="552.6" font-size="8.4" text-anchor="middle" font-weight="normal" fill="#000" >490</text>
<line x1="40.31" y1="542.4" x2="40.31" y2="544" stroke="#000" stroke-width="1"/>
<line x1="62.03" y1="542.4" x2="62.03" y2="544.8" stroke="#000" stroke-width="1"/>
<text x="62.03" y="552.6" font-size="8.4" text-anchor="middle" font-weight="normal" fill="#000" >488</text>
<line x1="83.74" y1="542.4" x2="83.74" y2="544" stroke="#000" stroke-width="1"/>
<line x1="105.46" y1="542.4" x2="105.46" y2="544.8" stroke="#000" stroke-width="1"/>
<text x="105.46" y="552.6" font-size="8.4" text-anchor="middle" font-weight="normal" fill="#000" >486</text>
<line x1="127.17" y1="542.4" x2="127.17" y2="544" stroke="#000" stroke-width="1"/>
<line x1="148.89" y1="542.4" x2="148.89" y2="544.8" stroke="#000" stroke-width="1"/>
<text x="148.89" y="552.6" font-size="8.4" text-anchor="middle" font-weight="normal" fill="#000" >484</text>
<line x1="170.6" y1="542.4" x2="170.6" y2="544" stroke="#000" stroke-width="1"/>
<text x="96.7" y="563.2" font-size="9.1" text-anchor="middle" font-weight="normal" fill="#000" >Binding energy (eV)</text>
<text transform="translate(9.5,476.9) rotate(-90)" font-size="9.5" text-anchor="middle">Intensity (a.u.)</text>
<text x="22.4" y="432.7" font-size="9" text-anchor="start" font-weight="normal" fill="#000" >BT</text>
<circle cx="115.45" cy="427.9" r="1.3" fill="#b4f0b4" stroke="#9be89b" stroke-width="0.6"/>
<line x1="108.3" y1="436.8" x2="122.6" y2="436.8" stroke="#000000" stroke-width="1.3"/>
<line x1="108.3" y1="446.3" x2="122.6" y2="446.3" stroke="#ff10ff" stroke-width="1.3"/>
<rect x="108.3" y="453.4" width="14.3" height="6.8" fill="#f5bd8c" stroke="#c8a080" stroke-width="0.6"/>
<rect x="108.3" y="463.3" width="14.3" height="7" fill="#ff9494" stroke="#c08080" stroke-width="0.6"/>
<text x="126.8" y="430.5" font-size="7.4" text-anchor="start" font-weight="normal" fill="#000" >Raw data</text>
<text x="124.9" y="439.4" font-size="7.4" text-anchor="start" font-weight="normal" fill="#000" >Peak sum</text>
<text x="124.9" y="448.9" font-size="7.4" text-anchor="start" font-weight="normal" fill="#000" >Background</text>
<text x="124.9" y="459.4" font-size="7.4">Sn<tspan font-size="5" dy="-3">2+</tspan></text>
<text x="124.9" y="469.4" font-size="7.4">Sn<tspan font-size="5" dy="-3">4+</tspan></text>
<g clip-path="url(#clipXMBT)">
<path d="M188.6,532.26L189.36,532.24L190.13,532.22L190.89,532.2L191.66,532.18L192.42,532.15L193.19,532.13L193.95,532.11L194.72,532.08L195.48,532.05L196.25,532.03L197.01,532L197.78,531.97L198.54,531.93L199.31,531.9L200.07,531.87L200.84,531.83L201.6,531.79L202.37,531.75L203.13,531.71L203.9,531.66L204.66,531.62L205.43,531.57L206.19,531.52L206.96,531.46L207.72,531.4L208.49,531.34L209.25,531.27L210.02,531.2L210.78,531.13L211.54,531.05L212.31,530.96L213.07,530.86L213.84,530.76L214.6,530.64L215.37,530.52L216.13,530.38L216.9,530.22L217.66,530.04L218.43,529.84L219.19,529.62L219.96,529.36L220.72,529.07L221.49,528.74L222.25,528.36L223.02,527.92L223.78,527.42L224.55,526.86L225.31,526.21L226.08,525.47L226.84,524.64L227.61,523.71L228.37,522.66L229.14,521.49L229.9,520.19L230.67,518.76L231.43,517.2L232.19,515.5L232.96,513.66L233.72,511.68L234.49,509.58L235.25,507.37L236.02,505.05L236.78,502.65L237.55,500.19L238.31,497.69L239.08,495.2L239.84,492.75L240.61,490.39L241.37,488.17L242.14,486.13L242.9,484.35L243.67,482.88L244.43,481.76L245.2,481.05L245.96,480.76L246.73,480.93L247.49,481.53L248.26,482.55L249.02,483.95L249.79,485.68L250.55,487.68L251.32,489.9L252.08,492.29L252.85,494.78L253.61,497.34L254.37,499.92L255.14,502.49L255.9,505L256.67,507.45L257.43,509.81L258.2,512.06L258.96,514.2L259.73,516.21L260.49,518.08L261.26,519.82L262.02,521.43L262.79,522.91L263.55,524.26L264.32,525.5L265.08,526.61L265.85,527.62L266.61,528.54L267.38,529.36L268.14,530.1L268.91,530.77L269.67,531.37L270.44,531.91L271.2,532.4L271.97,532.84L272.73,533.24L273.5,533.6L274.26,533.93L275.03,534.24L275.79,534.51L276.55,534.77L277.32,535.01L278.08,535.22L278.85,535.43L279.61,535.61L280.38,535.79L281.14,535.95L281.91,536.1L282.67,536.24L283.44,536.37L284.2,536.5L284.97,536.61L285.73,536.72L286.5,536.82L287.26,536.92L288.03,537L288.79,537.09L289.56,537.16L290.32,537.24L291.09,537.31L291.85,537.37L292.62,537.43L293.38,537.49L294.15,537.54L294.91,537.59L295.68,537.64L296.44,537.68L297.21,537.72L297.97,537.76L298.73,537.8L299.5,537.83L300.26,537.87L301.03,537.9L301.79,537.93L302.56,537.95L303.32,537.98L304.09,538.01L304.85,538.03L305.62,538.05L306.38,538.08L307.15,538.1L307.91,538.12L308.68,538.13L309.44,538.15L310.21,538.17L310.97,538.19L311.74,538.2L312.5,538.22L313.27,538.23L314.03,538.24L314.8,538.26L315.56,538.27L316.33,538.28L317.09,538.29L317.86,538.31L318.62,538.32L319.38,538.33L320.15,538.34L320.91,538.35L321.68,538.36L322.44,538.37L323.21,538.38L323.97,538.38L324.74,538.39L325.5,538.4L326.27,538.41L327.03,538.42L327.8,538.42L328.56,538.43L329.33,538.44L330.09,538.44L330.86,538.45L331.62,538.46L332.39,538.46L333.15,538.47L333.92,538.47L334.68,538.48L335.45,538.49L336.21,538.49L336.98,538.5L337.74,538.5L338.51,538.51L339.27,538.51L340.04,538.52L340.8,538.52L340.8,538.8L340.04,538.8L339.27,538.8L338.51,538.8L337.74,538.8L336.98,538.8L336.21,538.8L335.45,538.8L334.68,538.8L333.92,538.8L333.15,538.8L332.39,538.8L331.62,538.8L330.86,538.8L330.09,538.8L329.33,538.8L328.56,538.8L327.8,538.8L327.03,538.8L326.27,538.8L325.5,538.8L324.74,538.8L323.97,538.79L323.21,538.79L322.44,538.79L321.68,538.79L320.91,538.79L320.15,538.79L319.38,538.79L318.62,538.79L317.86,538.79L317.09,538.79L316.33,538.79L315.56,538.78L314.8,538.78L314.03,538.78L313.27,538.78L312.5,538.78L311.74,538.78L310.97,538.77L310.21,538.77L309.44,538.77L308.68,538.76L307.91,538.76L307.15,538.76L306.38,538.75L305.62,538.75L304.85,538.74L304.09,538.74L303.32,538.73L302.56,538.72L301.79,538.72L301.03,538.71L300.26,538.7L299.5,538.69L298.73,538.68L297.97,538.67L297.21,538.65L296.44,538.64L295.68,538.62L294.91,538.61L294.15,538.59L293.38,538.57L292.62,538.54L291.85,538.52L291.09,538.49L290.32,538.46L289.56,538.43L288.79,538.4L288.03,538.36L287.26,538.32L286.5,538.28L285.73,538.23L284.97,538.18L284.2,538.12L283.44,538.06L282.67,538L281.91,537.93L281.14,537.86L280.38,537.78L279.61,537.7L278.85,537.61L278.08,537.52L277.32,537.42L276.55,537.32L275.79,537.21L275.03,537.1L274.26,536.98L273.5,536.86L272.73,536.73L271.97,536.6L271.2,536.47L270.44,536.34L269.67,536.2L268.91,536.06L268.14,535.93L267.38,535.79L266.61,535.65L265.85,535.51L265.08,535.38L264.32,535.24L263.55,535.11L262.79,534.99L262.02,534.86L261.26,534.75L260.49,534.63L259.73,534.52L258.96,534.42L258.2,534.32L257.43,534.22L256.67,534.13L255.9,534.05L255.14,533.97L254.37,533.89L253.61,533.82L252.85,533.76L252.08,533.7L251.32,533.64L250.55,533.59L249.79,533.54L249.02,533.49L248.26,533.45L247.49,533.41L246.73,533.38L245.96,533.35L245.2,533.32L244.43,533.29L243.67,533.26L242.9,533.24L242.14,533.22L241.37,533.2L240.61,533.18L239.84,533.17L239.08,533.15L238.31,533.14L237.55,533.13L236.78,533.11L236.02,533.1L235.25,533.1L234.49,533.09L233.72,533.08L232.96,533.07L232.19,533.07L231.43,533.06L230.67,533.05L229.9,533.05L229.14,533.04L228.37,533.04L227.61,533.04L226.84,533.03L226.08,533.03L225.31,533.03L224.55,533.03L223.78,533.02L223.02,533.02L222.25,533.02L221.49,533.02L220.72,533.02L219.96,533.01L219.19,533.01L218.43,533.01L217.66,533.01L216.9,533.01L216.13,533.01L215.37,533.01L214.6,533.01L213.84,533.01L213.07,533.01L212.31,533.01L211.54,533L210.78,533L210.02,533L209.25,533L208.49,533L207.72,533L206.96,533L206.19,533L205.43,533L204.66,533L203.9,533L203.13,533L202.37,533L201.6,533L200.84,533L200.07,533L199.31,533L198.54,533L197.78,533L197.01,533L196.25,533L195.48,533L194.72,533L193.95,533L193.19,533L192.42,533L191.66,533L190.89,533L190.13,533L189.36,533L188.6,533Z" fill="#ff6a6a" fill-opacity="0.7" stroke="none"/>
<path d="M188.6,532.92L189.36,532.92L190.13,532.91L190.89,532.91L191.66,532.91L192.42,532.91L193.19,532.91L193.95,532.9L194.72,532.9L195.48,532.9L196.25,532.89L197.01,532.89L197.78,532.88L198.54,532.88L199.31,532.87L200.07,532.86L200.84,532.86L201.6,532.85L202.37,532.84L203.13,532.82L203.9,532.81L204.66,532.8L205.43,532.78L206.19,532.76L206.96,532.73L207.72,532.71L208.49,532.68L209.25,532.64L210.02,532.61L210.78,532.56L211.54,532.51L212.31,532.45L213.07,532.39L213.84,532.32L214.6,532.23L215.37,532.14L216.13,532.03L216.9,531.92L217.66,531.78L218.43,531.64L219.19,531.47L219.96,531.29L220.72,531.08L221.49,530.86L222.25,530.61L223.02,530.33L223.78,530.02L224.55,529.69L225.31,529.32L226.08,528.92L226.84,528.48L227.61,528L228.37,527.48L229.14,526.92L229.9,526.31L230.67,525.65L231.43,524.95L232.19,524.19L232.96,523.38L233.72,522.51L234.49,521.59L235.25,520.61L236.02,519.57L236.78,518.48L237.55,517.32L238.31,516.11L239.08,514.84L239.84,513.51L240.61,512.13L241.37,510.7L242.14,509.22L242.9,507.68L243.67,506.11L244.43,504.5L245.2,502.85L245.96,501.17L246.73,499.46L247.49,497.74L248.26,496L249.02,494.26L249.79,492.53L250.55,490.8L251.32,489.09L252.08,487.41L252.85,485.76L253.61,484.15L254.37,482.6L255.14,481.11L255.9,479.69L256.67,478.34L257.43,477.08L258.2,475.91L258.96,474.85L259.73,473.89L260.49,473.04L261.26,472.32L262.02,471.71L262.79,471.24L263.55,470.9L264.32,470.7L265.08,470.63L265.85,470.7L266.61,470.91L267.38,471.25L268.14,471.73L268.91,472.33L269.67,473.07L270.44,473.93L271.2,474.91L271.97,476L272.73,477.19L273.5,478.49L274.26,479.87L275.03,481.34L275.79,482.89L276.55,484.5L277.32,486.17L278.08,487.89L278.85,489.66L279.61,491.46L280.38,493.28L281.14,495.12L281.91,496.97L282.67,498.82L283.44,500.66L284.2,502.5L284.97,504.31L285.73,506.1L286.5,507.85L287.26,509.57L288.03,511.25L288.79,512.88L289.56,514.47L290.32,516L291.09,517.48L291.85,518.9L292.62,520.27L293.38,521.57L294.15,522.82L294.91,524L295.68,525.12L296.44,526.18L297.21,527.18L297.97,528.12L298.73,529.01L299.5,529.83L300.26,530.6L301.03,531.32L301.79,531.99L302.56,532.61L303.32,533.19L304.09,533.71L304.85,534.2L305.62,534.65L306.38,535.06L307.15,535.43L307.91,535.77L308.68,536.08L309.44,536.36L310.21,536.62L310.97,536.85L311.74,537.05L312.5,537.24L313.27,537.41L314.03,537.56L314.8,537.69L315.56,537.81L316.33,537.92L317.09,538.01L317.86,538.1L318.62,538.17L319.38,538.24L320.15,538.3L320.91,538.35L321.68,538.4L322.44,538.43L323.21,538.47L323.97,538.5L324.74,538.53L325.5,538.55L326.27,538.57L327.03,538.59L327.8,538.61L328.56,538.62L329.33,538.63L330.09,538.64L330.86,538.65L331.62,538.66L332.39,538.67L333.15,538.67L333.92,538.68L334.68,538.68L335.45,538.69L336.21,538.69L336.98,538.7L337.74,538.7L338.51,538.7L339.27,538.71L340.04,538.71L340.8,538.71L340.8,538.8L340.04,538.8L339.27,538.8L338.51,538.8L337.74,538.8L336.98,538.8L336.21,538.8L335.45,538.8L334.68,538.8L333.92,538.8L333.15,538.8L332.39,538.8L331.62,538.8L330.86,538.8L330.09,538.8L329.33,538.8L328.56,538.8L327.8,538.8L327.03,538.8L326.27,538.8L325.5,538.8L324.74,538.8L323.97,538.79L323.21,538.79L322.44,538.79L321.68,538.79L320.91,538.79L320.15,538.79L319.38,538.79L318.62,538.79L317.86,538.79L317.09,538.79L316.33,538.79L315.56,538.78L314.8,538.78L314.03,538.78L313.27,538.78L312.5,538.78L311.74,538.78L310.97,538.77L310.21,538.77L309.44,538.77L308.68,538.76L307.91,538.76L307.15,538.76L306.38,538.75L305.62,538.75L304.85,538.74L304.09,538.74L303.32,538.73L302.56,538.72L301.79,538.72L301.03,538.71L300.26,538.7L299.5,538.69L298.73,538.68L297.97,538.67L297.21,538.65L296.44,538.64L295.68,538.62L294.91,538.61L294.15,538.59L293.38,538.57L292.62,538.54L291.85,538.52L291.09,538.49L290.32,538.46L289.56,538.43L288.79,538.4L288.03,538.36L287.26,538.32L286.5,538.28L285.73,538.23L284.97,538.18L284.2,538.12L283.44,538.06L282.67,538L281.91,537.93L281.14,537.86L280.38,537.78L279.61,537.7L278.85,537.61L278.08,537.52L277.32,537.42L276.55,537.32L275.79,537.21L275.03,537.1L274.26,536.98L273.5,536.86L272.73,536.73L271.97,536.6L271.2,536.47L270.44,536.34L269.67,536.2L268.91,536.06L268.14,535.93L267.38,535.79L266.61,535.65L265.85,535.51L265.08,535.38L264.32,535.24L263.55,535.11L262.79,534.99L262.02,534.86L261.26,534.75L260.49,534.63L259.73,534.52L258.96,534.42L258.2,534.32L257.43,534.22L256.67,534.13L255.9,534.05L255.14,533.97L254.37,533.89L253.61,533.82L252.85,533.76L252.08,533.7L251.32,533.64L250.55,533.59L249.79,533.54L249.02,533.49L248.26,533.45L247.49,533.41L246.73,533.38L245.96,533.35L245.2,533.32L244.43,533.29L243.67,533.26L242.9,533.24L242.14,533.22L241.37,533.2L240.61,533.18L239.84,533.17L239.08,533.15L238.31,533.14L237.55,533.13L236.78,533.11L236.02,533.1L235.25,533.1L234.49,533.09L233.72,533.08L232.96,533.07L232.19,533.07L231.43,533.06L230.67,533.05L229.9,533.05L229.14,533.04L228.37,533.04L227.61,533.04L226.84,533.03L226.08,533.03L225.31,533.03L224.55,533.03L223.78,533.02L223.02,533.02L222.25,533.02L221.49,533.02L220.72,533.02L219.96,533.01L219.19,533.01L218.43,533.01L217.66,533.01L216.9,533.01L216.13,533.01L215.37,533.01L214.6,533.01L213.84,533.01L213.07,533.01L212.31,533.01L211.54,533L210.78,533L210.02,533L209.25,533L208.49,533L207.72,533L206.96,533L206.19,533L205.43,533L204.66,533L203.9,533L203.13,533L202.37,533L201.6,533L200.84,533L200.07,533L199.31,533L198.54,533L197.78,533L197.01,533L196.25,533L195.48,533L194.72,533L193.95,533L193.19,533L192.42,533L191.66,533L190.89,533L190.13,533L189.36,533L188.6,533Z" fill="#ee9a50" fill-opacity="0.62" stroke="none"/>
<path d="M188.6,532.92L189.36,532.92L190.13,532.91L190.89,532.91L191.66,532.91L192.42,532.91L193.19,532.91L193.95,532.9L194.72,532.9L195.48,532.9L196.25,532.89L197.01,532.89L197.78,532.88L198.54,532.88L199.31,532.87L200.07,532.86L200.84,532.86L201.6,532.85L202.37,532.84L203.13,532.82L203.9,532.81L204.66,532.8L205.43,532.78L206.19,532.76L206.96,532.73L207.72,532.71L208.49,532.68L209.25,532.64L210.02,532.61L210.78,532.56L211.54,532.51L212.31,532.45L213.07,532.39L213.84,532.32L214.6,532.23L215.37,532.14L216.13,532.03L216.9,531.92L217.66,531.78L218.43,531.64L219.19,531.47L219.96,531.29L220.72,531.08L221.49,530.86L222.25,530.61L223.02,530.33L223.78,530.02L224.55,529.69L225.31,529.32L226.08,528.92L226.84,528.48L227.61,528L228.37,527.48L229.14,526.92L229.9,526.31L230.67,525.65L231.43,524.95L232.19,524.19L232.96,523.38L233.72,522.51L234.49,521.59L235.25,520.61L236.02,519.57L236.78,518.48L237.55,517.32L238.31,516.11L239.08,514.84L239.84,513.51L240.61,512.13L241.37,510.7L242.14,509.22L242.9,507.68L243.67,506.11L244.43,504.5L245.2,502.85L245.96,501.17L246.73,499.46L247.49,497.74L248.26,496L249.02,494.26L249.79,492.53L250.55,490.8L251.32,489.09L252.08,487.41L252.85,485.76L253.61,484.15L254.37,482.6L255.14,481.11L255.9,479.69L256.67,478.34L257.43,477.08L258.2,475.91L258.96,474.85L259.73,473.89L260.49,473.04L261.26,472.32L262.02,471.71L262.79,471.24L263.55,470.9L264.32,470.7L265.08,470.63L265.85,470.7L266.61,470.91L267.38,471.25L268.14,471.73L268.91,472.33L269.67,473.07L270.44,473.93L271.2,474.91L271.97,476L272.73,477.19L273.5,478.49L274.26,479.87L275.03,481.34L275.79,482.89L276.55,484.5L277.32,486.17L278.08,487.89L278.85,489.66L279.61,491.46L280.38,493.28L281.14,495.12L281.91,496.97L282.67,498.82L283.44,500.66L284.2,502.5L284.97,504.31L285.73,506.1L286.5,507.85L287.26,509.57L288.03,511.25L288.79,512.88L289.56,514.47L290.32,516L291.09,517.48L291.85,518.9L292.62,520.27L293.38,521.57L294.15,522.82L294.91,524L295.68,525.12L296.44,526.18L297.21,527.18L297.97,528.12L298.73,529.01L299.5,529.83L300.26,530.6L301.03,531.32L301.79,531.99L302.56,532.61L303.32,533.19L304.09,533.71L304.85,534.2L305.62,534.65L306.38,535.06L307.15,535.43L307.91,535.77L308.68,536.08L309.44,536.36L310.21,536.62L310.97,536.85L311.74,537.05L312.5,537.24L313.27,537.41L314.03,537.56L314.8,537.69L315.56,537.81L316.33,537.92L317.09,538.01L317.86,538.1L318.62,538.17L319.38,538.24L320.15,538.3L320.91,538.35L321.68,538.4L322.44,538.43L323.21,538.47L323.97,538.5L324.74,538.53L325.5,538.55L326.27,538.57L327.03,538.59L327.8,538.61L328.56,538.62L329.33,538.63L330.09,538.64L330.86,538.65L331.62,538.66L332.39,538.67L333.15,538.67L333.92,538.68L334.68,538.68L335.45,538.69L336.21,538.69L336.98,538.7L337.74,538.7L338.51,538.7L339.27,538.71L340.04,538.71L340.8,538.71" fill="none" stroke="#ff2a2a" stroke-width="1.0"/>
<path d="M188.6,533L189.36,533L190.13,533L190.89,533L191.66,533L192.42,533L193.19,533L193.95,533L194.72,533L195.48,533L196.25,533L197.01,533L197.78,533L198.54,533L199.31,533L200.07,533L200.84,533L201.6,533L202.37,533L203.13,533L203.9,533L204.66,533L205.43,533L206.19,533L206.96,533L207.72,533L208.49,533L209.25,533L210.02,533L210.78,533L211.54,533L212.31,533.01L213.07,533.01L213.84,533.01L214.6,533.01L215.37,533.01L216.13,533.01L216.9,533.01L217.66,533.01L218.43,533.01L219.19,533.01L219.96,533.01L220.72,533.02L221.49,533.02L222.25,533.02L223.02,533.02L223.78,533.02L224.55,533.03L225.31,533.03L226.08,533.03L226.84,533.03L227.61,533.04L228.37,533.04L229.14,533.04L229.9,533.05L230.67,533.05L231.43,533.06L232.19,533.07L232.96,533.07L233.72,533.08L234.49,533.09L235.25,533.1L236.02,533.1L236.78,533.11L237.55,533.13L238.31,533.14L239.08,533.15L239.84,533.17L240.61,533.18L241.37,533.2L242.14,533.22L242.9,533.24L243.67,533.26L244.43,533.29L245.2,533.32L245.96,533.35L246.73,533.38L247.49,533.41L248.26,533.45L249.02,533.49L249.79,533.54L250.55,533.59L251.32,533.64L252.08,533.7L252.85,533.76L253.61,533.82L254.37,533.89L255.14,533.97L255.9,534.05L256.67,534.13L257.43,534.22L258.2,534.32L258.96,534.42L259.73,534.52L260.49,534.63L261.26,534.75L262.02,534.86L262.79,534.99L263.55,535.11L264.32,535.24L265.08,535.38L265.85,535.51L266.61,535.65L267.38,535.79L268.14,535.93L268.91,536.06L269.67,536.2L270.44,536.34L271.2,536.47L271.97,536.6L272.73,536.73L273.5,536.86L274.26,536.98L275.03,537.1L275.79,537.21L276.55,537.32L277.32,537.42L278.08,537.52L278.85,537.61L279.61,537.7L280.38,537.78L281.14,537.86L281.91,537.93L282.67,538L283.44,538.06L284.2,538.12L284.97,538.18L285.73,538.23L286.5,538.28L287.26,538.32L288.03,538.36L288.79,538.4L289.56,538.43L290.32,538.46L291.09,538.49L291.85,538.52L292.62,538.54L293.38,538.57L294.15,538.59L294.91,538.61L295.68,538.62L296.44,538.64L297.21,538.65L297.97,538.67L298.73,538.68L299.5,538.69L300.26,538.7L301.03,538.71L301.79,538.72L302.56,538.72L303.32,538.73L304.09,538.74L304.85,538.74L305.62,538.75L306.38,538.75L307.15,538.76L307.91,538.76L308.68,538.76L309.44,538.77L310.21,538.77L310.97,538.77L311.74,538.78L312.5,538.78L313.27,538.78L314.03,538.78L314.8,538.78L315.56,538.78L316.33,538.79L317.09,538.79L317.86,538.79L318.62,538.79L319.38,538.79L320.15,538.79L320.91,538.79L321.68,538.79L322.44,538.79L323.21,538.79L323.97,538.79L324.74,538.8L325.5,538.8L326.27,538.8L327.03,538.8L327.8,538.8L328.56,538.8L329.33,538.8L330.09,538.8L330.86,538.8L331.62,538.8L332.39,538.8L333.15,538.8L333.92,538.8L334.68,538.8L335.45,538.8L336.21,538.8L336.98,538.8L337.74,538.8L338.51,538.8L339.27,538.8L340.04,538.8L340.8,538.8" fill="none" stroke="#ff10ff" stroke-width="1.1"/>
<path d="M188.6,532.77L189.36,532.76L190.13,532.76L190.89,532.75L191.66,532.75L192.42,532.74L193.19,532.73L193.95,532.73L194.72,532.72L195.48,532.71L196.25,532.7L197.01,532.69L197.78,532.68L198.54,532.67L199.31,532.65L200.07,532.64L200.84,532.62L201.6,532.6L202.37,532.58L203.13,532.56L203.9,532.53L204.66,532.49L205.43,532.46L206.19,532.41L206.96,532.36L207.72,532.3L208.49,532.24L209.25,532.16L210.02,532.06L210.78,531.95L211.54,531.83L212.31,531.68L213.07,531.5L213.84,531.29L214.6,531.05L215.37,530.77L216.13,530.44L216.9,530.06L217.66,529.62L218.43,529.11L219.19,528.52L219.96,527.84L220.72,527.07L221.49,526.19L222.25,525.19L223.02,524.06L223.78,522.8L224.55,521.38L225.31,519.81L226.08,518.08L226.84,516.17L227.61,514.09L228.37,511.82L229.14,509.38L229.9,506.75L230.67,503.95L231.43,500.98L232.19,497.86L232.96,494.59L233.72,491.2L234.49,487.71L235.25,484.14L236.02,480.51L236.78,476.86L237.55,473.22L238.31,469.61L239.08,466.08L239.84,462.65L240.61,459.36L241.37,456.23L242.14,453.3L242.9,450.59L243.67,448.12L244.43,445.91L245.2,443.98L245.96,442.33L246.73,440.97L247.49,439.9L248.26,439.12L249.02,438.62L249.79,438.38L250.55,438.4L251.32,438.64L252.08,439.1L252.85,439.74L253.61,440.56L254.37,441.51L255.14,442.59L255.9,443.77L256.67,445.02L257.43,446.33L258.2,447.69L258.96,449.08L259.73,450.48L260.49,451.89L261.26,453.3L262.02,454.72L262.79,456.12L263.55,457.53L264.32,458.93L265.08,460.33L265.85,461.74L266.61,463.15L267.38,464.57L268.14,466.01L268.91,467.48L269.67,468.97L270.44,470.48L271.2,472.03L271.97,473.61L272.73,475.23L273.5,476.88L274.26,478.57L275.03,480.29L275.79,482.04L276.55,483.82L277.32,485.62L278.08,487.45L278.85,489.29L279.61,491.14L280.38,493L281.14,494.86L281.91,496.72L282.67,498.57L283.44,500.4L284.2,502.22L284.97,504.01L285.73,505.77L286.5,507.5L287.26,509.19L288.03,510.83L288.79,512.44L289.56,513.99L290.32,515.49L291.09,516.94L291.85,518.34L292.62,519.68L293.38,520.96L294.15,522.19L294.91,523.36L295.68,524.46L296.44,525.52L297.21,526.51L297.97,527.45L298.73,528.33L299.5,529.16L300.26,529.93L301.03,530.66L301.79,531.33L302.56,531.96L303.32,532.54L304.09,533.09L304.85,533.58L305.62,534.05L306.38,534.47L307.15,534.86L307.91,535.22L308.68,535.54L309.44,535.84L310.21,536.11L310.97,536.36L311.74,536.58L312.5,536.79L313.27,536.97L314.03,537.14L314.8,537.29L315.56,537.42L316.33,537.54L317.09,537.65L317.86,537.75L318.62,537.83L319.38,537.91L320.15,537.98L320.91,538.05L321.68,538.1L322.44,538.15L323.21,538.2L323.97,538.24L324.74,538.27L325.5,538.3L326.27,538.33L327.03,538.36L327.8,538.38L328.56,538.4L329.33,538.42L330.09,538.43L330.86,538.45L331.62,538.46L332.39,538.47L333.15,538.49L333.92,538.5L334.68,538.51L335.45,538.51L336.21,538.52L336.98,538.53L337.74,538.54L338.51,538.54L339.27,538.55L340.04,538.55L340.8,538.56" fill="none" stroke="#0a1ee6" stroke-width="1.4"/>
<circle cx="190.1" cy="533.26" r="1.05" fill="#a6eca6" stroke="#8ee08e" stroke-width="0.5"/>
<circle cx="192.8" cy="531.69" r="1.05" fill="#a6eca6" stroke="#8ee08e" stroke-width="0.5"/>
<circle cx="195.5" cy="533.87" r="1.05" fill="#a6eca6" stroke="#8ee08e" stroke-width="0.5"/>
<circle cx="198.2" cy="531.55" r="1.05" fill="#a6eca6" stroke="#8ee08e" stroke-width="0.5"/>
<circle cx="200.9" cy="533.25" r="1.05" fill="#a6eca6" stroke="#8ee08e" stroke-width="0.5"/>
<circle cx="203.6" cy="533.42" r="1.05" fill="#a6eca6" stroke="#8ee08e" stroke-width="0.5"/>
<circle cx="206.3" cy="531.33" r="1.05" fill="#a6eca6" stroke="#8ee08e" stroke-width="0.5"/>
<circle cx="209" cy="533.01" r="1.05" fill="#a6eca6" stroke="#8ee08e" stroke-width="0.5"/>
<circle cx="211.7" cy="531.72" r="1.05" fill="#a6eca6" stroke="#8ee08e" stroke-width="0.5"/>
<circle cx="214.4" cy="531.73" r="1.05" fill="#a6eca6" stroke="#8ee08e" stroke-width="0.5"/>
<circle cx="217.1" cy="529.5" r="1.05" fill="#a6eca6" stroke="#8ee08e" stroke-width="0.5"/>
<circle cx="219.8" cy="528.11" r="1.05" fill="#a6eca6" stroke="#8ee08e" stroke-width="0.5"/>
<circle cx="222.5" cy="525.99" r="1.05" fill="#a6eca6" stroke="#8ee08e" stroke-width="0.5"/>
<circle cx="225.2" cy="524.03" r="1.05" fill="#a6eca6" stroke="#8ee08e" stroke-width="0.5"/>
<circle cx="227.9" cy="516.57" r="1.05" fill="#a6eca6" stroke="#8ee08e" stroke-width="0.5"/>
<circle cx="230.6" cy="510.11" r="1.05" fill="#a6eca6" stroke="#8ee08e" stroke-width="0.5"/>
<circle cx="233.3" cy="500.52" r="1.05" fill="#a6eca6" stroke="#8ee08e" stroke-width="0.5"/>
<circle cx="236" cy="488.72" r="1.05" fill="#a6eca6" stroke="#8ee08e" stroke-width="0.5"/>
<circle cx="238.7" cy="474.5" r="1.05" fill="#a6eca6" stroke="#8ee08e" stroke-width="0.5"/>
<circle cx="241.4" cy="462.05" r="1.05" fill="#a6eca6" stroke="#8ee08e" stroke-width="0.5"/>
<circle cx="244.1" cy="451.69" r="1.05" fill="#a6eca6" stroke="#8ee08e" stroke-width="0.5"/>
<circle cx="246.8" cy="444.4" r="1.05" fill="#a6eca6" stroke="#8ee08e" stroke-width="0.5"/>
<circle cx="249.5" cy="438.41" r="1.05" fill="#a6eca6" stroke="#8ee08e" stroke-width="0.5"/>
<circle cx="252.2" cy="439.02" r="1.05" fill="#a6eca6" stroke="#8ee08e" stroke-width="0.5"/>
<circle cx="254.9" cy="441.03" r="1.05" fill="#a6eca6" stroke="#8ee08e" stroke-width="0.5"/>
<circle cx="257.6" cy="444.94" r="1.05" fill="#a6eca6" stroke="#8ee08e" stroke-width="0.5"/>
<circle cx="260.3" cy="447.66" r="1.05" fill="#a6eca6" stroke="#8ee08e" stroke-width="0.5"/>
<circle cx="263" cy="454.82" r="1.05" fill="#a6eca6" stroke="#8ee08e" stroke-width="0.5"/>
<circle cx="265.7" cy="457.73" r="1.05" fill="#a6eca6" stroke="#8ee08e" stroke-width="0.5"/>
<circle cx="268.4" cy="463.3" r="1.05" fill="#a6eca6" stroke="#8ee08e" stroke-width="0.5"/>
<circle cx="271.1" cy="469.09" r="1.05" fill="#a6eca6" stroke="#8ee08e" stroke-width="0.5"/>
<circle cx="273.8" cy="475.32" r="1.05" fill="#a6eca6" stroke="#8ee08e" stroke-width="0.5"/>
<circle cx="276.5" cy="479.85" r="1.05" fill="#a6eca6" stroke="#8ee08e" stroke-width="0.5"/>
<circle cx="279.2" cy="487.55" r="1.05" fill="#a6eca6" stroke="#8ee08e" stroke-width="0.5"/>
<circle cx="281.9" cy="493.16" r="1.05" fill="#a6eca6" stroke="#8ee08e" stroke-width="0.5"/>
<circle cx="284.6" cy="499.14" r="1.05" fill="#a6eca6" stroke="#8ee08e" stroke-width="0.5"/>
<circle cx="287.3" cy="505.48" r="1.05" fill="#a6eca6" stroke="#8ee08e" stroke-width="0.5"/>
<circle cx="290" cy="511.06" r="1.05" fill="#a6eca6" stroke="#8ee08e" stroke-width="0.5"/>
<circle cx="292.7" cy="516.14" r="1.05" fill="#a6eca6" stroke="#8ee08e" stroke-width="0.5"/>
<circle cx="295.4" cy="520.96" r="1.05" fill="#a6eca6" stroke="#8ee08e" stroke-width="0.5"/>
<circle cx="298.1" cy="526.18" r="1.05" fill="#a6eca6" stroke="#8ee08e" stroke-width="0.5"/>
<circle cx="300.8" cy="530.14" r="1.05" fill="#a6eca6" stroke="#8ee08e" stroke-width="0.5"/>
<circle cx="303.5" cy="530.69" r="1.05" fill="#a6eca6" stroke="#8ee08e" stroke-width="0.5"/>
<circle cx="306.2" cy="532.4" r="1.05" fill="#a6eca6" stroke="#8ee08e" stroke-width="0.5"/>
<circle cx="308.9" cy="536.15" r="1.05" fill="#a6eca6" stroke="#8ee08e" stroke-width="0.5"/>
<circle cx="311.6" cy="536.16" r="1.05" fill="#a6eca6" stroke="#8ee08e" stroke-width="0.5"/>
<circle cx="314.3" cy="536.63" r="1.05" fill="#a6eca6" stroke="#8ee08e" stroke-width="0.5"/>
<circle cx="317" cy="536.78" r="1.05" fill="#a6eca6" stroke="#8ee08e" stroke-width="0.5"/>
<circle cx="319.7" cy="538.01" r="1.05" fill="#a6eca6" stroke="#8ee08e" stroke-width="0.5"/>
<circle cx="322.4" cy="538.83" r="1.05" fill="#a6eca6" stroke="#8ee08e" stroke-width="0.5"/>
<circle cx="325.1" cy="538.11" r="1.05" fill="#a6eca6" stroke="#8ee08e" stroke-width="0.5"/>
<circle cx="327.8" cy="538.14" r="1.05" fill="#a6eca6" stroke="#8ee08e" stroke-width="0.5"/>
<circle cx="330.5" cy="537.34" r="1.05" fill="#a6eca6" stroke="#8ee08e" stroke-width="0.5"/>
<circle cx="333.2" cy="539.46" r="1.05" fill="#a6eca6" stroke="#8ee08e" stroke-width="0.5"/>
<circle cx="335.9" cy="537.38" r="1.05" fill="#a6eca6" stroke="#8ee08e" stroke-width="0.5"/>
<circle cx="338.6" cy="538.52" r="1.05" fill="#a6eca6" stroke="#8ee08e" stroke-width="0.5"/>
</g>
<rect x="188.6" y="420.3" width="152.2" height="122.1" fill="none" stroke="#000" stroke-width="1.3"/>
<line x1="188.6" y1="542.4" x2="188.6" y2="544.8" stroke="#000" stroke-width="1"/>
<text x="188.6" y="552.6" font-size="8.4" text-anchor="middle" font-weight="normal" fill="#000" >490</text>
<line x1="210.34" y1="542.4" x2="210.34" y2="544" stroke="#000" stroke-width="1"/>
<line x1="232.09" y1="542.4" x2="232.09" y2="544.8" stroke="#000" stroke-width="1"/>
<text x="232.09" y="552.6" font-size="8.4" text-anchor="middle" font-weight="normal" fill="#000" >488</text>
<line x1="253.83" y1="542.4" x2="253.83" y2="544" stroke="#000" stroke-width="1"/>
<line x1="275.57" y1="542.4" x2="275.57" y2="544.8" stroke="#000" stroke-width="1"/>
<text x="275.57" y="552.6" font-size="8.4" text-anchor="middle" font-weight="normal" fill="#000" >486</text>
<line x1="297.31" y1="542.4" x2="297.31" y2="544" stroke="#000" stroke-width="1"/>
<line x1="319.06" y1="542.4" x2="319.06" y2="544.8" stroke="#000" stroke-width="1"/>
<text x="319.06" y="552.6" font-size="8.4" text-anchor="middle" font-weight="normal" fill="#000" >484</text>
<line x1="340.8" y1="542.4" x2="340.8" y2="544" stroke="#000" stroke-width="1"/>
<text x="270.9" y="563.2" font-size="9.1" text-anchor="middle" font-weight="normal" fill="#000" >Binding energy (eV)</text>
<text transform="translate(181,475.4) rotate(-90)" font-size="9.5" text-anchor="middle">Intensity (a.u.)</text>
<text x="192.2" y="433.9" font-size="9" text-anchor="start" font-weight="normal" fill="#000" >MBT</text>
<circle cx="286.15" cy="431.3" r="1.3" fill="#b4f0b4" stroke="#9be89b" stroke-width="0.6"/>
<line x1="277.9" y1="440.5" x2="294.4" y2="440.5" stroke="#0a1ee6" stroke-width="1.3"/>
<line x1="277.9" y1="449.6" x2="294.4" y2="449.6" stroke="#ff10ff" stroke-width="1.3"/>
<rect x="277.9" y="456.3" width="16.5" height="7.9" fill="#f5bd8c" stroke="#c8a080" stroke-width="0.6"/>
<rect x="277.9" y="466.3" width="16.5" height="7.9" fill="#ff9494" stroke="#c08080" stroke-width="0.6"/>
<text x="296.6" y="433.9" font-size="7.4" text-anchor="start" font-weight="normal" fill="#000" >Raw date</text>
<text x="296.6" y="443.1" font-size="7.4" text-anchor="start" font-weight="normal" fill="#000" >Peak sum</text>
<text x="296.6" y="452.2" font-size="7.4" text-anchor="start" font-weight="normal" fill="#000" >Background</text>
<text x="296.6" y="462.85" font-size="7.4">Sn<tspan font-size="5" dy="-3">2+</tspan></text>
<text x="296.6" y="472.85" font-size="7.4">Sn<tspan font-size="5" dy="-3">4+</tspan></text>
<g clip-path="url(#clipXEBT)">
<path d="M359.9,532.04L360.66,532.02L361.42,532L362.19,531.97L362.95,531.95L363.71,531.92L364.47,531.89L365.24,531.87L366,531.84L366.76,531.81L367.52,531.77L368.29,531.74L369.05,531.71L369.81,531.67L370.57,531.63L371.33,531.59L372.1,531.55L372.86,531.5L373.62,531.46L374.38,531.41L375.15,531.36L375.91,531.3L376.67,531.25L377.43,531.19L378.2,531.12L378.96,531.06L379.72,530.99L380.48,530.91L381.24,530.83L382.01,530.74L382.77,530.65L383.53,530.55L384.29,530.44L385.06,530.32L385.82,530.19L386.58,530.04L387.34,529.89L388.11,529.71L388.87,529.52L389.63,529.3L390.39,529.05L391.15,528.78L391.92,528.47L392.68,528.12L393.44,527.72L394.2,527.28L394.97,526.78L395.73,526.21L396.49,525.57L397.25,524.86L398.02,524.06L398.78,523.17L399.54,522.19L400.3,521.1L401.06,519.91L401.83,518.6L402.59,517.19L403.35,515.65L404.11,514.01L404.88,512.25L405.64,510.4L406.4,508.44L407.16,506.4L407.93,504.3L408.69,502.14L409.45,499.96L410.21,497.79L410.97,495.65L411.74,493.59L412.5,491.65L413.26,489.89L414.02,488.35L414.79,487.08L415.55,486.13L416.31,485.53L417.07,485.32L417.84,485.5L418.6,486.06L419.36,486.99L420.12,488.25L420.88,489.8L421.65,491.59L422.41,493.56L423.17,495.67L423.93,497.88L424.7,500.13L425.46,502.4L426.22,504.66L426.98,506.87L427.75,509.03L428.51,511.11L429.27,513.1L430.03,514.99L430.79,516.78L431.56,518.45L432.32,520.02L433.08,521.48L433.84,522.83L434.61,524.07L435.37,525.21L436.13,526.25L436.89,527.21L437.66,528.08L438.42,528.87L439.18,529.59L439.94,530.25L440.71,530.84L441.47,531.39L442.23,531.88L442.99,532.34L443.75,532.75L444.52,533.13L445.28,533.49L446.04,533.81L446.8,534.11L447.57,534.39L448.33,534.65L449.09,534.89L449.85,535.11L450.62,535.32L451.38,535.52L452.14,535.71L452.9,535.88L453.66,536.05L454.43,536.2L455.19,536.35L455.95,536.48L456.71,536.61L457.48,536.74L458.24,536.85L459,536.96L459.76,537.06L460.53,537.16L461.29,537.25L462.05,537.33L462.81,537.41L463.57,537.49L464.34,537.56L465.1,537.63L465.86,537.69L466.62,537.75L467.39,537.81L468.15,537.86L468.91,537.91L469.67,537.96L470.44,538.01L471.2,538.05L471.96,538.09L472.72,538.13L473.48,538.16L474.25,538.2L475.01,538.23L475.77,538.26L476.53,538.29L477.3,538.32L478.06,538.35L478.82,538.37L479.58,538.4L480.35,538.42L481.11,538.44L481.87,538.46L482.63,538.48L483.39,538.5L484.16,538.52L484.92,538.54L485.68,538.55L486.44,538.57L487.21,538.59L487.97,538.6L488.73,538.62L489.49,538.63L490.26,538.64L491.02,538.65L491.78,538.67L492.54,538.68L493.3,538.69L494.07,538.7L494.83,538.71L495.59,538.72L496.35,538.73L497.12,538.74L497.88,538.75L498.64,538.76L499.4,538.77L500.17,538.78L500.93,538.78L501.69,538.79L502.45,538.8L503.21,538.81L503.98,538.81L504.74,538.82L505.5,538.83L506.26,538.83L507.03,538.84L507.79,538.85L508.55,538.85L509.31,538.86L510.08,538.86L510.84,538.87L511.6,538.87L511.6,539.2L510.84,539.2L510.08,539.2L509.31,539.2L508.55,539.2L507.79,539.2L507.03,539.2L506.26,539.2L505.5,539.2L504.74,539.2L503.98,539.19L503.21,539.19L502.45,539.19L501.69,539.19L500.93,539.19L500.17,539.19L499.4,539.19L498.64,539.19L497.88,539.19L497.12,539.19L496.35,539.19L495.59,539.19L494.83,539.19L494.07,539.18L493.3,539.18L492.54,539.18L491.78,539.18L491.02,539.18L490.26,539.18L489.49,539.17L488.73,539.17L487.97,539.17L487.21,539.17L486.44,539.16L485.68,539.16L484.92,539.16L484.16,539.15L483.39,539.15L482.63,539.15L481.87,539.14L481.11,539.14L480.35,539.13L479.58,539.12L478.82,539.12L478.06,539.11L477.3,539.1L476.53,539.09L475.77,539.08L475.01,539.07L474.25,539.06L473.48,539.05L472.72,539.04L471.96,539.02L471.2,539.01L470.44,538.99L469.67,538.98L468.91,538.96L468.15,538.94L467.39,538.91L466.62,538.89L465.86,538.86L465.1,538.84L464.34,538.8L463.57,538.77L462.81,538.74L462.05,538.7L461.29,538.66L460.53,538.62L459.76,538.57L459,538.52L458.24,538.47L457.48,538.41L456.71,538.35L455.95,538.28L455.19,538.22L454.43,538.14L453.66,538.07L452.9,537.99L452.14,537.9L451.38,537.81L450.62,537.72L449.85,537.62L449.09,537.52L448.33,537.41L447.57,537.3L446.8,537.19L446.04,537.07L445.28,536.95L444.52,536.82L443.75,536.7L442.99,536.57L442.23,536.44L441.47,536.31L440.71,536.17L439.94,536.04L439.18,535.91L438.42,535.77L437.66,535.64L436.89,535.51L436.13,535.38L435.37,535.26L434.61,535.13L433.84,535.01L433.08,534.9L432.32,534.78L431.56,534.67L430.79,534.57L430.03,534.46L429.27,534.37L428.51,534.27L427.75,534.19L426.98,534.1L426.22,534.02L425.46,533.94L424.7,533.87L423.93,533.81L423.17,533.74L422.41,533.68L421.65,533.63L420.88,533.57L420.12,533.52L419.36,533.48L418.6,533.43L417.84,533.39L417.07,533.36L416.31,533.32L415.55,533.29L414.79,533.26L414.02,533.23L413.26,533.21L412.5,533.18L411.74,533.16L410.97,533.14L410.21,533.12L409.45,533.1L408.69,533.09L407.93,533.07L407.16,533.06L406.4,533.05L405.64,533.04L404.88,533.02L404.11,533.01L403.35,533.01L402.59,533L401.83,532.99L401.06,532.98L400.3,532.98L399.54,532.97L398.78,532.96L398.02,532.96L397.25,532.95L396.49,532.95L395.73,532.95L394.97,532.94L394.2,532.94L393.44,532.94L392.68,532.93L391.92,532.93L391.15,532.93L390.39,532.93L389.63,532.92L388.87,532.92L388.11,532.92L387.34,532.92L386.58,532.92L385.82,532.92L385.06,532.91L384.29,532.91L383.53,532.91L382.77,532.91L382.01,532.91L381.24,532.91L380.48,532.91L379.72,532.91L378.96,532.91L378.2,532.91L377.43,532.91L376.67,532.91L375.91,532.91L375.15,532.9L374.38,532.9L373.62,532.9L372.86,532.9L372.1,532.9L371.33,532.9L370.57,532.9L369.81,532.9L369.05,532.9L368.29,532.9L367.52,532.9L366.76,532.9L366,532.9L365.24,532.9L364.47,532.9L363.71,532.9L362.95,532.9L362.19,532.9L361.42,532.9L360.66,532.9L359.9,532.9Z" fill="#ff6a6a" fill-opacity="0.7" stroke="none"/>
<path d="M359.9,531.37L360.66,531.34L361.42,531.31L362.19,531.28L362.95,531.24L363.71,531.21L364.47,531.18L365.24,531.14L366,531.1L366.76,531.07L367.52,531.03L368.29,530.99L369.05,530.94L369.81,530.9L370.57,530.86L371.33,530.81L372.1,530.76L372.86,530.71L373.62,530.66L374.38,530.61L375.15,530.55L375.91,530.5L376.67,530.44L377.43,530.38L378.2,530.31L378.96,530.25L379.72,530.18L380.48,530.11L381.24,530.03L382.01,529.95L382.77,529.87L383.53,529.79L384.29,529.7L385.06,529.6L385.82,529.5L386.58,529.4L387.34,529.28L388.11,529.16L388.87,529.04L389.63,528.9L390.39,528.76L391.15,528.6L391.92,528.44L392.68,528.26L393.44,528.07L394.2,527.86L394.97,527.64L395.73,527.4L396.49,527.13L397.25,526.85L398.02,526.54L398.78,526.2L399.54,525.83L400.3,525.43L401.06,524.99L401.83,524.51L402.59,524L403.35,523.43L404.11,522.82L404.88,522.15L405.64,521.43L406.4,520.66L407.16,519.81L407.93,518.9L408.69,517.93L409.45,516.88L410.21,515.75L410.97,514.55L411.74,513.26L412.5,511.9L413.26,510.45L414.02,508.92L414.79,507.3L415.55,505.61L416.31,503.82L417.07,501.96L417.84,500.03L418.6,498.02L419.36,495.94L420.12,493.8L420.88,491.61L421.65,489.37L422.41,487.1L423.17,484.81L423.93,482.5L424.7,480.2L425.46,477.93L426.22,475.69L426.98,473.51L427.75,471.42L428.51,469.44L429.27,467.58L430.03,465.89L430.79,464.37L431.56,463.07L432.32,461.99L433.08,461.16L433.84,460.61L434.61,460.33L435.37,460.33L436.13,460.63L436.89,461.21L437.66,462.07L438.42,463.19L439.18,464.56L439.94,466.14L440.71,467.93L441.47,469.88L442.23,471.99L442.99,474.21L443.75,476.54L444.52,478.93L445.28,481.37L446.04,483.85L446.8,486.34L447.57,488.82L448.33,491.28L449.09,493.71L449.85,496.09L450.62,498.42L451.38,500.69L452.14,502.88L452.9,505L453.66,507.04L454.43,509L455.19,510.87L455.95,512.65L456.71,514.34L457.48,515.94L458.24,517.45L459,518.88L459.76,520.22L460.53,521.47L461.29,522.64L462.05,523.73L462.81,524.75L463.57,525.69L464.34,526.57L465.1,527.38L465.86,528.13L466.62,528.82L467.39,529.45L468.15,530.04L468.91,530.58L469.67,531.07L470.44,531.52L471.2,531.94L471.96,532.33L472.72,532.68L473.48,533L474.25,533.3L475.01,533.57L475.77,533.83L476.53,534.06L477.3,534.27L478.06,534.47L478.82,534.66L479.58,534.83L480.35,534.99L481.11,535.14L481.87,535.28L482.63,535.41L483.39,535.54L484.16,535.65L484.92,535.76L485.68,535.87L486.44,535.97L487.21,536.06L487.97,536.15L488.73,536.23L489.49,536.31L490.26,536.39L491.02,536.46L491.78,536.53L492.54,536.6L493.3,536.67L494.07,536.73L494.83,536.79L495.59,536.85L496.35,536.9L497.12,536.96L497.88,537.01L498.64,537.06L499.4,537.11L500.17,537.15L500.93,537.2L501.69,537.24L502.45,537.29L503.21,537.33L503.98,537.37L504.74,537.4L505.5,537.44L506.26,537.48L507.03,537.51L507.79,537.55L508.55,537.58L509.31,537.61L510.08,537.64L510.84,537.67L511.6,537.7L511.6,539.2L510.84,539.2L510.08,539.2L509.31,539.2L508.55,539.2L507.79,539.2L507.03,539.2L506.26,539.2L505.5,539.2L504.74,539.2L503.98,539.19L503.21,539.19L502.45,539.19L501.69,539.19L500.93,539.19L500.17,539.19L499.4,539.19L498.64,539.19L497.88,539.19L497.12,539.19L496.35,539.19L495.59,539.19L494.83,539.19L494.07,539.18L493.3,539.18L492.54,539.18L491.78,539.18L491.02,539.18L490.26,539.18L489.49,539.17L488.73,539.17L487.97,539.17L487.21,539.17L486.44,539.16L485.68,539.16L484.92,539.16L484.16,539.15L483.39,539.15L482.63,539.15L481.87,539.14L481.11,539.14L480.35,539.13L479.58,539.12L478.82,539.12L478.06,539.11L477.3,539.1L476.53,539.09L475.77,539.08L475.01,539.07L474.25,539.06L473.48,539.05L472.72,539.04L471.96,539.02L471.2,539.01L470.44,538.99L469.67,538.98L468.91,538.96L468.15,538.94L467.39,538.91L466.62,538.89L465.86,538.86L465.1,538.84L464.34,538.8L463.57,538.77L462.81,538.74L462.05,538.7L461.29,538.66L460.53,538.62L459.76,538.57L459,538.52L458.24,538.47L457.48,538.41L456.71,538.35L455.95,538.28L455.19,538.22L454.43,538.14L453.66,538.07L452.9,537.99L452.14,537.9L451.38,537.81L450.62,537.72L449.85,537.62L449.09,537.52L448.33,537.41L447.57,537.3L446.8,537.19L446.04,537.07L445.28,536.95L444.52,536.82L443.75,536.7L442.99,536.57L442.23,536.44L441.47,536.31L440.71,536.17L439.94,536.04L439.18,535.91L438.42,535.77L437.66,535.64L436.89,535.51L436.13,535.38L435.37,535.26L434.61,535.13L433.84,535.01L433.08,534.9L432.32,534.78L431.56,534.67L430.79,534.57L430.03,534.46L429.27,534.37L428.51,534.27L427.75,534.19L426.98,534.1L426.22,534.02L425.46,533.94L424.7,533.87L423.93,533.81L423.17,533.74L422.41,533.68L421.65,533.63L420.88,533.57L420.12,533.52L419.36,533.48L418.6,533.43L417.84,533.39L417.07,533.36L416.31,533.32L415.55,533.29L414.79,533.26L414.02,533.23L413.26,533.21L412.5,533.18L411.74,533.16L410.97,533.14L410.21,533.12L409.45,533.1L408.69,533.09L407.93,533.07L407.16,533.06L406.4,533.05L405.64,533.04L404.88,533.02L404.11,533.01L403.35,533.01L402.59,533L401.83,532.99L401.06,532.98L400.3,532.98L399.54,532.97L398.78,532.96L398.02,532.96L397.25,532.95L396.49,532.95L395.73,532.95L394.97,532.94L394.2,532.94L393.44,532.94L392.68,532.93L391.92,532.93L391.15,532.93L390.39,532.93L389.63,532.92L388.87,532.92L388.11,532.92L387.34,532.92L386.58,532.92L385.82,532.92L385.06,532.91L384.29,532.91L383.53,532.91L382.77,532.91L382.01,532.91L381.24,532.91L380.48,532.91L379.72,532.91L378.96,532.91L378.2,532.91L377.43,532.91L376.67,532.91L375.91,532.91L375.15,532.9L374.38,532.9L373.62,532.9L372.86,532.9L372.1,532.9L371.33,532.9L370.57,532.9L369.81,532.9L369.05,532.9L368.29,532.9L367.52,532.9L366.76,532.9L366,532.9L365.24,532.9L364.47,532.9L363.71,532.9L362.95,532.9L362.19,532.9L361.42,532.9L360.66,532.9L359.9,532.9Z" fill="#ee9a50" fill-opacity="0.62" stroke="none"/>
<path d="M359.9,531.37L360.66,531.34L361.42,531.31L362.19,531.28L362.95,531.24L363.71,531.21L364.47,531.18L365.24,531.14L366,531.1L366.76,531.07L367.52,531.03L368.29,530.99L369.05,530.94L369.81,530.9L370.57,530.86L371.33,530.81L372.1,530.76L372.86,530.71L373.62,530.66L374.38,530.61L375.15,530.55L375.91,530.5L376.67,530.44L377.43,530.38L378.2,530.31L378.96,530.25L379.72,530.18L380.48,530.11L381.24,530.03L382.01,529.95L382.77,529.87L383.53,529.79L384.29,529.7L385.06,529.6L385.82,529.5L386.58,529.4L387.34,529.28L388.11,529.16L388.87,529.04L389.63,528.9L390.39,528.76L391.15,528.6L391.92,528.44L392.68,528.26L393.44,528.07L394.2,527.86L394.97,527.64L395.73,527.4L396.49,527.13L397.25,526.85L398.02,526.54L398.78,526.2L399.54,525.83L400.3,525.43L401.06,524.99L401.83,524.51L402.59,524L403.35,523.43L404.11,522.82L404.88,522.15L405.64,521.43L406.4,520.66L407.16,519.81L407.93,518.9L408.69,517.93L409.45,516.88L410.21,515.75L410.97,514.55L411.74,513.26L412.5,511.9L413.26,510.45L414.02,508.92L414.79,507.3L415.55,505.61L416.31,503.82L417.07,501.96L417.84,500.03L418.6,498.02L419.36,495.94L420.12,493.8L420.88,491.61L421.65,489.37L422.41,487.1L423.17,484.81L423.93,482.5L424.7,480.2L425.46,477.93L426.22,475.69L426.98,473.51L427.75,471.42L428.51,469.44L429.27,467.58L430.03,465.89L430.79,464.37L431.56,463.07L432.32,461.99L433.08,461.16L433.84,460.61L434.61,460.33L435.37,460.33L436.13,460.63L436.89,461.21L437.66,462.07L438.42,463.19L439.18,464.56L439.94,466.14L440.71,467.93L441.47,469.88L442.23,471.99L442.99,474.21L443.75,476.54L444.52,478.93L445.28,481.37L446.04,483.85L446.8,486.34L447.57,488.82L448.33,491.28L449.09,493.71L449.85,496.09L450.62,498.42L451.38,500.69L452.14,502.88L452.9,505L453.66,507.04L454.43,509L455.19,510.87L455.95,512.65L456.71,514.34L457.48,515.94L458.24,517.45L459,518.88L459.76,520.22L460.53,521.47L461.29,522.64L462.05,523.73L462.81,524.75L463.57,525.69L464.34,526.57L465.1,527.38L465.86,528.13L466.62,528.82L467.39,529.45L468.15,530.04L468.91,530.58L469.67,531.07L470.44,531.52L471.2,531.94L471.96,532.33L472.72,532.68L473.48,533L474.25,533.3L475.01,533.57L475.77,533.83L476.53,534.06L477.3,534.27L478.06,534.47L478.82,534.66L479.58,534.83L480.35,534.99L481.11,535.14L481.87,535.28L482.63,535.41L483.39,535.54L484.16,535.65L484.92,535.76L485.68,535.87L486.44,535.97L487.21,536.06L487.97,536.15L488.73,536.23L489.49,536.31L490.26,536.39L491.02,536.46L491.78,536.53L492.54,536.6L493.3,536.67L494.07,536.73L494.83,536.79L495.59,536.85L496.35,536.9L497.12,536.96L497.88,537.01L498.64,537.06L499.4,537.11L500.17,537.15L500.93,537.2L501.69,537.24L502.45,537.29L503.21,537.33L503.98,537.37L504.74,537.4L505.5,537.44L506.26,537.48L507.03,537.51L507.79,537.55L508.55,537.58L509.31,537.61L510.08,537.64L510.84,537.67L511.6,537.7" fill="none" stroke="#ff2a2a" stroke-width="1.0"/>
<path d="M359.9,532.9L360.66,532.9L361.42,532.9L362.19,532.9L362.95,532.9L363.71,532.9L364.47,532.9L365.24,532.9L366,532.9L366.76,532.9L367.52,532.9L368.29,532.9L369.05,532.9L369.81,532.9L370.57,532.9L371.33,532.9L372.1,532.9L372.86,532.9L373.62,532.9L374.38,532.9L375.15,532.9L375.91,532.91L376.67,532.91L377.43,532.91L378.2,532.91L378.96,532.91L379.72,532.91L380.48,532.91L381.24,532.91L382.01,532.91L382.77,532.91L383.53,532.91L384.29,532.91L385.06,532.91L385.82,532.92L386.58,532.92L387.34,532.92L388.11,532.92L388.87,532.92L389.63,532.92L390.39,532.93L391.15,532.93L391.92,532.93L392.68,532.93L393.44,532.94L394.2,532.94L394.97,532.94L395.73,532.95L396.49,532.95L397.25,532.95L398.02,532.96L398.78,532.96L399.54,532.97L400.3,532.98L401.06,532.98L401.83,532.99L402.59,533L403.35,533.01L404.11,533.01L404.88,533.02L405.64,533.04L406.4,533.05L407.16,533.06L407.93,533.07L408.69,533.09L409.45,533.1L410.21,533.12L410.97,533.14L411.74,533.16L412.5,533.18L413.26,533.21L414.02,533.23L414.79,533.26L415.55,533.29L416.31,533.32L417.07,533.36L417.84,533.39L418.6,533.43L419.36,533.48L420.12,533.52L420.88,533.57L421.65,533.63L422.41,533.68L423.17,533.74L423.93,533.81L424.7,533.87L425.46,533.94L426.22,534.02L426.98,534.1L427.75,534.19L428.51,534.27L429.27,534.37L430.03,534.46L430.79,534.57L431.56,534.67L432.32,534.78L433.08,534.9L433.84,535.01L434.61,535.13L435.37,535.26L436.13,535.38L436.89,535.51L437.66,535.64L438.42,535.77L439.18,535.91L439.94,536.04L440.71,536.17L441.47,536.31L442.23,536.44L442.99,536.57L443.75,536.7L444.52,536.82L445.28,536.95L446.04,537.07L446.8,537.19L447.57,537.3L448.33,537.41L449.09,537.52L449.85,537.62L450.62,537.72L451.38,537.81L452.14,537.9L452.9,537.99L453.66,538.07L454.43,538.14L455.19,538.22L455.95,538.28L456.71,538.35L457.48,538.41L458.24,538.47L459,538.52L459.76,538.57L460.53,538.62L461.29,538.66L462.05,538.7L462.81,538.74L463.57,538.77L464.34,538.8L465.1,538.84L465.86,538.86L466.62,538.89L467.39,538.91L468.15,538.94L468.91,538.96L469.67,538.98L470.44,538.99L471.2,539.01L471.96,539.02L472.72,539.04L473.48,539.05L474.25,539.06L475.01,539.07L475.77,539.08L476.53,539.09L477.3,539.1L478.06,539.11L478.82,539.12L479.58,539.12L480.35,539.13L481.11,539.14L481.87,539.14L482.63,539.15L483.39,539.15L484.16,539.15L484.92,539.16L485.68,539.16L486.44,539.16L487.21,539.17L487.97,539.17L488.73,539.17L489.49,539.17L490.26,539.18L491.02,539.18L491.78,539.18L492.54,539.18L493.3,539.18L494.07,539.18L494.83,539.19L495.59,539.19L496.35,539.19L497.12,539.19L497.88,539.19L498.64,539.19L499.4,539.19L500.17,539.19L500.93,539.19L501.69,539.19L502.45,539.19L503.21,539.19L503.98,539.19L504.74,539.2L505.5,539.2L506.26,539.2L507.03,539.2L507.79,539.2L508.55,539.2L509.31,539.2L510.08,539.2L510.84,539.2L511.6,539.2" fill="none" stroke="#ff10ff" stroke-width="1.1"/>
<path d="M359.9,531.31L360.66,531.27L361.42,531.24L362.19,531.21L362.95,531.18L363.71,531.14L364.47,531.11L365.24,531.07L366,531.03L366.76,530.99L367.52,530.95L368.29,530.91L369.05,530.87L369.81,530.83L370.57,530.78L371.33,530.73L372.1,530.68L372.86,530.63L373.62,530.58L374.38,530.52L375.15,530.46L375.91,530.4L376.67,530.34L377.43,530.27L378.2,530.2L378.96,530.12L379.72,530.04L380.48,529.95L381.24,529.86L382.01,529.76L382.77,529.64L383.53,529.52L384.29,529.38L385.06,529.22L385.82,529.04L386.58,528.84L387.34,528.62L388.11,528.36L388.87,528.06L389.63,527.72L390.39,527.33L391.15,526.88L391.92,526.37L392.68,525.79L393.44,525.12L394.2,524.35L394.97,523.48L395.73,522.5L396.49,521.38L397.25,520.13L398.02,518.73L398.78,517.18L399.54,515.45L400.3,513.55L401.06,511.46L401.83,509.19L402.59,506.73L403.35,504.08L404.11,501.25L404.88,498.24L405.64,495.06L406.4,491.73L407.16,488.26L407.93,484.68L408.69,481L409.45,477.26L410.21,473.48L410.97,469.69L411.74,465.94L412.5,462.24L413.26,458.65L414.02,455.17L414.79,451.86L415.55,448.74L416.31,445.83L417.07,443.15L417.84,440.74L418.6,438.59L419.36,436.73L420.12,435.15L420.88,433.86L421.65,432.85L422.41,432.12L423.17,431.65L423.93,431.43L424.7,431.45L425.46,431.69L426.22,432.12L426.98,432.73L427.75,433.5L428.51,434.41L429.27,435.46L430.03,436.62L430.79,437.89L431.56,439.26L432.32,440.73L433.08,442.28L433.84,443.93L434.61,445.66L435.37,447.47L436.13,449.37L436.89,451.36L437.66,453.42L438.42,455.56L439.18,457.77L439.94,460.04L440.71,462.37L441.47,464.74L442.23,467.16L442.99,469.61L443.75,472.07L444.52,474.55L445.28,477.03L446.04,479.5L446.8,481.96L447.57,484.39L448.33,486.8L449.09,489.17L449.85,491.5L450.62,493.78L451.38,496.01L452.14,498.18L452.9,500.3L453.66,502.35L454.43,504.33L455.19,506.25L455.95,508.09L456.71,509.87L457.48,511.56L458.24,513.19L459,514.73L459.76,516.21L460.53,517.61L461.29,518.93L462.05,520.18L462.81,521.36L463.57,522.47L464.34,523.52L465.1,524.5L465.86,525.41L466.62,526.27L467.39,527.07L468.15,527.81L468.91,528.5L469.67,529.14L470.44,529.73L471.2,530.28L471.96,530.79L472.72,531.26L473.48,531.7L474.25,532.1L475.01,532.47L475.77,532.81L476.53,533.13L477.3,533.42L478.06,533.69L478.82,533.93L479.58,534.16L480.35,534.38L481.11,534.57L481.87,534.76L482.63,534.93L483.39,535.08L484.16,535.23L484.92,535.37L485.68,535.5L486.44,535.62L487.21,535.73L487.97,535.84L488.73,535.94L489.49,536.04L490.26,536.13L491.02,536.21L491.78,536.29L492.54,536.37L493.3,536.44L494.07,536.52L494.83,536.58L495.59,536.65L496.35,536.71L497.12,536.77L497.88,536.83L498.64,536.88L499.4,536.93L500.17,536.99L500.93,537.03L501.69,537.08L502.45,537.13L503.21,537.17L503.98,537.22L504.74,537.26L505.5,537.3L506.26,537.34L507.03,537.37L507.79,537.41L508.55,537.45L509.31,537.48L510.08,537.52L510.84,537.55L511.6,537.58" fill="none" stroke="#f01818" stroke-width="1.4"/>
<circle cx="361.4" cy="532.16" r="1.05" fill="#a6eca6" stroke="#8ee08e" stroke-width="0.5"/>
<circle cx="364.1" cy="530.35" r="1.05" fill="#a6eca6" stroke="#8ee08e" stroke-width="0.5"/>
<circle cx="366.8" cy="531.67" r="1.05" fill="#a6eca6" stroke="#8ee08e" stroke-width="0.5"/>
<circle cx="369.5" cy="532.06" r="1.05" fill="#a6eca6" stroke="#8ee08e" stroke-width="0.5"/>
<circle cx="372.2" cy="531.14" r="1.05" fill="#a6eca6" stroke="#8ee08e" stroke-width="0.5"/>
<circle cx="374.9" cy="531.35" r="1.05" fill="#a6eca6" stroke="#8ee08e" stroke-width="0.5"/>
<circle cx="377.6" cy="529.52" r="1.05" fill="#a6eca6" stroke="#8ee08e" stroke-width="0.5"/>
<circle cx="380.3" cy="530.08" r="1.05" fill="#a6eca6" stroke="#8ee08e" stroke-width="0.5"/>
<circle cx="383" cy="529.11" r="1.05" fill="#a6eca6" stroke="#8ee08e" stroke-width="0.5"/>
<circle cx="385.7" cy="530.4" r="1.05" fill="#a6eca6" stroke="#8ee08e" stroke-width="0.5"/>
<circle cx="388.4" cy="528.53" r="1.05" fill="#a6eca6" stroke="#8ee08e" stroke-width="0.5"/>
<circle cx="391.1" cy="528.06" r="1.05" fill="#a6eca6" stroke="#8ee08e" stroke-width="0.5"/>
<circle cx="393.8" cy="527.99" r="1.05" fill="#a6eca6" stroke="#8ee08e" stroke-width="0.5"/>
<circle cx="396.5" cy="525.41" r="1.05" fill="#a6eca6" stroke="#8ee08e" stroke-width="0.5"/>
<circle cx="399.2" cy="522.2" r="1.05" fill="#a6eca6" stroke="#8ee08e" stroke-width="0.5"/>
<circle cx="401.9" cy="515.67" r="1.05" fill="#a6eca6" stroke="#8ee08e" stroke-width="0.5"/>
<circle cx="404.6" cy="508.3" r="1.05" fill="#a6eca6" stroke="#8ee08e" stroke-width="0.5"/>
<circle cx="407.3" cy="499.1" r="1.05" fill="#a6eca6" stroke="#8ee08e" stroke-width="0.5"/>
<circle cx="410" cy="486.64" r="1.05" fill="#a6eca6" stroke="#8ee08e" stroke-width="0.5"/>
<circle cx="412.7" cy="473.04" r="1.05" fill="#a6eca6" stroke="#8ee08e" stroke-width="0.5"/>
<circle cx="415.4" cy="460.11" r="1.05" fill="#a6eca6" stroke="#8ee08e" stroke-width="0.5"/>
<circle cx="418.1" cy="447.68" r="1.05" fill="#a6eca6" stroke="#8ee08e" stroke-width="0.5"/>
<circle cx="420.8" cy="439.1" r="1.05" fill="#a6eca6" stroke="#8ee08e" stroke-width="0.5"/>
<circle cx="423.5" cy="434.86" r="1.05" fill="#a6eca6" stroke="#8ee08e" stroke-width="0.5"/>
<circle cx="426.2" cy="432.58" r="1.05" fill="#a6eca6" stroke="#8ee08e" stroke-width="0.5"/>
<circle cx="428.9" cy="432.55" r="1.05" fill="#a6eca6" stroke="#8ee08e" stroke-width="0.5"/>
<circle cx="431.6" cy="435.21" r="1.05" fill="#a6eca6" stroke="#8ee08e" stroke-width="0.5"/>
<circle cx="434.3" cy="439.33" r="1.05" fill="#a6eca6" stroke="#8ee08e" stroke-width="0.5"/>
<circle cx="437" cy="444.42" r="1.05" fill="#a6eca6" stroke="#8ee08e" stroke-width="0.5"/>
<circle cx="439.7" cy="451.63" r="1.05" fill="#a6eca6" stroke="#8ee08e" stroke-width="0.5"/>
<circle cx="442.4" cy="460.59" r="1.05" fill="#a6eca6" stroke="#8ee08e" stroke-width="0.5"/>
<circle cx="445.1" cy="469.23" r="1.05" fill="#a6eca6" stroke="#8ee08e" stroke-width="0.5"/>
<circle cx="447.8" cy="476.76" r="1.05" fill="#a6eca6" stroke="#8ee08e" stroke-width="0.5"/>
<circle cx="450.5" cy="486.45" r="1.05" fill="#a6eca6" stroke="#8ee08e" stroke-width="0.5"/>
<circle cx="453.2" cy="494.69" r="1.05" fill="#a6eca6" stroke="#8ee08e" stroke-width="0.5"/>
<circle cx="455.9" cy="502.11" r="1.05" fill="#a6eca6" stroke="#8ee08e" stroke-width="0.5"/>
<circle cx="458.6" cy="508.84" r="1.05" fill="#a6eca6" stroke="#8ee08e" stroke-width="0.5"/>
<circle cx="461.3" cy="514.96" r="1.05" fill="#a6eca6" stroke="#8ee08e" stroke-width="0.5"/>
<circle cx="464" cy="518.96" r="1.05" fill="#a6eca6" stroke="#8ee08e" stroke-width="0.5"/>
<circle cx="466.7" cy="523.83" r="1.05" fill="#a6eca6" stroke="#8ee08e" stroke-width="0.5"/>
<circle cx="469.4" cy="526.04" r="1.05" fill="#a6eca6" stroke="#8ee08e" stroke-width="0.5"/>
<circle cx="472.1" cy="529.05" r="1.05" fill="#a6eca6" stroke="#8ee08e" stroke-width="0.5"/>
<circle cx="474.8" cy="531.65" r="1.05" fill="#a6eca6" stroke="#8ee08e" stroke-width="0.5"/>
<circle cx="477.5" cy="532.92" r="1.05" fill="#a6eca6" stroke="#8ee08e" stroke-width="0.5"/>
<circle cx="480.2" cy="533.07" r="1.05" fill="#a6eca6" stroke="#8ee08e" stroke-width="0.5"/>
<circle cx="482.9" cy="535.46" r="1.05" fill="#a6eca6" stroke="#8ee08e" stroke-width="0.5"/>
<circle cx="485.6" cy="535.38" r="1.05" fill="#a6eca6" stroke="#8ee08e" stroke-width="0.5"/>
<circle cx="488.3" cy="535.71" r="1.05" fill="#a6eca6" stroke="#8ee08e" stroke-width="0.5"/>
<circle cx="491" cy="534.74" r="1.05" fill="#a6eca6" stroke="#8ee08e" stroke-width="0.5"/>
<circle cx="493.7" cy="536.34" r="1.05" fill="#a6eca6" stroke="#8ee08e" stroke-width="0.5"/>
<circle cx="496.4" cy="535.9" r="1.05" fill="#a6eca6" stroke="#8ee08e" stroke-width="0.5"/>
<circle cx="499.1" cy="537.14" r="1.05" fill="#a6eca6" stroke="#8ee08e" stroke-width="0.5"/>
<circle cx="501.8" cy="536.84" r="1.05" fill="#a6eca6" stroke="#8ee08e" stroke-width="0.5"/>
<circle cx="504.5" cy="537.86" r="1.05" fill="#a6eca6" stroke="#8ee08e" stroke-width="0.5"/>
<circle cx="507.2" cy="537.61" r="1.05" fill="#a6eca6" stroke="#8ee08e" stroke-width="0.5"/>
<circle cx="509.9" cy="538.11" r="1.05" fill="#a6eca6" stroke="#8ee08e" stroke-width="0.5"/>
</g>
<rect x="359.9" y="420.5" width="151.7" height="121.9" fill="none" stroke="#000" stroke-width="1.3"/>
<line x1="359.9" y1="542.4" x2="359.9" y2="544.8" stroke="#000" stroke-width="1"/>
<text x="359.9" y="552.6" font-size="8.4" text-anchor="middle" font-weight="normal" fill="#000" >490</text>
<line x1="381.57" y1="542.4" x2="381.57" y2="544" stroke="#000" stroke-width="1"/>
<line x1="403.24" y1="542.4" x2="403.24" y2="544.8" stroke="#000" stroke-width="1"/>
<text x="403.24" y="552.6" font-size="8.4" text-anchor="middle" font-weight="normal" fill="#000" >488</text>
<line x1="424.91" y1="542.4" x2="424.91" y2="544" stroke="#000" stroke-width="1"/>
<line x1="446.59" y1="542.4" x2="446.59" y2="544.8" stroke="#000" stroke-width="1"/>
<text x="446.59" y="552.6" font-size="8.4" text-anchor="middle" font-weight="normal" fill="#000" >486</text>
<line x1="468.26" y1="542.4" x2="468.26" y2="544" stroke="#000" stroke-width="1"/>
<line x1="489.93" y1="542.4" x2="489.93" y2="544.8" stroke="#000" stroke-width="1"/>
<text x="489.93" y="552.6" font-size="8.4" text-anchor="middle" font-weight="normal" fill="#000" >484</text>
<line x1="511.6" y1="542.4" x2="511.6" y2="544" stroke="#000" stroke-width="1"/>
<text x="440.5" y="563.2" font-size="9.1" text-anchor="middle" font-weight="normal" fill="#000" >Binding energy (eV)</text>
<text transform="translate(352.2,475.3) rotate(-90)" font-size="9.5" text-anchor="middle">Intensity (a.u.)</text>
<text x="365.4" y="433.9" font-size="9" text-anchor="start" font-weight="normal" fill="#000" >EBT</text>
<circle cx="453.4" cy="425.9" r="1.3" fill="#b4f0b4" stroke="#9be89b" stroke-width="0.6"/>
<line x1="446.2" y1="435.2" x2="460.6" y2="435.2" stroke="#f01818" stroke-width="1.3"/>
<line x1="446.2" y1="444.3" x2="460.6" y2="444.3" stroke="#ff10ff" stroke-width="1.3"/>
<rect x="446.2" y="451.4" width="14.4" height="6.9" fill="#f5bd8c" stroke="#c8a080" stroke-width="0.6"/>
<rect x="446.2" y="461.6" width="14.4" height="7" fill="#ff9494" stroke="#c08080" stroke-width="0.6"/>
<text x="463" y="428.5" font-size="7.4" text-anchor="start" font-weight="normal" fill="#000" >Raw date</text>
<text x="463" y="437.8" font-size="7.4" text-anchor="start" font-weight="normal" fill="#000" >Peak sum</text>
<text x="463" y="446.9" font-size="7.4" text-anchor="start" font-weight="normal" fill="#000" >Background</text>
<text x="463" y="457.45" font-size="7.4">Sn<tspan font-size="5" dy="-3">2+</tspan></text>
<text x="463" y="467.7" font-size="7.4">Sn<tspan font-size="5" dy="-3">4+</tspan></text>
<g clip-path="url(#clipXMEBT)">
<path d="M531.4,533.87L532.16,533.87L532.93,533.86L533.69,533.86L534.46,533.86L535.22,533.85L535.99,533.85L536.75,533.85L537.52,533.85L538.28,533.84L539.05,533.84L539.81,533.83L540.58,533.83L541.34,533.83L542.11,533.82L542.87,533.82L543.64,533.81L544.4,533.81L545.17,533.8L545.93,533.8L546.7,533.79L547.46,533.78L548.23,533.78L548.99,533.77L549.76,533.76L550.52,533.75L551.29,533.74L552.05,533.72L552.82,533.71L553.58,533.69L554.34,533.67L555.11,533.64L555.87,533.62L556.64,533.58L557.4,533.55L558.17,533.51L558.93,533.46L559.7,533.4L560.46,533.34L561.23,533.27L561.99,533.18L562.76,533.09L563.52,532.98L564.29,532.85L565.05,532.71L565.82,532.55L566.58,532.37L567.35,532.17L568.11,531.94L568.88,531.68L569.64,531.39L570.41,531.07L571.17,530.71L571.94,530.31L572.7,529.87L573.47,529.38L574.23,528.85L574.99,528.26L575.76,527.62L576.52,526.92L577.29,526.16L578.05,525.34L578.82,524.45L579.58,523.5L580.35,522.48L581.11,521.39L581.88,520.23L582.64,519L583.41,517.7L584.17,516.33L584.94,514.9L585.7,513.4L586.47,511.84L587.23,510.22L588,508.56L588.76,506.84L589.53,505.09L590.29,503.31L591.06,501.5L591.82,499.68L592.59,497.85L593.35,496.03L594.12,494.22L594.88,492.44L595.65,490.69L596.41,489L597.17,487.36L597.94,485.8L598.7,484.32L599.47,482.94L600.23,481.66L601,480.51L601.76,479.48L602.53,478.58L603.29,477.83L604.06,477.24L604.82,476.79L605.59,476.52L606.35,476.4L607.12,476.46L607.88,476.68L608.65,477.06L609.41,477.61L610.18,478.32L610.94,479.18L611.71,480.19L612.47,481.33L613.24,482.6L614,483.99L614.77,485.49L615.53,487.09L616.3,488.77L617.06,490.52L617.83,492.34L618.59,494.21L619.35,496.11L620.12,498.04L620.88,499.99L621.65,501.94L622.41,503.89L623.18,505.82L623.94,507.72L624.71,509.59L625.47,511.43L626.24,513.21L627,514.94L627.77,516.61L628.53,518.22L629.3,519.77L630.06,521.24L630.83,522.64L631.59,523.97L632.36,525.23L633.12,526.41L633.89,527.52L634.65,528.56L635.42,529.53L636.18,530.43L636.95,531.26L637.71,532.03L638.48,532.73L639.24,533.38L640.01,533.97L640.77,534.51L641.53,535L642.3,535.44L643.06,535.85L643.83,536.21L644.59,536.53L645.36,536.82L646.12,537.08L646.89,537.31L647.65,537.52L648.42,537.7L649.18,537.87L649.95,538.01L650.71,538.13L651.48,538.25L652.24,538.34L653.01,538.43L653.77,538.5L654.54,538.57L655.3,538.63L656.07,538.67L656.83,538.72L657.6,538.76L658.36,538.79L659.13,538.82L659.89,538.84L660.66,538.87L661.42,538.89L662.18,538.9L662.95,538.92L663.71,538.93L664.48,538.94L665.24,538.95L666.01,538.96L666.77,538.97L667.54,538.98L668.3,538.99L669.07,538.99L669.83,539L670.6,539.01L671.36,539.01L672.13,539.02L672.89,539.02L673.66,539.03L674.42,539.03L675.19,539.03L675.95,539.04L676.72,539.04L677.48,539.05L678.25,539.05L679.01,539.05L679.78,539.05L680.54,539.06L681.31,539.06L682.07,539.06L682.84,539.07L683.6,539.07L683.6,539.2L682.84,539.2L682.07,539.2L681.31,539.2L680.54,539.2L679.78,539.2L679.01,539.2L678.25,539.2L677.48,539.2L676.72,539.2L675.95,539.2L675.19,539.2L674.42,539.2L673.66,539.2L672.89,539.2L672.13,539.2L671.36,539.2L670.6,539.2L669.83,539.2L669.07,539.2L668.3,539.2L667.54,539.2L666.77,539.19L666.01,539.19L665.24,539.19L664.48,539.19L663.71,539.19L662.95,539.19L662.18,539.19L661.42,539.19L660.66,539.19L659.89,539.19L659.13,539.19L658.36,539.19L657.6,539.18L656.83,539.18L656.07,539.18L655.3,539.18L654.54,539.18L653.77,539.18L653.01,539.18L652.24,539.17L651.48,539.17L650.71,539.17L649.95,539.16L649.18,539.16L648.42,539.16L647.65,539.15L646.89,539.15L646.12,539.15L645.36,539.14L644.59,539.14L643.83,539.13L643.06,539.13L642.3,539.12L641.53,539.11L640.77,539.1L640.01,539.1L639.24,539.09L638.48,539.08L637.71,539.07L636.95,539.05L636.18,539.04L635.42,539.03L634.65,539.01L633.89,539L633.12,538.98L632.36,538.96L631.59,538.94L630.83,538.92L630.06,538.9L629.3,538.87L628.53,538.85L627.77,538.82L627,538.78L626.24,538.75L625.47,538.72L624.71,538.68L623.94,538.64L623.18,538.59L622.41,538.54L621.65,538.49L620.88,538.44L620.12,538.38L619.35,538.32L618.59,538.26L617.83,538.19L617.06,538.12L616.3,538.05L615.53,537.97L614.77,537.89L614,537.8L613.24,537.71L612.47,537.62L611.71,537.53L610.94,537.43L610.18,537.33L609.41,537.22L608.65,537.12L607.88,537.01L607.12,536.9L606.35,536.8L605.59,536.68L604.82,536.57L604.06,536.46L603.29,536.35L602.53,536.25L601.76,536.14L601,536.03L600.23,535.93L599.47,535.83L598.7,535.73L597.94,535.63L597.17,535.54L596.41,535.45L595.65,535.36L594.88,535.28L594.12,535.2L593.35,535.12L592.59,535.05L591.82,534.98L591.06,534.91L590.29,534.85L589.53,534.79L588.76,534.73L588,534.68L587.23,534.63L586.47,534.59L585.7,534.55L584.94,534.51L584.17,534.47L583.41,534.43L582.64,534.4L581.88,534.37L581.11,534.34L580.35,534.32L579.58,534.29L578.82,534.27L578.05,534.25L577.29,534.23L576.52,534.21L575.76,534.19L574.99,534.18L574.23,534.16L573.47,534.15L572.7,534.14L571.94,534.13L571.17,534.12L570.41,534.11L569.64,534.1L568.88,534.09L568.11,534.08L567.35,534.08L566.58,534.07L565.82,534.07L565.05,534.06L564.29,534.06L563.52,534.05L562.76,534.05L561.99,534.04L561.23,534.04L560.46,534.04L559.7,534.03L558.93,534.03L558.17,534.03L557.4,534.03L556.64,534.02L555.87,534.02L555.11,534.02L554.34,534.02L553.58,534.02L552.82,534.02L552.05,534.01L551.29,534.01L550.52,534.01L549.76,534.01L548.99,534.01L548.23,534.01L547.46,534.01L546.7,534.01L545.93,534.01L545.17,534.01L544.4,534.01L543.64,534.01L542.87,534.01L542.11,534L541.34,534L540.58,534L539.81,534L539.05,534L538.28,534L537.52,534L536.75,534L535.99,534L535.22,534L534.46,534L533.69,534L532.93,534L532.16,534L531.4,534Z" fill="#f0a050" fill-opacity="0.6" stroke="none"/>
<path d="M531.4,533.87L532.16,533.87L532.93,533.86L533.69,533.86L534.46,533.86L535.22,533.85L535.99,533.85L536.75,533.85L537.52,533.85L538.28,533.84L539.05,533.84L539.81,533.83L540.58,533.83L541.34,533.83L542.11,533.82L542.87,533.82L543.64,533.81L544.4,533.81L545.17,533.8L545.93,533.8L546.7,533.79L547.46,533.78L548.23,533.78L548.99,533.77L549.76,533.76L550.52,533.75L551.29,533.74L552.05,533.72L552.82,533.71L553.58,533.69L554.34,533.67L555.11,533.64L555.87,533.62L556.64,533.58L557.4,533.55L558.17,533.51L558.93,533.46L559.7,533.4L560.46,533.34L561.23,533.27L561.99,533.18L562.76,533.09L563.52,532.98L564.29,532.85L565.05,532.71L565.82,532.55L566.58,532.37L567.35,532.17L568.11,531.94L568.88,531.68L569.64,531.39L570.41,531.07L571.17,530.71L571.94,530.31L572.7,529.87L573.47,529.38L574.23,528.85L574.99,528.26L575.76,527.62L576.52,526.92L577.29,526.16L578.05,525.34L578.82,524.45L579.58,523.5L580.35,522.48L581.11,521.39L581.88,520.23L582.64,519L583.41,517.7L584.17,516.33L584.94,514.9L585.7,513.4L586.47,511.84L587.23,510.22L588,508.56L588.76,506.84L589.53,505.09L590.29,503.31L591.06,501.5L591.82,499.68L592.59,497.85L593.35,496.03L594.12,494.22L594.88,492.44L595.65,490.69L596.41,489L597.17,487.36L597.94,485.8L598.7,484.32L599.47,482.94L600.23,481.66L601,480.51L601.76,479.48L602.53,478.58L603.29,477.83L604.06,477.24L604.82,476.79L605.59,476.52L606.35,476.4L607.12,476.46L607.88,476.68L608.65,477.06L609.41,477.61L610.18,478.32L610.94,479.18L611.71,480.19L612.47,481.33L613.24,482.6L614,483.99L614.77,485.49L615.53,487.09L616.3,488.77L617.06,490.52L617.83,492.34L618.59,494.21L619.35,496.11L620.12,498.04L620.88,499.99L621.65,501.94L622.41,503.89L623.18,505.82L623.94,507.72L624.71,509.59L625.47,511.43L626.24,513.21L627,514.94L627.77,516.61L628.53,518.22L629.3,519.77L630.06,521.24L630.83,522.64L631.59,523.97L632.36,525.23L633.12,526.41L633.89,527.52L634.65,528.56L635.42,529.53L636.18,530.43L636.95,531.26L637.71,532.03L638.48,532.73L639.24,533.38L640.01,533.97L640.77,534.51L641.53,535L642.3,535.44L643.06,535.85L643.83,536.21L644.59,536.53L645.36,536.82L646.12,537.08L646.89,537.31L647.65,537.52L648.42,537.7L649.18,537.87L649.95,538.01L650.71,538.13L651.48,538.25L652.24,538.34L653.01,538.43L653.77,538.5L654.54,538.57L655.3,538.63L656.07,538.67L656.83,538.72L657.6,538.76L658.36,538.79L659.13,538.82L659.89,538.84L660.66,538.87L661.42,538.89L662.18,538.9L662.95,538.92L663.71,538.93L664.48,538.94L665.24,538.95L666.01,538.96L666.77,538.97L667.54,538.98L668.3,538.99L669.07,538.99L669.83,539L670.6,539.01L671.36,539.01L672.13,539.02L672.89,539.02L673.66,539.03L674.42,539.03L675.19,539.03L675.95,539.04L676.72,539.04L677.48,539.05L678.25,539.05L679.01,539.05L679.78,539.05L680.54,539.06L681.31,539.06L682.07,539.06L682.84,539.07L683.6,539.07" fill="none" stroke="#f03030" stroke-width="1.1"/>
<path d="M531.4,533.87L532.16,533.87L532.93,533.86L533.69,533.86L534.46,533.86L535.22,533.85L535.99,533.85L536.75,533.84L537.52,533.84L538.28,533.83L539.05,533.83L539.81,533.82L540.58,533.82L541.34,533.81L542.11,533.81L542.87,533.8L543.64,533.79L544.4,533.78L545.17,533.77L545.93,533.76L546.7,533.75L547.46,533.74L548.23,533.72L548.99,533.7L549.76,533.68L550.52,533.65L551.29,533.62L552.05,533.58L552.82,533.54L553.58,533.48L554.34,533.42L555.11,533.33L555.87,533.24L556.64,533.12L557.4,532.98L558.17,532.81L558.93,532.61L559.7,532.37L560.46,532.09L561.23,531.77L561.99,531.38L562.76,530.94L563.52,530.42L564.29,529.83L565.05,529.16L565.82,528.39L566.58,527.53L567.35,526.56L568.11,525.48L568.88,524.29L569.64,522.98L570.41,521.54L571.17,519.99L571.94,518.31L572.7,516.52L573.47,514.61L574.23,512.61L574.99,510.51L575.76,508.34L576.52,506.11L577.29,503.83L578.05,501.54L578.82,499.26L579.58,497.01L580.35,494.81L581.11,492.7L581.88,490.71L582.64,488.86L583.41,487.18L584.17,485.7L584.94,484.45L585.7,483.44L586.47,482.69L587.23,482.22L588,482.04L588.76,482.15L589.53,482.55L590.29,483.23L591.06,484.19L591.82,485.41L592.59,486.86L593.35,488.53L594.12,490.38L594.88,492.4L595.65,494.56L596.41,496.82L597.17,499.15L597.94,501.54L598.7,503.94L599.47,506.35L600.23,508.73L601,511.06L601.76,513.32L602.53,515.5L603.29,517.59L604.06,519.57L604.82,521.44L605.59,523.19L606.35,524.82L607.12,526.32L607.88,527.7L608.65,528.97L609.41,530.11L610.18,531.15L610.94,532.08L611.71,532.91L612.47,533.65L613.24,534.3L614,534.88L614.77,535.39L615.53,535.83L616.3,536.22L617.06,536.56L617.83,536.86L618.59,537.11L619.35,537.34L620.12,537.53L620.88,537.7L621.65,537.84L622.41,537.97L623.18,538.08L623.94,538.18L624.71,538.26L625.47,538.34L626.24,538.4L627,538.46L627.77,538.52L628.53,538.56L629.3,538.61L630.06,538.65L630.83,538.68L631.59,538.71L632.36,538.74L633.12,538.77L633.89,538.79L634.65,538.82L635.42,538.84L636.18,538.86L636.95,538.88L637.71,538.89L638.48,538.91L639.24,538.92L640.01,538.94L640.77,538.95L641.53,538.96L642.3,538.97L643.06,538.98L643.83,538.99L644.59,539L645.36,539.01L646.12,539.02L646.89,539.03L647.65,539.03L648.42,539.04L649.18,539.05L649.95,539.05L650.71,539.06L651.48,539.06L652.24,539.07L653.01,539.07L653.77,539.08L654.54,539.08L655.3,539.08L656.07,539.09L656.83,539.09L657.6,539.09L658.36,539.1L659.13,539.1L659.89,539.1L660.66,539.11L661.42,539.11L662.18,539.11L662.95,539.11L663.71,539.12L664.48,539.12L665.24,539.12L666.01,539.12L666.77,539.12L667.54,539.13L668.3,539.13L669.07,539.13L669.83,539.13L670.6,539.13L671.36,539.13L672.13,539.13L672.89,539.14L673.66,539.14L674.42,539.14L675.19,539.14L675.95,539.14L676.72,539.14L677.48,539.14L678.25,539.14L679.01,539.15L679.78,539.15L680.54,539.15L681.31,539.15L682.07,539.15L682.84,539.15L683.6,539.15L683.6,539.2L682.84,539.2L682.07,539.2L681.31,539.2L680.54,539.2L679.78,539.2L679.01,539.2L678.25,539.2L677.48,539.2L676.72,539.2L675.95,539.2L675.19,539.2L674.42,539.2L673.66,539.2L672.89,539.2L672.13,539.2L671.36,539.2L670.6,539.2L669.83,539.2L669.07,539.2L668.3,539.2L667.54,539.2L666.77,539.19L666.01,539.19L665.24,539.19L664.48,539.19L663.71,539.19L662.95,539.19L662.18,539.19L661.42,539.19L660.66,539.19L659.89,539.19L659.13,539.19L658.36,539.19L657.6,539.18L656.83,539.18L656.07,539.18L655.3,539.18L654.54,539.18L653.77,539.18L653.01,539.18L652.24,539.17L651.48,539.17L650.71,539.17L649.95,539.16L649.18,539.16L648.42,539.16L647.65,539.15L646.89,539.15L646.12,539.15L645.36,539.14L644.59,539.14L643.83,539.13L643.06,539.13L642.3,539.12L641.53,539.11L640.77,539.1L640.01,539.1L639.24,539.09L638.48,539.08L637.71,539.07L636.95,539.05L636.18,539.04L635.42,539.03L634.65,539.01L633.89,539L633.12,538.98L632.36,538.96L631.59,538.94L630.83,538.92L630.06,538.9L629.3,538.87L628.53,538.85L627.77,538.82L627,538.78L626.24,538.75L625.47,538.72L624.71,538.68L623.94,538.64L623.18,538.59L622.41,538.54L621.65,538.49L620.88,538.44L620.12,538.38L619.35,538.32L618.59,538.26L617.83,538.19L617.06,538.12L616.3,538.05L615.53,537.97L614.77,537.89L614,537.8L613.24,537.71L612.47,537.62L611.71,537.53L610.94,537.43L610.18,537.33L609.41,537.22L608.65,537.12L607.88,537.01L607.12,536.9L606.35,536.8L605.59,536.68L604.82,536.57L604.06,536.46L603.29,536.35L602.53,536.25L601.76,536.14L601,536.03L600.23,535.93L599.47,535.83L598.7,535.73L597.94,535.63L597.17,535.54L596.41,535.45L595.65,535.36L594.88,535.28L594.12,535.2L593.35,535.12L592.59,535.05L591.82,534.98L591.06,534.91L590.29,534.85L589.53,534.79L588.76,534.73L588,534.68L587.23,534.63L586.47,534.59L585.7,534.55L584.94,534.51L584.17,534.47L583.41,534.43L582.64,534.4L581.88,534.37L581.11,534.34L580.35,534.32L579.58,534.29L578.82,534.27L578.05,534.25L577.29,534.23L576.52,534.21L575.76,534.19L574.99,534.18L574.23,534.16L573.47,534.15L572.7,534.14L571.94,534.13L571.17,534.12L570.41,534.11L569.64,534.1L568.88,534.09L568.11,534.08L567.35,534.08L566.58,534.07L565.82,534.07L565.05,534.06L564.29,534.06L563.52,534.05L562.76,534.05L561.99,534.04L561.23,534.04L560.46,534.04L559.7,534.03L558.93,534.03L558.17,534.03L557.4,534.03L556.64,534.02L555.87,534.02L555.11,534.02L554.34,534.02L553.58,534.02L552.82,534.02L552.05,534.01L551.29,534.01L550.52,534.01L549.76,534.01L548.99,534.01L548.23,534.01L547.46,534.01L546.7,534.01L545.93,534.01L545.17,534.01L544.4,534.01L543.64,534.01L542.87,534.01L542.11,534L541.34,534L540.58,534L539.81,534L539.05,534L538.28,534L537.52,534L536.75,534L535.99,534L535.22,534L534.46,534L533.69,534L532.93,534L532.16,534L531.4,534Z" fill="#f85a5a" fill-opacity="0.66" stroke="none"/>
<path d="M531.4,533.87L532.16,533.87L532.93,533.86L533.69,533.86L534.46,533.86L535.22,533.85L535.99,533.85L536.75,533.84L537.52,533.84L538.28,533.83L539.05,533.83L539.81,533.82L540.58,533.82L541.34,533.81L542.11,533.81L542.87,533.8L543.64,533.79L544.4,533.78L545.17,533.77L545.93,533.76L546.7,533.75L547.46,533.74L548.23,533.72L548.99,533.7L549.76,533.68L550.52,533.65L551.29,533.62L552.05,533.58L552.82,533.54L553.58,533.48L554.34,533.42L555.11,533.33L555.87,533.24L556.64,533.12L557.4,532.98L558.17,532.81L558.93,532.61L559.7,532.37L560.46,532.09L561.23,531.77L561.99,531.38L562.76,530.94L563.52,530.42L564.29,529.83L565.05,529.16L565.82,528.39L566.58,527.53L567.35,526.56L568.11,525.48L568.88,524.29L569.64,522.98L570.41,521.54L571.17,519.99L571.94,518.31L572.7,516.52L573.47,514.61L574.23,512.61L574.99,510.51L575.76,508.34L576.52,506.11L577.29,503.83L578.05,501.54L578.82,499.26L579.58,497.01L580.35,494.81L581.11,492.7L581.88,490.71L582.64,488.86L583.41,487.18L584.17,485.7L584.94,484.45L585.7,483.44L586.47,482.69L587.23,482.22L588,482.04L588.76,482.15L589.53,482.55L590.29,483.23L591.06,484.19L591.82,485.41L592.59,486.86L593.35,488.53L594.12,490.38L594.88,492.4L595.65,494.56L596.41,496.82L597.17,499.15L597.94,501.54L598.7,503.94L599.47,506.35L600.23,508.73L601,511.06L601.76,513.32L602.53,515.5L603.29,517.59L604.06,519.57L604.82,521.44L605.59,523.19L606.35,524.82L607.12,526.32L607.88,527.7L608.65,528.97L609.41,530.11L610.18,531.15L610.94,532.08L611.71,532.91L612.47,533.65L613.24,534.3L614,534.88L614.77,535.39L615.53,535.83L616.3,536.22L617.06,536.56L617.83,536.86L618.59,537.11L619.35,537.34L620.12,537.53L620.88,537.7L621.65,537.84L622.41,537.97L623.18,538.08L623.94,538.18L624.71,538.26L625.47,538.34L626.24,538.4L627,538.46L627.77,538.52L628.53,538.56L629.3,538.61L630.06,538.65L630.83,538.68L631.59,538.71L632.36,538.74L633.12,538.77L633.89,538.79L634.65,538.82L635.42,538.84L636.18,538.86L636.95,538.88L637.71,538.89L638.48,538.91L639.24,538.92L640.01,538.94L640.77,538.95L641.53,538.96L642.3,538.97L643.06,538.98L643.83,538.99L644.59,539L645.36,539.01L646.12,539.02L646.89,539.03L647.65,539.03L648.42,539.04L649.18,539.05L649.95,539.05L650.71,539.06L651.48,539.06L652.24,539.07L653.01,539.07L653.77,539.08L654.54,539.08L655.3,539.08L656.07,539.09L656.83,539.09L657.6,539.09L658.36,539.1L659.13,539.1L659.89,539.1L660.66,539.11L661.42,539.11L662.18,539.11L662.95,539.11L663.71,539.12L664.48,539.12L665.24,539.12L666.01,539.12L666.77,539.12L667.54,539.13L668.3,539.13L669.07,539.13L669.83,539.13L670.6,539.13L671.36,539.13L672.13,539.13L672.89,539.14L673.66,539.14L674.42,539.14L675.19,539.14L675.95,539.14L676.72,539.14L677.48,539.14L678.25,539.14L679.01,539.15L679.78,539.15L680.54,539.15L681.31,539.15L682.07,539.15L682.84,539.15L683.6,539.15" fill="none" stroke="#f08020" stroke-width="1.1"/>
<path d="M531.4,534L532.16,534L532.93,534L533.69,534L534.46,534L535.22,534L535.99,534L536.75,534L537.52,534L538.28,534L539.05,534L539.81,534L540.58,534L541.34,534L542.11,534L542.87,534.01L543.64,534.01L544.4,534.01L545.17,534.01L545.93,534.01L546.7,534.01L547.46,534.01L548.23,534.01L548.99,534.01L549.76,534.01L550.52,534.01L551.29,534.01L552.05,534.01L552.82,534.02L553.58,534.02L554.34,534.02L555.11,534.02L555.87,534.02L556.64,534.02L557.4,534.03L558.17,534.03L558.93,534.03L559.7,534.03L560.46,534.04L561.23,534.04L561.99,534.04L562.76,534.05L563.52,534.05L564.29,534.06L565.05,534.06L565.82,534.07L566.58,534.07L567.35,534.08L568.11,534.08L568.88,534.09L569.64,534.1L570.41,534.11L571.17,534.12L571.94,534.13L572.7,534.14L573.47,534.15L574.23,534.16L574.99,534.18L575.76,534.19L576.52,534.21L577.29,534.23L578.05,534.25L578.82,534.27L579.58,534.29L580.35,534.32L581.11,534.34L581.88,534.37L582.64,534.4L583.41,534.43L584.17,534.47L584.94,534.51L585.7,534.55L586.47,534.59L587.23,534.63L588,534.68L588.76,534.73L589.53,534.79L590.29,534.85L591.06,534.91L591.82,534.98L592.59,535.05L593.35,535.12L594.12,535.2L594.88,535.28L595.65,535.36L596.41,535.45L597.17,535.54L597.94,535.63L598.7,535.73L599.47,535.83L600.23,535.93L601,536.03L601.76,536.14L602.53,536.25L603.29,536.35L604.06,536.46L604.82,536.57L605.59,536.68L606.35,536.8L607.12,536.9L607.88,537.01L608.65,537.12L609.41,537.22L610.18,537.33L610.94,537.43L611.71,537.53L612.47,537.62L613.24,537.71L614,537.8L614.77,537.89L615.53,537.97L616.3,538.05L617.06,538.12L617.83,538.19L618.59,538.26L619.35,538.32L620.12,538.38L620.88,538.44L621.65,538.49L622.41,538.54L623.18,538.59L623.94,538.64L624.71,538.68L625.47,538.72L626.24,538.75L627,538.78L627.77,538.82L628.53,538.85L629.3,538.87L630.06,538.9L630.83,538.92L631.59,538.94L632.36,538.96L633.12,538.98L633.89,539L634.65,539.01L635.42,539.03L636.18,539.04L636.95,539.05L637.71,539.07L638.48,539.08L639.24,539.09L640.01,539.1L640.77,539.1L641.53,539.11L642.3,539.12L643.06,539.13L643.83,539.13L644.59,539.14L645.36,539.14L646.12,539.15L646.89,539.15L647.65,539.15L648.42,539.16L649.18,539.16L649.95,539.16L650.71,539.17L651.48,539.17L652.24,539.17L653.01,539.18L653.77,539.18L654.54,539.18L655.3,539.18L656.07,539.18L656.83,539.18L657.6,539.18L658.36,539.19L659.13,539.19L659.89,539.19L660.66,539.19L661.42,539.19L662.18,539.19L662.95,539.19L663.71,539.19L664.48,539.19L665.24,539.19L666.01,539.19L666.77,539.19L667.54,539.2L668.3,539.2L669.07,539.2L669.83,539.2L670.6,539.2L671.36,539.2L672.13,539.2L672.89,539.2L673.66,539.2L674.42,539.2L675.19,539.2L675.95,539.2L676.72,539.2L677.48,539.2L678.25,539.2L679.01,539.2L679.78,539.2L680.54,539.2L681.31,539.2L682.07,539.2L682.84,539.2L683.6,539.2" fill="none" stroke="#ff10ff" stroke-width="1.1"/>
<path d="M531.4,533.76L532.16,533.75L532.93,533.74L533.69,533.73L534.46,533.72L535.22,533.71L535.99,533.7L536.75,533.69L537.52,533.68L538.28,533.67L539.05,533.65L539.81,533.63L540.58,533.61L541.34,533.59L542.11,533.57L542.87,533.55L543.64,533.52L544.4,533.48L545.17,533.45L545.93,533.41L546.7,533.36L547.46,533.31L548.23,533.24L548.99,533.17L549.76,533.09L550.52,533L551.29,532.89L552.05,532.76L552.82,532.62L553.58,532.45L554.34,532.25L555.11,532.03L555.87,531.77L556.64,531.47L557.4,531.12L558.17,530.72L558.93,530.26L559.7,529.74L560.46,529.14L561.23,528.45L561.99,527.68L562.76,526.81L563.52,525.82L564.29,524.72L565.05,523.5L565.82,522.14L566.58,520.63L567.35,518.99L568.11,517.19L568.88,515.24L569.64,513.13L570.41,510.87L571.17,508.46L571.94,505.91L572.7,503.22L573.47,500.41L574.23,497.5L574.99,494.48L575.76,491.4L576.52,488.27L577.29,485.11L578.05,481.95L578.82,478.82L579.58,475.74L580.35,472.75L581.11,469.87L581.88,467.12L582.64,464.55L583.41,462.15L584.17,459.96L584.94,457.97L585.7,456.2L586.47,454.64L587.23,453.29L588,452.14L588.76,451.17L589.53,450.38L590.29,449.75L591.06,449.26L591.82,448.9L592.59,448.65L593.35,448.51L594.12,448.45L594.88,448.48L595.65,448.58L596.41,448.76L597.17,448.99L597.94,449.29L598.7,449.65L599.47,450.07L600.23,450.56L601,451.11L601.76,451.73L602.53,452.43L603.29,453.21L604.06,454.08L604.82,455.03L605.59,456.08L606.35,457.22L607.12,458.46L607.88,459.8L608.65,461.24L609.41,462.77L610.18,464.4L610.94,466.13L611.71,467.94L612.47,469.84L613.24,471.81L614,473.85L614.77,475.96L615.53,478.12L616.3,480.32L617.06,482.56L617.83,484.83L618.59,487.11L619.35,489.4L620.12,491.69L620.88,493.97L621.65,496.23L622.41,498.47L623.18,500.67L623.94,502.83L624.71,504.94L625.47,506.99L626.24,508.99L627,510.92L627.77,512.79L628.53,514.58L629.3,516.31L630.06,517.95L630.83,519.52L631.59,521.01L632.36,522.42L633.12,523.76L633.89,525.02L634.65,526.2L635.42,527.31L636.18,528.35L636.95,529.31L637.71,530.21L638.48,531.04L639.24,531.81L640.01,532.52L640.77,533.18L641.53,533.78L642.3,534.32L643.06,534.82L643.83,535.28L644.59,535.69L645.36,536.07L646.12,536.41L646.89,536.72L647.65,536.99L648.42,537.24L649.18,537.46L649.95,537.66L650.71,537.83L651.48,537.99L652.24,538.13L653.01,538.25L653.77,538.36L654.54,538.46L655.3,538.54L656.07,538.62L656.83,538.68L657.6,538.74L658.36,538.79L659.13,538.83L659.89,538.87L660.66,538.9L661.42,538.93L662.18,538.96L662.95,538.98L663.71,539L664.48,539.02L665.24,539.03L666.01,539.04L666.77,539.05L667.54,539.06L668.3,539.07L669.07,539.08L669.83,539.08L670.6,539.09L671.36,539.09L672.13,539.1L672.89,539.1L673.66,539.1L674.42,539.11L675.19,539.11L675.95,539.11L676.72,539.11L677.48,539.12L678.25,539.12L679.01,539.12L679.78,539.12L680.54,539.12L681.31,539.13L682.07,539.13L682.84,539.13L683.6,539.13" fill="none" stroke="#1a8a1a" stroke-width="1.4"/>
<circle cx="532.9" cy="533.37" r="1.05" fill="#a6eca6" stroke="#8ee08e" stroke-width="0.5"/>
<circle cx="535.6" cy="534.05" r="1.05" fill="#a6eca6" stroke="#8ee08e" stroke-width="0.5"/>
<circle cx="538.3" cy="534.23" r="1.05" fill="#a6eca6" stroke="#8ee08e" stroke-width="0.5"/>
<circle cx="541" cy="534.38" r="1.05" fill="#a6eca6" stroke="#8ee08e" stroke-width="0.5"/>
<circle cx="543.7" cy="533.13" r="1.05" fill="#a6eca6" stroke="#8ee08e" stroke-width="0.5"/>
<circle cx="546.4" cy="534.17" r="1.05" fill="#a6eca6" stroke="#8ee08e" stroke-width="0.5"/>
<circle cx="549.1" cy="534" r="1.05" fill="#a6eca6" stroke="#8ee08e" stroke-width="0.5"/>
<circle cx="551.8" cy="533.17" r="1.05" fill="#a6eca6" stroke="#8ee08e" stroke-width="0.5"/>
<circle cx="554.5" cy="533.21" r="1.05" fill="#a6eca6" stroke="#8ee08e" stroke-width="0.5"/>
<circle cx="557.2" cy="532.07" r="1.05" fill="#a6eca6" stroke="#8ee08e" stroke-width="0.5"/>
<circle cx="559.9" cy="529.23" r="1.05" fill="#a6eca6" stroke="#8ee08e" stroke-width="0.5"/>
<circle cx="562.6" cy="526.45" r="1.05" fill="#a6eca6" stroke="#8ee08e" stroke-width="0.5"/>
<circle cx="565.3" cy="521.37" r="1.05" fill="#a6eca6" stroke="#8ee08e" stroke-width="0.5"/>
<circle cx="568" cy="517.02" r="1.05" fill="#a6eca6" stroke="#8ee08e" stroke-width="0.5"/>
<circle cx="570.7" cy="509.42" r="1.05" fill="#a6eca6" stroke="#8ee08e" stroke-width="0.5"/>
<circle cx="573.4" cy="498.71" r="1.05" fill="#a6eca6" stroke="#8ee08e" stroke-width="0.5"/>
<circle cx="576.1" cy="488.42" r="1.05" fill="#a6eca6" stroke="#8ee08e" stroke-width="0.5"/>
<circle cx="578.8" cy="477.4" r="1.05" fill="#a6eca6" stroke="#8ee08e" stroke-width="0.5"/>
<circle cx="581.5" cy="467.26" r="1.05" fill="#a6eca6" stroke="#8ee08e" stroke-width="0.5"/>
<circle cx="584.2" cy="457.78" r="1.05" fill="#a6eca6" stroke="#8ee08e" stroke-width="0.5"/>
<circle cx="586.9" cy="453.69" r="1.05" fill="#a6eca6" stroke="#8ee08e" stroke-width="0.5"/>
<circle cx="589.6" cy="450.09" r="1.05" fill="#a6eca6" stroke="#8ee08e" stroke-width="0.5"/>
<circle cx="592.3" cy="449" r="1.05" fill="#a6eca6" stroke="#8ee08e" stroke-width="0.5"/>
<circle cx="595" cy="448.37" r="1.05" fill="#a6eca6" stroke="#8ee08e" stroke-width="0.5"/>
<circle cx="597.7" cy="449.7" r="1.05" fill="#a6eca6" stroke="#8ee08e" stroke-width="0.5"/>
<circle cx="600.4" cy="451.69" r="1.05" fill="#a6eca6" stroke="#8ee08e" stroke-width="0.5"/>
<circle cx="603.1" cy="453.88" r="1.05" fill="#a6eca6" stroke="#8ee08e" stroke-width="0.5"/>
<circle cx="605.8" cy="457.67" r="1.05" fill="#a6eca6" stroke="#8ee08e" stroke-width="0.5"/>
<circle cx="608.5" cy="460.8" r="1.05" fill="#a6eca6" stroke="#8ee08e" stroke-width="0.5"/>
<circle cx="611.2" cy="467.11" r="1.05" fill="#a6eca6" stroke="#8ee08e" stroke-width="0.5"/>
<circle cx="613.9" cy="474.8" r="1.05" fill="#a6eca6" stroke="#8ee08e" stroke-width="0.5"/>
<circle cx="616.6" cy="483.04" r="1.05" fill="#a6eca6" stroke="#8ee08e" stroke-width="0.5"/>
<circle cx="619.3" cy="490.06" r="1.05" fill="#a6eca6" stroke="#8ee08e" stroke-width="0.5"/>
<circle cx="622" cy="499.16" r="1.05" fill="#a6eca6" stroke="#8ee08e" stroke-width="0.5"/>
<circle cx="624.7" cy="506.58" r="1.05" fill="#a6eca6" stroke="#8ee08e" stroke-width="0.5"/>
<circle cx="627.4" cy="512" r="1.05" fill="#a6eca6" stroke="#8ee08e" stroke-width="0.5"/>
<circle cx="630.1" cy="518.99" r="1.05" fill="#a6eca6" stroke="#8ee08e" stroke-width="0.5"/>
<circle cx="632.8" cy="523.4" r="1.05" fill="#a6eca6" stroke="#8ee08e" stroke-width="0.5"/>
<circle cx="635.5" cy="527.04" r="1.05" fill="#a6eca6" stroke="#8ee08e" stroke-width="0.5"/>
<circle cx="638.2" cy="530.4" r="1.05" fill="#a6eca6" stroke="#8ee08e" stroke-width="0.5"/>
<circle cx="640.9" cy="533.24" r="1.05" fill="#a6eca6" stroke="#8ee08e" stroke-width="0.5"/>
<circle cx="643.6" cy="534.67" r="1.05" fill="#a6eca6" stroke="#8ee08e" stroke-width="0.5"/>
<circle cx="646.3" cy="535.95" r="1.05" fill="#a6eca6" stroke="#8ee08e" stroke-width="0.5"/>
<circle cx="649" cy="536.43" r="1.05" fill="#a6eca6" stroke="#8ee08e" stroke-width="0.5"/>
<circle cx="651.7" cy="538.04" r="1.05" fill="#a6eca6" stroke="#8ee08e" stroke-width="0.5"/>
<circle cx="654.4" cy="538.21" r="1.05" fill="#a6eca6" stroke="#8ee08e" stroke-width="0.5"/>
<circle cx="657.1" cy="539.01" r="1.05" fill="#a6eca6" stroke="#8ee08e" stroke-width="0.5"/>
<circle cx="659.8" cy="539.11" r="1.05" fill="#a6eca6" stroke="#8ee08e" stroke-width="0.5"/>
<circle cx="662.5" cy="538.35" r="1.05" fill="#a6eca6" stroke="#8ee08e" stroke-width="0.5"/>
<circle cx="665.2" cy="540" r="1.05" fill="#a6eca6" stroke="#8ee08e" stroke-width="0.5"/>
<circle cx="667.9" cy="537.87" r="1.05" fill="#a6eca6" stroke="#8ee08e" stroke-width="0.5"/>
<circle cx="670.6" cy="538.86" r="1.05" fill="#a6eca6" stroke="#8ee08e" stroke-width="0.5"/>
<circle cx="673.3" cy="538.57" r="1.05" fill="#a6eca6" stroke="#8ee08e" stroke-width="0.5"/>
<circle cx="676" cy="538.9" r="1.05" fill="#a6eca6" stroke="#8ee08e" stroke-width="0.5"/>
<circle cx="678.7" cy="538.2" r="1.05" fill="#a6eca6" stroke="#8ee08e" stroke-width="0.5"/>
<circle cx="681.4" cy="539.92" r="1.05" fill="#a6eca6" stroke="#8ee08e" stroke-width="0.5"/>
</g>
<rect x="531.4" y="420.1" width="152.2" height="122.3" fill="none" stroke="#000" stroke-width="1.3"/>
<line x1="531.4" y1="542.4" x2="531.4" y2="544.8" stroke="#000" stroke-width="1"/>
<text x="531.4" y="552.6" font-size="8.4" text-anchor="middle" font-weight="normal" fill="#000" >490</text>
<line x1="553.14" y1="542.4" x2="553.14" y2="544" stroke="#000" stroke-width="1"/>
<line x1="574.89" y1="542.4" x2="574.89" y2="544.8" stroke="#000" stroke-width="1"/>
<text x="574.89" y="552.6" font-size="8.4" text-anchor="middle" font-weight="normal" fill="#000" >488</text>
<line x1="596.63" y1="542.4" x2="596.63" y2="544" stroke="#000" stroke-width="1"/>
<line x1="618.37" y1="542.4" x2="618.37" y2="544.8" stroke="#000" stroke-width="1"/>
<text x="618.37" y="552.6" font-size="8.4" text-anchor="middle" font-weight="normal" fill="#000" >486</text>
<line x1="640.11" y1="542.4" x2="640.11" y2="544" stroke="#000" stroke-width="1"/>
<line x1="661.86" y1="542.4" x2="661.86" y2="544.8" stroke="#000" stroke-width="1"/>
<text x="661.86" y="552.6" font-size="8.4" text-anchor="middle" font-weight="normal" fill="#000" >484</text>
<line x1="683.6" y1="542.4" x2="683.6" y2="544" stroke="#000" stroke-width="1"/>
<text x="615.5" y="563.2" font-size="9.1" text-anchor="middle" font-weight="normal" fill="#000" >Binding energy (eV)</text>
<text transform="translate(522.1,477.4) rotate(-90)" font-size="9.5" text-anchor="middle">Intensity (a.u.)</text>
<text x="534.6" y="433.9" font-size="9" text-anchor="start" font-weight="normal" fill="#000" >MEBT</text>
<circle cx="625.75" cy="427.6" r="1.3" fill="#b4f0b4" stroke="#9be89b" stroke-width="0.6"/>
<line x1="618.5" y1="436.8" x2="633" y2="436.8" stroke="#1a8a1a" stroke-width="1.3"/>
<line x1="618.5" y1="445.9" x2="633" y2="445.9" stroke="#ff10ff" stroke-width="1.3"/>
<rect x="618.5" y="453" width="14.5" height="6.8" fill="#f5bd8c" stroke="#c8a080" stroke-width="0.6"/>
<rect x="618.5" y="463.1" width="14.5" height="6.9" fill="#ff9494" stroke="#c08080" stroke-width="0.6"/>
<text x="635.4" y="430.2" font-size="7.4" text-anchor="start" font-weight="normal" fill="#000" >Raw data</text>
<text x="635.4" y="439.4" font-size="7.4" text-anchor="start" font-weight="normal" fill="#000" >Peak sum</text>
<text x="635.4" y="448.5" font-size="7.4" text-anchor="start" font-weight="normal" fill="#000" >Background</text>
<text x="635.4" y="459" font-size="7.4">Sn<tspan font-size="5" dy="-3">2+</tspan></text>
<text x="635.4" y="469.15" font-size="7.4">Sn<tspan font-size="5" dy="-3">4+</tspan></text>
</g></svg></body></html>
